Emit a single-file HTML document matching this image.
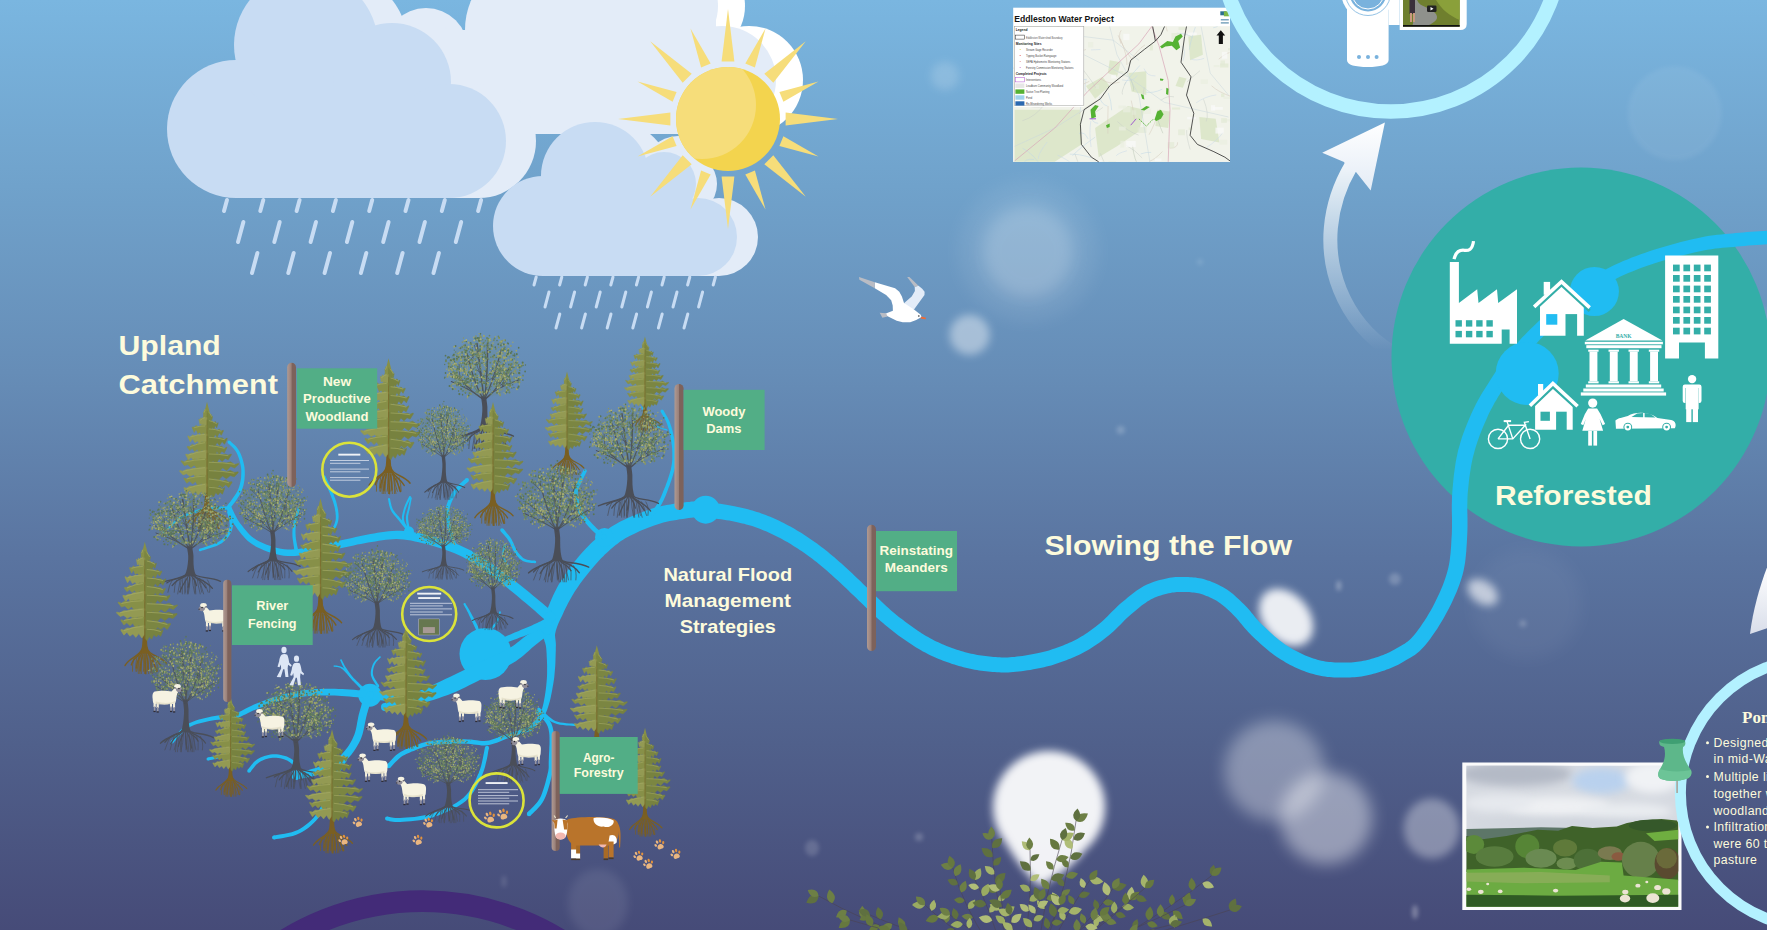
<!DOCTYPE html>
<html><head><meta charset="utf-8">
<style>
html,body{margin:0;padding:0;background:#5a6f9d;}
body{width:1767px;height:930px;overflow:hidden;position:relative;font-family:"Liberation Sans",sans-serif;}
svg{position:absolute;left:0;top:0;display:block}
text{font-family:"Liberation Sans",sans-serif;font-weight:bold;fill:#fdfbdc}
</style></head><body>
<svg width="1767" height="930" viewBox="0 0 1767 930">
<defs>
<linearGradient id="bg" x1="0" y1="0" x2="0" y2="1">
<stop offset="0" stop-color="#7ab6e0"/>
<stop offset="0.2" stop-color="#70a2cb"/>
<stop offset="0.4" stop-color="#668db7"/>
<stop offset="0.6" stop-color="#5a74a0"/>
<stop offset="0.8" stop-color="#50608b"/>
<stop offset="1" stop-color="#464b78"/>
</linearGradient>
<symbol id="con" viewBox="-50 0 100 175" preserveAspectRatio="none" overflow="visible"><g fill="none" stroke="#7a5f22" stroke-linecap="round"><path d="M-3.0 136 C-6.0 148.0 -22.0 148.0 -29.3 159.5" stroke-width="2"/><path d="M-16.0 150.0 q-3.0 8.0 -2.3 17.0" stroke-width="1.1"/><path d="M-9.0 146.0 q-1.0 10.0 -0.6 24.0" stroke-width="1"/><path d="M-2.2 136 C-4.5 148.0 -16.5 146.3 -20.0 158.7" stroke-width="2"/><path d="M-12.0 150.0 q-2.2 8.0 -1.1 17.0" stroke-width="1.1"/><path d="M-6.8 146.0 q-0.8 10.0 -0.6 24.0" stroke-width="1"/><path d="M-1.5 136 C-3.0 148.0 -11.0 146.3 -12.6 162.7" stroke-width="2"/><path d="M-8.0 150.0 q-1.5 8.0 -4.0 17.0" stroke-width="1.1"/><path d="M-4.5 146.0 q-0.5 10.0 -0.7 24.0" stroke-width="1"/><path d="M-0.8 136 C-1.5 148.0 -5.5 145.1 -7.1 165.6" stroke-width="2"/><path d="M-4.0 150.0 q-0.8 8.0 -2.6 17.0" stroke-width="1.1"/><path d="M-2.2 146.0 q-0.2 10.0 2.0 24.0" stroke-width="1"/><path d="M0.0 136 C0.0 148.0 0.0 148.0 1.6 170.0" stroke-width="2"/><path d="M0.0 150.0 q0.0 8.0 -2.2 17.0" stroke-width="1.1"/><path d="M0.0 146.0 q0.0 10.0 0.7 24.0" stroke-width="1"/><path d="M0.8 136 C1.5 148.0 5.5 148.4 5.3 165.5" stroke-width="2"/><path d="M4.0 150.0 q0.8 8.0 -0.5 17.0" stroke-width="1.1"/><path d="M2.2 146.0 q0.2 10.0 -1.2 24.0" stroke-width="1"/><path d="M1.5 136 C3.0 148.0 11.0 145.4 17.9 167.2" stroke-width="2"/><path d="M8.0 150.0 q1.5 8.0 5.3 17.0" stroke-width="1.1"/><path d="M4.5 146.0 q0.5 10.0 1.2 24.0" stroke-width="1"/><path d="M2.2 136 C4.5 148.0 16.5 148.7 23.6 159.7" stroke-width="2"/><path d="M12.0 150.0 q2.2 8.0 4.9 17.0" stroke-width="1.1"/><path d="M6.8 146.0 q0.8 10.0 4.3 24.0" stroke-width="1"/><path d="M3.0 136 C6.0 148.0 22.0 145.8 32.4 156.8" stroke-width="2"/><path d="M16.0 150.0 q3.0 8.0 3.0 17.0" stroke-width="1.1"/><path d="M9.0 146.0 q1.0 10.0 -0.1 24.0" stroke-width="1"/></g><path d="M-6 144 C-3.5 136 -2.4 126 -2 60 L0 6 L2 60 C2.4 126 3.5 136 6 144 Z" fill="#7a5f22"/><path d="M0 0 L3.5 12 L6 20 L-6 20 L-3.5 12 Z" fill="#879048"/><path d="M-0.0 9.0 L-0.7 9.8 L-1.3 9.3 L-2.0 10.9 L-2.7 10.4 L-3.4 11.7 L-4.0 10.7 L-4.7 14.8 L-5.4 13.7 L-5.4 14.9 L-4.7 19.3 L-4.0 17.8 L-3.4 22.7 L-2.7 19.0 L-2.0 22.6 L-1.3 20.4 L-0.7 23.7 L-0.0 19.8Z" fill="#879048" stroke="#879048" stroke-width="0.8" stroke-linejoin="round"/><path d="M-3.0 9.9 Q-2.7 10.8 -4.7 14.6" stroke="#a5ab64" stroke-width="1.3" fill="none" opacity="0.7"/><path d="M0.0 12.1 L1.0 14.4 L2.1 14.3 L3.1 16.0 L4.2 14.8 L5.2 17.6 L6.2 16.7 L7.3 19.8 L8.3 19.1 L8.3 20.3 L7.3 24.3 L6.2 22.7 L5.2 25.7 L4.2 23.2 L3.1 27.1 L2.1 24.8 L1.0 27.6 L0.0 24.1Z" fill="#7b8642" stroke="#7b8642" stroke-width="0.8" stroke-linejoin="round"/><path d="M3.0 13.8 Q4.2 15.2 7.3 19.6" stroke="#a5ab64" stroke-width="1.3" fill="none" opacity="0.7"/><path d="M-0.0 20.5 L-1.5 21.1 L-3.1 20.0 L-4.6 20.9 L-6.2 20.3 L-7.7 23.4 L-9.2 20.8 L-10.8 24.2 L-12.3 22.6 L-12.3 23.8 L-10.8 30.0 L-9.2 28.3 L-7.7 31.3 L-6.2 29.3 L-4.6 32.7 L-3.1 30.0 L-1.5 35.0 L-0.0 31.4Z" fill="#939a53" stroke="#939a53" stroke-width="0.8" stroke-linejoin="round"/><path d="M-3.0 20.9 Q-6.2 21.3 -10.8 24.5" stroke="#a5ab64" stroke-width="1.3" fill="none" opacity="0.7"/><path d="M0.0 23.7 L2.1 25.1 L4.3 24.4 L6.4 25.1 L8.5 25.8 L10.6 27.5 L12.8 25.9 L14.9 29.2 L17.0 27.5 L17.0 28.7 L14.9 34.3 L12.8 31.1 L10.6 35.5 L8.5 33.5 L6.4 38.2 L4.3 35.2 L2.1 38.0 L0.0 34.8Z" fill="#77823f" stroke="#77823f" stroke-width="0.8" stroke-linejoin="round"/><path d="M3.0 24.8 Q8.5 25.5 15.0 29.0" stroke="#a5ab64" stroke-width="1.3" fill="none" opacity="0.7"/><path d="M-0.0 30.8 L-2.8 31.6 L-5.6 30.6 L-8.4 31.3 L-11.2 31.9 L-14.0 32.9 L-16.8 31.2 L-19.6 33.5 L-22.5 33.2 L-22.5 34.4 L-19.6 40.5 L-16.8 36.4 L-14.0 42.1 L-11.2 40.2 L-8.4 43.7 L-5.6 40.9 L-2.8 45.7 L-0.0 42.7Z" fill="#879048" stroke="#879048" stroke-width="0.8" stroke-linejoin="round"/><path d="M-3.0 31.9 Q-11.2 31.7 -19.8 34.2" stroke="#a5ab64" stroke-width="1.3" fill="none" opacity="0.7"/><path d="M0.0 35.2 L3.1 35.7 L6.3 35.4 L9.4 36.1 L12.5 35.8 L15.6 37.9 L18.8 36.1 L21.9 38.6 L25.0 37.6 L25.0 38.8 L21.9 44.1 L18.8 40.8 L15.6 46.8 L12.5 43.2 L9.4 48.8 L6.3 44.8 L3.1 49.5 L0.0 47.0Z" fill="#7b8642" stroke="#7b8642" stroke-width="0.8" stroke-linejoin="round"/><path d="M3.0 35.8 Q12.5 36.0 22.0 38.8" stroke="#a5ab64" stroke-width="1.3" fill="none" opacity="0.7"/><path d="M-0.0 42.4 L-3.7 42.6 L-7.3 42.8 L-11.0 43.9 L-14.7 43.1 L-18.3 45.3 L-22.0 43.5 L-25.7 46.6 L-29.3 44.8 L-29.3 46.0 L-25.7 52.9 L-22.0 48.6 L-18.3 53.9 L-14.7 51.8 L-11.0 56.2 L-7.3 52.1 L-3.7 57.4 L-0.0 53.5Z" fill="#939a53" stroke="#939a53" stroke-width="0.8" stroke-linejoin="round"/><path d="M-3.0 42.9 Q-14.7 43.2 -25.8 46.3" stroke="#a5ab64" stroke-width="1.3" fill="none" opacity="0.7"/><path d="M0.0 45.3 L3.8 46.4 L7.7 46.0 L11.5 47.7 L15.4 46.9 L19.2 47.8 L23.1 47.4 L26.9 50.0 L30.8 47.8 L30.8 49.0 L26.9 56.0 L23.1 52.4 L19.2 57.5 L15.4 53.7 L11.5 59.6 L7.7 56.5 L3.8 61.1 L0.0 58.3Z" fill="#77823f" stroke="#77823f" stroke-width="0.8" stroke-linejoin="round"/><path d="M3.0 46.8 Q15.4 47.1 27.1 50.0" stroke="#a5ab64" stroke-width="1.3" fill="none" opacity="0.7"/><path d="M-0.0 52.3 L-3.8 53.1 L-7.6 53.1 L-11.3 55.1 L-15.1 55.1 L-18.9 57.7 L-22.7 56.1 L-26.5 59.0 L-30.2 58.8 L-30.2 60.0 L-26.5 64.3 L-22.7 61.6 L-18.9 65.4 L-15.1 62.6 L-11.3 67.6 L-7.6 63.9 L-3.8 67.6 L-0.0 64.4Z" fill="#879048" stroke="#879048" stroke-width="0.8" stroke-linejoin="round"/><path d="M-3.0 53.9 Q-15.1 55.2 -26.6 59.5" stroke="#a5ab64" stroke-width="1.3" fill="none" opacity="0.7"/><path d="M0.0 56.2 L3.8 57.1 L7.6 58.0 L11.4 58.3 L15.2 58.0 L19.0 59.0 L22.8 58.6 L26.5 61.8 L30.3 59.7 L30.3 60.9 L26.5 67.3 L22.8 65.2 L19.0 69.1 L15.2 65.7 L11.4 71.1 L7.6 68.0 L3.8 72.0 L0.0 68.8Z" fill="#7b8642" stroke="#7b8642" stroke-width="0.8" stroke-linejoin="round"/><path d="M3.0 57.8 Q15.2 58.3 26.7 61.4" stroke="#a5ab64" stroke-width="1.3" fill="none" opacity="0.7"/><path d="M-0.0 64.0 L-4.1 64.1 L-8.1 65.4 L-12.2 66.1 L-16.2 65.5 L-20.3 67.7 L-24.3 67.7 L-28.4 69.5 L-32.5 69.0 L-32.5 70.2 L-28.4 76.9 L-24.3 73.0 L-20.3 78.2 L-16.2 74.9 L-12.2 77.7 L-8.1 74.7 L-4.1 79.4 L-0.0 76.0Z" fill="#939a53" stroke="#939a53" stroke-width="0.8" stroke-linejoin="round"/><path d="M-3.0 64.9 Q-16.2 66.1 -28.6 70.3" stroke="#a5ab64" stroke-width="1.3" fill="none" opacity="0.7"/><path d="M0.0 67.8 L4.6 68.1 L9.3 68.1 L13.9 68.5 L18.6 68.6 L23.2 69.7 L27.9 69.1 L32.5 70.4 L37.2 68.9 L37.2 70.1 L32.5 76.4 L27.9 74.7 L23.2 78.6 L18.6 75.2 L13.9 81.5 L9.3 77.9 L4.6 81.9 L0.0 79.3Z" fill="#77823f" stroke="#77823f" stroke-width="0.8" stroke-linejoin="round"/><path d="M3.0 68.8 Q18.6 68.7 32.7 71.1" stroke="#a5ab64" stroke-width="1.3" fill="none" opacity="0.7"/><path d="M-0.0 74.8 L-4.9 75.5 L-9.9 74.7 L-14.8 76.1 L-19.7 75.6 L-24.7 77.7 L-29.6 76.3 L-34.6 79.3 L-39.5 77.6 L-39.5 78.8 L-34.6 84.2 L-29.6 82.8 L-24.7 86.9 L-19.7 83.6 L-14.8 88.6 L-9.9 85.9 L-4.9 90.4 L-0.0 87.0Z" fill="#879048" stroke="#879048" stroke-width="0.8" stroke-linejoin="round"/><path d="M-3.0 75.9 Q-19.7 76.3 -34.8 79.5" stroke="#a5ab64" stroke-width="1.3" fill="none" opacity="0.7"/><path d="M0.0 78.9 L6.0 79.6 L12.1 79.1 L18.1 80.2 L24.2 79.9 L30.2 80.7 L36.3 79.2 L42.3 82.7 L48.3 81.4 L48.3 82.6 L42.3 87.3 L36.3 85.1 L30.2 91.0 L24.2 87.1 L18.1 92.0 L12.1 89.5 L6.0 93.6 L0.0 89.7Z" fill="#7b8642" stroke="#7b8642" stroke-width="0.8" stroke-linejoin="round"/><path d="M3.0 79.8 Q24.2 79.8 42.5 82.4" stroke="#a5ab64" stroke-width="1.3" fill="none" opacity="0.7"/><path d="M-0.0 86.3 L-5.2 86.0 L-10.5 86.7 L-15.7 87.7 L-20.9 87.6 L-26.1 88.8 L-31.4 89.0 L-36.6 91.5 L-41.8 90.7 L-41.8 91.9 L-36.6 96.4 L-31.4 94.9 L-26.1 98.3 L-20.9 96.2 L-15.7 99.3 L-10.5 96.7 L-5.2 101.0 L-0.0 98.6Z" fill="#939a53" stroke="#939a53" stroke-width="0.8" stroke-linejoin="round"/><path d="M-3.0 86.9 Q-20.9 87.8 -36.8 91.6" stroke="#a5ab64" stroke-width="1.3" fill="none" opacity="0.7"/><path d="M0.0 89.1 L6.0 89.8 L11.9 90.9 L17.9 90.7 L23.8 91.3 L29.8 92.6 L35.7 90.7 L41.7 93.1 L47.7 92.4 L47.7 93.6 L41.7 99.0 L35.7 97.3 L29.8 101.5 L23.8 98.0 L17.9 102.9 L11.9 100.7 L6.0 105.1 L0.0 102.4Z" fill="#77823f" stroke="#77823f" stroke-width="0.8" stroke-linejoin="round"/><path d="M3.0 90.8 Q23.8 91.1 41.9 94.1" stroke="#a5ab64" stroke-width="1.3" fill="none" opacity="0.7"/><path d="M-0.0 97.3 L-4.4 96.8 L-8.9 97.0 L-13.3 98.5 L-17.7 97.7 L-22.1 100.1 L-26.6 98.9 L-31.0 101.9 L-35.4 100.4 L-35.4 101.6 L-31.0 107.4 L-26.6 104.4 L-22.1 108.4 L-17.7 105.1 L-13.3 111.4 L-8.9 107.7 L-4.4 111.8 L-0.0 109.5Z" fill="#879048" stroke="#879048" stroke-width="0.8" stroke-linejoin="round"/><path d="M-3.0 97.9 Q-17.7 98.4 -31.2 101.6" stroke="#a5ab64" stroke-width="1.3" fill="none" opacity="0.7"/><path d="M0.0 101.2 L4.8 100.9 L9.5 101.4 L14.3 102.4 L19.1 102.8 L23.8 104.8 L28.6 103.0 L33.3 105.9 L38.1 105.4 L38.1 106.6 L33.3 113.1 L28.6 109.5 L23.8 113.0 L19.1 109.8 L14.3 115.4 L9.5 112.2 L4.8 115.5 L0.0 112.8Z" fill="#7b8642" stroke="#7b8642" stroke-width="0.8" stroke-linejoin="round"/><path d="M3.0 101.8 Q19.1 102.8 33.5 106.7" stroke="#a5ab64" stroke-width="1.3" fill="none" opacity="0.7"/><path d="M-0.0 108.2 L-4.4 108.1 L-8.8 109.2 L-13.3 109.7 L-17.7 110.3 L-22.1 111.5 L-26.5 111.1 L-31.0 113.9 L-35.4 113.1 L-35.4 114.3 L-31.0 120.4 L-26.5 116.5 L-22.1 121.7 L-17.7 118.8 L-13.3 123.3 L-8.8 118.4 L-4.4 124.1 L-0.0 118.9Z" fill="#939a53" stroke="#939a53" stroke-width="0.8" stroke-linejoin="round"/><path d="M-3.0 108.9 Q-17.7 110.2 -31.1 114.6" stroke="#a5ab64" stroke-width="1.3" fill="none" opacity="0.7"/><path d="M0.0 112.1 L3.4 112.1 L6.7 112.1 L10.1 113.2 L13.5 112.2 L16.9 113.3 L20.2 112.1 L23.6 115.3 L27.0 113.3 L27.0 114.5 L23.6 121.9 L20.2 119.4 L16.9 122.8 L13.5 119.7 L10.1 125.6 L6.7 122.3 L3.4 127.5 L0.0 124.3Z" fill="#77823f" stroke="#77823f" stroke-width="0.8" stroke-linejoin="round"/><path d="M3.0 112.8 Q13.5 112.9 23.8 115.6" stroke="#a5ab64" stroke-width="1.3" fill="none" opacity="0.7"/><path d="M-1.1 136 L-0.7 40 L0 14 L0.7 40 L1.1 136 Z" fill="#7a5f22" opacity="0.55"/></symbol>
<symbol id="dec" viewBox="-50 0 100 130" preserveAspectRatio="none" overflow="visible"><g fill="none" stroke="#4a4e58" stroke-linecap="round"><path d="M-3.0 99 C-8.0 106.0 -22.0 105.6 -36.3 111.5" stroke-width="1.5"/><path d="M-20.0 107.0 q-4.0 6.0 -5.2 15.0" stroke-width="0.8"/><path d="M-11.0 105.0 q-1.0 8.0 -3.0 19.0" stroke-width="0.8"/><path d="M-2.2 99 C-6.0 106.0 -16.5 103.6 -26.5 110.7" stroke-width="1.5"/><path d="M-15.0 107.0 q-3.0 6.0 -3.0 15.0" stroke-width="0.8"/><path d="M-8.2 105.0 q-0.8 8.0 -0.5 19.0" stroke-width="0.8"/><path d="M-1.5 99 C-4.0 106.0 -11.0 101.5 -20.4 113.9" stroke-width="1.5"/><path d="M-10.0 107.0 q-2.0 6.0 -0.6 15.0" stroke-width="0.8"/><path d="M-5.5 105.0 q-0.5 8.0 -0.3 19.0" stroke-width="0.8"/><path d="M-0.8 99 C-2.0 106.0 -5.5 105.8 -11.7 121.6" stroke-width="1.5"/><path d="M-5.0 107.0 q-1.0 6.0 -0.3 15.0" stroke-width="0.8"/><path d="M-2.8 105.0 q-0.2 8.0 -0.1 19.0" stroke-width="0.8"/><path d="M0.0 99 C0.0 106.0 0.0 103.6 -2.1 116.1" stroke-width="1.5"/><path d="M0.0 107.0 q0.0 6.0 -2.6 15.0" stroke-width="0.8"/><path d="M0.0 105.0 q0.0 8.0 -1.9 19.0" stroke-width="0.8"/><path d="M0.8 99 C2.0 106.0 5.5 103.3 7.5 114.0" stroke-width="1.5"/><path d="M5.0 107.0 q1.0 6.0 0.9 15.0" stroke-width="0.8"/><path d="M2.8 105.0 q0.2 8.0 2.8 19.0" stroke-width="0.8"/><path d="M1.5 99 C4.0 106.0 11.0 103.5 18.1 116.6" stroke-width="1.5"/><path d="M10.0 107.0 q2.0 6.0 3.5 15.0" stroke-width="0.8"/><path d="M5.5 105.0 q0.5 8.0 1.2 19.0" stroke-width="0.8"/><path d="M2.2 99 C6.0 106.0 16.5 106.0 25.7 117.2" stroke-width="1.5"/><path d="M15.0 107.0 q3.0 6.0 5.8 15.0" stroke-width="0.8"/><path d="M8.2 105.0 q0.8 8.0 3.5 19.0" stroke-width="0.8"/><path d="M3.0 99 C8.0 106.0 22.0 102.4 34.9 108.8" stroke-width="1.5"/><path d="M20.0 107.0 q4.0 6.0 2.4 15.0" stroke-width="0.8"/><path d="M11.0 105.0 q1.0 8.0 4.6 19.0" stroke-width="0.8"/></g><path d="M-6 102 C-3.5 96 -2.5 90 -2 82 C-1.5 76 -3 72 -3.5 66 L2.5 66 C3 72 4.5 76 4 82 C4 90 4.5 96 7 102 Z" fill="#4a4e58"/><g fill="none" stroke="#4a4e58" stroke-linecap="round"><path d="M0 70 Q-12.8 63.7 -34.6 42.1" stroke-width="1.2"/><path d="M-27.5 48.9 L-41.5 40.8" stroke-width="0.8"/><path d="M-28.7 47.8 L-29.5 32.0" stroke-width="0.8"/><path d="M-19.7 56.0 L-31.6 43.7" stroke-width="0.8"/><path d="M0 70 Q-9.6 58.7 -20.3 20.6" stroke-width="1.5"/><path d="M-17.8 29.1 L-10.6 21.9" stroke-width="0.8"/><path d="M-11.1 48.9 L-22.3 42.3" stroke-width="0.8"/><path d="M-16.3 34.2 L-25.3 22.6" stroke-width="0.8"/><path d="M0 70 Q-1.5 57.0 -8.3 10.1" stroke-width="1.8"/><path d="M-5.1 32.3 L-15.9 22.1" stroke-width="0.8"/><path d="M-3.2 45.7 L-9.7 30.0" stroke-width="0.8"/><path d="M-5.9 26.6 L-11.4 11.8" stroke-width="0.8"/><path d="M0 70 Q3.6 61.1 4.3 9.4" stroke-width="1.9"/><path d="M2.9 50.7 L16.6 42.6" stroke-width="0.8"/><path d="M3.1 46.2 L10.8 36.9" stroke-width="0.8"/><path d="M3.2 45.1 L-8.7 38.2" stroke-width="0.8"/><path d="M0 70 Q7.8 59.0 20.5 16.5" stroke-width="1.5"/><path d="M12.3 42.1 L25.1 31.3" stroke-width="0.8"/><path d="M13.5 38.6 L23.8 30.7" stroke-width="0.8"/><path d="M9.4 50.1 L20.8 35.9" stroke-width="0.8"/><path d="M0 70 Q12.8 63.5 32.5 32.1" stroke-width="1.3"/><path d="M15.8 55.8 L28.4 41.0" stroke-width="0.8"/><path d="M22.1 47.7 L19.9 40.6" stroke-width="0.8"/><path d="M13.5 58.5 L26.4 50.1" stroke-width="0.8"/><path d="M0 70 Q-11.6 60.8 -38.8 50.5" stroke-width="1.1"/><path d="M-18.8 58.9 L-27.9 45.7" stroke-width="0.8"/><path d="M-14.8 60.9 L-22.4 49.3" stroke-width="0.8"/><path d="M-30.2 53.9 L-27.0 45.1" stroke-width="0.8"/><path d="M0 70 Q12.0 58.2 42.5 48.2" stroke-width="1.1"/><path d="M23.4 55.4 L11.1 47.6" stroke-width="0.8"/><path d="M21.8 56.1 L23.8 48.8" stroke-width="0.8"/><path d="M21.7 56.2 L32.6 40.4" stroke-width="0.8"/></g><ellipse cx="0" cy="36" rx="42" ry="31" fill="#6f8668" opacity="0.16"/><g fill="#9ea56a"><circle cx="-13.0" cy="11.0" r="0.8"/><circle cx="-16.8" cy="33.6" r="1.0"/><circle cx="-19.7" cy="67.8" r="0.7"/><circle cx="-17.6" cy="24.4" r="1.1"/><circle cx="24.0" cy="25.4" r="1.1"/><circle cx="20.9" cy="19.6" r="1.1"/><circle cx="-33.3" cy="23.8" r="0.9"/><circle cx="-10.3" cy="29.7" r="1.1"/><circle cx="29.2" cy="15.5" r="0.9"/><circle cx="-27.2" cy="24.7" r="1.2"/><circle cx="-42.9" cy="44.0" r="0.7"/><circle cx="31.5" cy="56.1" r="1.1"/><circle cx="-38.0" cy="45.4" r="1.0"/><circle cx="23.2" cy="33.7" r="1.2"/><circle cx="23.5" cy="24.5" r="1.1"/><circle cx="21.3" cy="21.2" r="1.0"/><circle cx="-2.8" cy="15.7" r="1.2"/><circle cx="-13.4" cy="18.6" r="0.8"/><circle cx="40.3" cy="24.5" r="0.9"/><circle cx="28.9" cy="17.1" r="1.0"/><circle cx="-31.7" cy="42.8" r="1.1"/><circle cx="14.1" cy="53.8" r="0.7"/><circle cx="16.8" cy="60.4" r="0.8"/><circle cx="13.5" cy="2.8" r="0.8"/><circle cx="39.6" cy="47.0" r="0.8"/><circle cx="-26.4" cy="37.8" r="0.9"/><circle cx="-36.5" cy="32.5" r="1.1"/><circle cx="28.6" cy="46.6" r="1.1"/><circle cx="17.3" cy="63.4" r="0.7"/><circle cx="-19.1" cy="15.7" r="1.2"/><circle cx="29.0" cy="27.7" r="1.1"/><circle cx="-25.1" cy="13.0" r="0.8"/><circle cx="46.1" cy="31.8" r="1.0"/><circle cx="-19.2" cy="66.2" r="1.2"/><circle cx="-2.6" cy="23.6" r="0.9"/><circle cx="-37.9" cy="56.6" r="0.9"/><circle cx="20.6" cy="24.6" r="1.0"/><circle cx="27.4" cy="21.3" r="1.1"/><circle cx="20.5" cy="34.6" r="1.1"/><circle cx="29.4" cy="21.8" r="0.8"/><circle cx="17.2" cy="23.7" r="1.2"/><circle cx="-35.2" cy="32.0" r="0.8"/><circle cx="-36.3" cy="40.9" r="1.2"/><circle cx="-11.8" cy="19.2" r="1.0"/><circle cx="-29.1" cy="54.7" r="0.8"/><circle cx="19.5" cy="48.2" r="0.9"/><circle cx="31.2" cy="26.6" r="0.7"/><circle cx="18.1" cy="37.4" r="1.1"/><circle cx="44.1" cy="48.3" r="0.8"/><circle cx="17.7" cy="4.3" r="1.2"/><circle cx="-16.7" cy="39.4" r="1.0"/><circle cx="-21.5" cy="32.5" r="0.8"/><circle cx="-6.7" cy="23.2" r="1.1"/><circle cx="-10.6" cy="54.0" r="1.2"/><circle cx="7.9" cy="6.6" r="0.8"/><circle cx="-0.9" cy="46.9" r="1.2"/><circle cx="-4.5" cy="20.9" r="1.1"/><circle cx="39.9" cy="29.5" r="0.8"/><circle cx="14.7" cy="40.8" r="0.8"/><circle cx="-7.2" cy="44.3" r="1.0"/><circle cx="-20.3" cy="37.8" r="0.8"/><circle cx="10.9" cy="28.9" r="0.8"/><circle cx="14.7" cy="49.3" r="0.9"/><circle cx="8.8" cy="45.3" r="0.7"/><circle cx="11.2" cy="23.6" r="0.9"/><circle cx="-17.2" cy="44.7" r="0.8"/><circle cx="-36.3" cy="45.1" r="1.2"/><circle cx="38.3" cy="17.6" r="1.0"/><circle cx="30.7" cy="35.2" r="1.2"/><circle cx="7.4" cy="4.9" r="0.9"/><circle cx="28.5" cy="16.0" r="1.1"/><circle cx="-33.1" cy="52.6" r="0.7"/><circle cx="39.0" cy="58.7" r="1.2"/><circle cx="23.4" cy="41.6" r="1.2"/><circle cx="10.3" cy="33.8" r="1.0"/><circle cx="23.8" cy="30.7" r="1.1"/><circle cx="36.5" cy="39.9" r="1.1"/><circle cx="-43.1" cy="45.3" r="1.1"/><circle cx="20.4" cy="33.8" r="1.0"/><circle cx="-32.9" cy="31.2" r="0.7"/><circle cx="0.6" cy="28.6" r="1.2"/><circle cx="41.2" cy="45.9" r="1.0"/><circle cx="-29.9" cy="46.5" r="0.9"/><circle cx="15.9" cy="40.8" r="1.1"/><circle cx="-32.9" cy="31.6" r="1.0"/><circle cx="-31.4" cy="52.8" r="0.9"/><circle cx="-4.5" cy="16.5" r="1.1"/><circle cx="23.7" cy="62.2" r="0.7"/><circle cx="25.2" cy="63.6" r="0.8"/><circle cx="28.8" cy="43.0" r="0.8"/><circle cx="-11.5" cy="46.8" r="0.9"/><circle cx="-29.1" cy="51.0" r="1.0"/><circle cx="5.7" cy="6.3" r="0.8"/><circle cx="23.5" cy="24.9" r="0.9"/><circle cx="-5.8" cy="-0.6" r="0.8"/><circle cx="6.1" cy="7.8" r="0.7"/><circle cx="-24.5" cy="45.5" r="0.8"/><circle cx="-6.1" cy="19.5" r="0.8"/><circle cx="-27.8" cy="38.1" r="0.9"/><circle cx="-6.4" cy="7.5" r="0.8"/><circle cx="-29.4" cy="14.5" r="0.8"/><circle cx="16.5" cy="19.4" r="0.8"/><circle cx="-20.8" cy="25.2" r="1.1"/><circle cx="15.3" cy="61.9" r="1.0"/><circle cx="35.8" cy="33.7" r="1.0"/><circle cx="6.4" cy="60.8" r="0.7"/><circle cx="-14.2" cy="13.1" r="1.1"/><circle cx="-13.3" cy="33.5" r="0.9"/><circle cx="-13.7" cy="56.9" r="1.0"/><circle cx="-9.6" cy="18.9" r="1.0"/><circle cx="-21.4" cy="40.3" r="1.2"/><circle cx="-13.6" cy="35.0" r="1.2"/><circle cx="-41.7" cy="38.5" r="1.1"/><circle cx="18.2" cy="63.3" r="1.2"/><circle cx="-40.9" cy="43.5" r="0.8"/><circle cx="21.7" cy="32.6" r="0.7"/><circle cx="11.0" cy="30.0" r="1.0"/><circle cx="-26.8" cy="50.8" r="1.1"/><circle cx="4.7" cy="52.1" r="1.2"/><circle cx="-34.4" cy="37.0" r="1.1"/><circle cx="25.9" cy="24.6" r="1.2"/><circle cx="25.5" cy="11.0" r="1.2"/><circle cx="36.3" cy="28.7" r="1.0"/><circle cx="9.8" cy="14.5" r="0.9"/><circle cx="-1.0" cy="29.6" r="0.8"/><circle cx="-34.1" cy="44.0" r="1.2"/><circle cx="-27.0" cy="27.0" r="1.2"/><circle cx="0.1" cy="31.4" r="1.0"/><circle cx="-8.0" cy="50.4" r="0.9"/><circle cx="-26.1" cy="21.9" r="1.0"/><circle cx="9.0" cy="41.4" r="1.2"/><circle cx="32.6" cy="26.7" r="1.2"/><circle cx="-20.8" cy="42.0" r="1.0"/><circle cx="-22.0" cy="37.8" r="0.7"/><circle cx="9.3" cy="15.4" r="1.0"/><circle cx="25.9" cy="28.6" r="1.2"/><circle cx="31.4" cy="12.3" r="0.9"/><circle cx="-26.5" cy="46.4" r="0.8"/><circle cx="34.2" cy="8.5" r="0.8"/><circle cx="-24.7" cy="18.8" r="0.7"/><circle cx="9.3" cy="50.2" r="1.2"/><circle cx="-2.1" cy="13.3" r="1.1"/><circle cx="22.5" cy="45.7" r="1.1"/><circle cx="26.6" cy="36.5" r="0.8"/><circle cx="6.1" cy="13.2" r="0.7"/><circle cx="41.9" cy="53.0" r="0.9"/><circle cx="11.7" cy="39.9" r="0.8"/><circle cx="-18.2" cy="9.0" r="1.1"/><circle cx="2.8" cy="62.2" r="1.0"/><circle cx="20.8" cy="39.9" r="1.0"/><circle cx="-0.1" cy="1.8" r="1.1"/><circle cx="17.4" cy="43.9" r="0.9"/><circle cx="31.7" cy="32.4" r="1.1"/><circle cx="-34.6" cy="53.0" r="0.8"/><circle cx="-5.2" cy="21.7" r="0.9"/><circle cx="-11.8" cy="30.2" r="0.8"/><circle cx="-39.4" cy="28.2" r="0.9"/><circle cx="15.7" cy="30.2" r="0.8"/><circle cx="-5.3" cy="8.9" r="0.9"/><circle cx="16.5" cy="22.9" r="1.1"/><circle cx="-36.5" cy="57.5" r="0.9"/><circle cx="-9.9" cy="40.0" r="0.9"/><circle cx="-21.2" cy="19.7" r="1.2"/><circle cx="-12.2" cy="3.4" r="1.0"/><circle cx="5.1" cy="5.1" r="1.0"/><circle cx="18.5" cy="57.2" r="0.9"/><circle cx="-39.2" cy="26.4" r="0.8"/><circle cx="-11.4" cy="33.5" r="1.2"/><circle cx="24.7" cy="38.5" r="1.2"/><circle cx="27.1" cy="60.5" r="1.2"/><circle cx="-29.1" cy="22.9" r="1.1"/><circle cx="17.5" cy="35.9" r="1.1"/><circle cx="30.7" cy="20.8" r="1.1"/><circle cx="16.4" cy="54.9" r="0.7"/><circle cx="-30.3" cy="20.5" r="1.0"/><circle cx="43.3" cy="45.6" r="1.1"/><circle cx="-27.2" cy="50.1" r="0.8"/><circle cx="-22.3" cy="40.1" r="1.2"/><circle cx="18.4" cy="18.3" r="0.9"/><circle cx="28.2" cy="21.8" r="1.0"/><circle cx="-42.8" cy="43.3" r="1.1"/><circle cx="-4.1" cy="9.1" r="1.1"/><circle cx="-19.7" cy="36.0" r="0.8"/><circle cx="31.9" cy="31.9" r="0.8"/><circle cx="-36.6" cy="28.1" r="1.2"/><circle cx="40.2" cy="35.9" r="1.2"/><circle cx="-27.3" cy="47.4" r="1.1"/><circle cx="-21.9" cy="20.5" r="1.1"/><circle cx="17.9" cy="47.7" r="0.9"/></g><g fill="#85946a"><circle cx="-29.5" cy="23.8" r="1.0"/><circle cx="13.0" cy="37.5" r="1.2"/><circle cx="42.3" cy="51.2" r="1.1"/><circle cx="24.6" cy="43.1" r="1.2"/><circle cx="37.3" cy="38.8" r="1.1"/><circle cx="-22.4" cy="32.5" r="1.2"/><circle cx="-15.3" cy="20.3" r="1.1"/><circle cx="-4.6" cy="58.4" r="1.2"/><circle cx="37.8" cy="50.7" r="1.2"/><circle cx="2.6" cy="22.0" r="1.0"/><circle cx="15.9" cy="39.7" r="1.2"/><circle cx="3.4" cy="55.0" r="1.2"/><circle cx="-6.3" cy="63.6" r="0.7"/><circle cx="-31.8" cy="45.3" r="1.0"/><circle cx="14.6" cy="28.8" r="1.0"/><circle cx="4.5" cy="15.8" r="1.0"/><circle cx="-13.5" cy="21.9" r="1.0"/><circle cx="-33.9" cy="58.4" r="1.0"/><circle cx="22.0" cy="58.4" r="0.7"/><circle cx="-24.3" cy="4.1" r="0.8"/><circle cx="35.9" cy="46.4" r="1.1"/><circle cx="-2.1" cy="61.8" r="1.2"/><circle cx="-1.5" cy="51.7" r="1.2"/><circle cx="46.5" cy="44.6" r="0.8"/><circle cx="36.3" cy="31.5" r="1.1"/><circle cx="15.6" cy="38.3" r="0.8"/><circle cx="-35.1" cy="21.8" r="1.0"/><circle cx="-19.4" cy="46.9" r="1.0"/><circle cx="21.5" cy="7.1" r="1.1"/><circle cx="-38.9" cy="55.3" r="1.1"/><circle cx="2.7" cy="27.6" r="0.9"/><circle cx="10.1" cy="23.3" r="0.8"/><circle cx="-13.9" cy="28.4" r="1.1"/><circle cx="-20.3" cy="32.2" r="1.0"/><circle cx="0.1" cy="39.2" r="1.2"/><circle cx="-9.6" cy="2.2" r="1.0"/><circle cx="-31.6" cy="20.7" r="1.0"/><circle cx="-17.9" cy="51.3" r="1.2"/><circle cx="28.9" cy="41.5" r="1.1"/><circle cx="10.3" cy="33.7" r="1.2"/><circle cx="19.2" cy="65.1" r="1.2"/><circle cx="-37.5" cy="45.1" r="0.9"/><circle cx="-18.7" cy="31.0" r="1.0"/><circle cx="-32.4" cy="40.2" r="1.0"/><circle cx="35.1" cy="47.9" r="0.7"/><circle cx="-16.0" cy="49.9" r="0.7"/><circle cx="8.9" cy="15.7" r="1.1"/><circle cx="-25.6" cy="45.8" r="1.2"/><circle cx="-12.0" cy="21.0" r="0.7"/><circle cx="21.9" cy="6.9" r="0.7"/><circle cx="-14.5" cy="38.5" r="1.0"/><circle cx="12.9" cy="50.3" r="1.0"/><circle cx="16.6" cy="24.5" r="0.9"/><circle cx="17.4" cy="13.9" r="0.9"/><circle cx="21.0" cy="47.2" r="0.9"/><circle cx="-20.9" cy="21.2" r="1.0"/><circle cx="19.1" cy="33.4" r="1.2"/><circle cx="-9.9" cy="45.7" r="1.1"/><circle cx="28.5" cy="21.0" r="0.9"/><circle cx="-32.1" cy="47.8" r="1.1"/><circle cx="-23.3" cy="58.8" r="0.9"/><circle cx="-40.2" cy="32.1" r="1.2"/><circle cx="-23.6" cy="38.4" r="1.2"/><circle cx="-37.8" cy="38.5" r="1.2"/><circle cx="-4.0" cy="57.3" r="1.2"/><circle cx="35.1" cy="30.1" r="0.7"/><circle cx="20.0" cy="47.6" r="1.1"/><circle cx="17.7" cy="53.7" r="1.2"/><circle cx="18.3" cy="31.4" r="1.0"/><circle cx="-19.3" cy="50.5" r="1.0"/><circle cx="-34.0" cy="51.6" r="1.0"/><circle cx="24.6" cy="50.4" r="1.0"/><circle cx="17.7" cy="11.2" r="0.7"/><circle cx="-16.6" cy="45.9" r="1.2"/><circle cx="37.5" cy="51.1" r="1.2"/><circle cx="7.0" cy="18.8" r="0.8"/><circle cx="11.9" cy="31.1" r="1.2"/><circle cx="20.0" cy="59.2" r="1.0"/><circle cx="-17.1" cy="49.7" r="1.1"/><circle cx="-13.9" cy="32.1" r="1.1"/><circle cx="-3.4" cy="3.3" r="1.2"/><circle cx="19.7" cy="23.2" r="1.2"/><circle cx="36.0" cy="51.6" r="0.9"/><circle cx="19.6" cy="50.2" r="1.1"/><circle cx="11.3" cy="25.4" r="0.8"/><circle cx="9.9" cy="61.2" r="0.8"/><circle cx="-10.5" cy="26.4" r="1.1"/><circle cx="-3.5" cy="35.5" r="1.1"/><circle cx="-1.4" cy="10.3" r="1.1"/><circle cx="21.9" cy="28.0" r="0.8"/><circle cx="-38.2" cy="53.6" r="0.8"/><circle cx="-21.2" cy="18.8" r="0.9"/><circle cx="-41.4" cy="32.4" r="1.2"/><circle cx="5.8" cy="44.0" r="0.9"/><circle cx="-13.1" cy="22.6" r="1.1"/><circle cx="-7.0" cy="21.1" r="1.1"/><circle cx="-31.8" cy="27.4" r="1.0"/><circle cx="22.6" cy="20.3" r="0.8"/><circle cx="-4.5" cy="62.2" r="0.9"/><circle cx="33.9" cy="41.2" r="0.9"/><circle cx="-31.0" cy="44.5" r="1.1"/><circle cx="27.2" cy="36.5" r="0.8"/><circle cx="30.0" cy="34.8" r="0.7"/><circle cx="-33.7" cy="43.8" r="1.0"/><circle cx="-0.3" cy="51.2" r="0.9"/><circle cx="23.2" cy="40.0" r="0.7"/><circle cx="32.4" cy="27.3" r="1.1"/><circle cx="-41.3" cy="33.9" r="1.0"/><circle cx="24.4" cy="45.5" r="1.1"/><circle cx="-4.9" cy="25.6" r="0.9"/><circle cx="19.3" cy="8.9" r="1.2"/><circle cx="12.3" cy="56.0" r="0.8"/><circle cx="35.3" cy="39.9" r="0.8"/><circle cx="19.2" cy="49.9" r="1.2"/><circle cx="-25.0" cy="42.1" r="0.7"/><circle cx="-20.1" cy="26.0" r="0.8"/><circle cx="-32.1" cy="33.7" r="1.1"/><circle cx="-17.4" cy="48.7" r="0.8"/><circle cx="-37.0" cy="45.6" r="0.9"/><circle cx="22.1" cy="43.2" r="0.7"/><circle cx="-23.5" cy="26.6" r="1.0"/><circle cx="-41.5" cy="36.1" r="1.2"/><circle cx="26.6" cy="45.3" r="1.2"/><circle cx="5.9" cy="11.0" r="0.7"/><circle cx="-23.4" cy="7.5" r="0.7"/><circle cx="-17.4" cy="55.2" r="1.1"/><circle cx="-14.6" cy="31.7" r="1.1"/><circle cx="3.4" cy="51.5" r="0.8"/><circle cx="-30.3" cy="24.9" r="0.7"/><circle cx="-34.2" cy="44.8" r="1.0"/><circle cx="18.6" cy="55.6" r="1.2"/><circle cx="-15.5" cy="63.7" r="1.2"/><circle cx="-4.4" cy="2.0" r="1.2"/><circle cx="9.9" cy="12.1" r="1.2"/><circle cx="-31.1" cy="26.1" r="1.1"/><circle cx="-30.7" cy="38.1" r="0.9"/><circle cx="31.3" cy="47.6" r="1.1"/><circle cx="0.7" cy="42.3" r="0.7"/><circle cx="11.9" cy="34.5" r="1.2"/><circle cx="11.8" cy="54.2" r="1.2"/><circle cx="4.8" cy="54.5" r="0.9"/><circle cx="38.1" cy="41.6" r="1.0"/><circle cx="-4.5" cy="21.5" r="1.0"/><circle cx="-2.9" cy="20.6" r="1.1"/><circle cx="-28.9" cy="30.7" r="1.2"/><circle cx="-11.7" cy="22.6" r="0.8"/><circle cx="17.0" cy="59.5" r="0.7"/><circle cx="32.0" cy="12.5" r="0.9"/><circle cx="-25.6" cy="8.4" r="0.9"/><circle cx="-21.3" cy="52.2" r="0.8"/><circle cx="-23.3" cy="53.5" r="0.8"/><circle cx="-21.3" cy="59.8" r="0.9"/><circle cx="-43.6" cy="45.4" r="0.9"/><circle cx="-25.3" cy="22.1" r="0.7"/><circle cx="12.4" cy="24.8" r="0.8"/><circle cx="36.6" cy="38.2" r="0.7"/><circle cx="15.0" cy="20.6" r="0.8"/><circle cx="1.8" cy="24.8" r="1.1"/><circle cx="23.8" cy="46.6" r="0.9"/><circle cx="-13.4" cy="18.1" r="1.2"/><circle cx="37.0" cy="40.1" r="1.0"/><circle cx="0.8" cy="47.3" r="1.1"/><circle cx="38.7" cy="33.2" r="0.9"/><circle cx="-23.1" cy="12.3" r="1.2"/><circle cx="2.3" cy="35.9" r="1.2"/><circle cx="-0.4" cy="42.8" r="1.0"/></g><g fill="#5a7556"><circle cx="12.1" cy="22.4" r="1.1"/><circle cx="31.8" cy="20.1" r="1.2"/><circle cx="-30.1" cy="24.5" r="0.9"/><circle cx="-34.3" cy="46.1" r="1.0"/><circle cx="2.4" cy="25.4" r="1.2"/><circle cx="20.9" cy="43.0" r="1.1"/><circle cx="16.6" cy="49.2" r="0.8"/><circle cx="-19.6" cy="43.0" r="0.8"/><circle cx="-5.8" cy="7.1" r="1.2"/><circle cx="-21.7" cy="17.9" r="1.2"/><circle cx="-4.2" cy="37.9" r="0.8"/><circle cx="-3.9" cy="6.6" r="0.8"/><circle cx="-39.5" cy="27.8" r="1.1"/><circle cx="27.0" cy="38.8" r="0.8"/><circle cx="-15.6" cy="57.5" r="1.1"/><circle cx="33.4" cy="27.3" r="1.0"/><circle cx="-20.3" cy="47.8" r="1.1"/><circle cx="40.2" cy="57.3" r="0.9"/><circle cx="-8.1" cy="46.3" r="0.9"/><circle cx="-20.8" cy="28.3" r="0.9"/><circle cx="-22.8" cy="40.3" r="0.9"/><circle cx="-33.8" cy="32.8" r="1.1"/><circle cx="-10.2" cy="42.8" r="1.2"/><circle cx="29.7" cy="45.5" r="1.1"/><circle cx="-22.3" cy="11.9" r="1.1"/><circle cx="-7.9" cy="32.3" r="1.1"/><circle cx="-17.3" cy="18.9" r="0.7"/><circle cx="24.2" cy="48.6" r="0.8"/><circle cx="-36.3" cy="45.5" r="1.1"/><circle cx="38.5" cy="46.7" r="0.7"/><circle cx="-42.9" cy="25.2" r="1.1"/><circle cx="15.7" cy="42.2" r="1.1"/><circle cx="-18.6" cy="23.6" r="1.1"/><circle cx="35.4" cy="35.3" r="0.9"/><circle cx="-6.0" cy="4.3" r="1.2"/><circle cx="-27.9" cy="14.9" r="1.1"/><circle cx="33.0" cy="57.4" r="0.8"/><circle cx="-5.9" cy="6.7" r="1.2"/><circle cx="-12.9" cy="20.9" r="0.8"/><circle cx="-31.0" cy="36.8" r="1.1"/><circle cx="35.5" cy="56.9" r="0.8"/><circle cx="8.2" cy="55.7" r="0.8"/><circle cx="-41.0" cy="24.8" r="0.9"/><circle cx="2.5" cy="53.8" r="1.1"/><circle cx="-0.5" cy="44.9" r="1.2"/><circle cx="5.2" cy="47.1" r="1.0"/><circle cx="26.8" cy="23.3" r="1.0"/><circle cx="-26.8" cy="33.8" r="0.8"/><circle cx="-11.2" cy="47.2" r="1.0"/><circle cx="34.0" cy="53.8" r="0.8"/><circle cx="31.0" cy="50.0" r="1.0"/><circle cx="34.6" cy="22.6" r="0.9"/><circle cx="-5.0" cy="17.5" r="1.2"/><circle cx="-2.2" cy="53.4" r="0.7"/><circle cx="16.8" cy="10.7" r="1.0"/><circle cx="-21.4" cy="27.1" r="0.9"/><circle cx="-29.2" cy="63.9" r="1.2"/><circle cx="-38.8" cy="27.9" r="1.0"/><circle cx="36.2" cy="21.0" r="0.8"/><circle cx="19.9" cy="42.0" r="1.0"/><circle cx="-12.4" cy="49.4" r="1.1"/><circle cx="22.5" cy="38.6" r="1.0"/><circle cx="36.3" cy="22.6" r="0.9"/><circle cx="-22.4" cy="29.8" r="0.9"/><circle cx="-14.4" cy="27.0" r="0.8"/><circle cx="45.8" cy="30.4" r="1.2"/><circle cx="-32.6" cy="44.3" r="1.0"/><circle cx="49.1" cy="32.9" r="0.8"/><circle cx="13.4" cy="13.8" r="1.0"/><circle cx="-16.0" cy="31.2" r="0.9"/><circle cx="38.8" cy="21.3" r="1.2"/><circle cx="41.1" cy="14.5" r="1.0"/><circle cx="-7.8" cy="49.2" r="1.1"/><circle cx="-23.6" cy="36.3" r="0.9"/><circle cx="-15.6" cy="42.9" r="0.8"/><circle cx="23.5" cy="10.8" r="1.1"/><circle cx="41.0" cy="56.0" r="1.2"/><circle cx="-22.8" cy="47.1" r="0.9"/><circle cx="-9.7" cy="48.7" r="1.0"/><circle cx="13.6" cy="42.3" r="1.2"/><circle cx="-13.5" cy="30.6" r="0.8"/><circle cx="15.4" cy="62.4" r="1.0"/><circle cx="-31.8" cy="24.1" r="0.7"/><circle cx="-22.9" cy="27.4" r="1.1"/><circle cx="8.7" cy="11.1" r="0.7"/><circle cx="0.8" cy="52.3" r="0.9"/><circle cx="-19.3" cy="51.2" r="1.2"/><circle cx="-13.1" cy="44.4" r="1.1"/><circle cx="-22.0" cy="62.5" r="0.9"/><circle cx="-36.8" cy="22.9" r="0.7"/><circle cx="-29.7" cy="48.2" r="0.8"/><circle cx="6.8" cy="15.9" r="1.2"/><circle cx="0.6" cy="20.0" r="1.2"/><circle cx="-10.3" cy="4.5" r="1.2"/><circle cx="-14.0" cy="17.5" r="1.1"/><circle cx="26.6" cy="62.0" r="1.2"/><circle cx="-7.4" cy="25.0" r="0.9"/><circle cx="-5.1" cy="61.0" r="1.1"/><circle cx="24.0" cy="15.4" r="0.8"/><circle cx="41.6" cy="33.0" r="1.1"/><circle cx="25.7" cy="38.1" r="1.0"/><circle cx="-22.7" cy="24.1" r="1.2"/><circle cx="-21.6" cy="49.9" r="1.2"/><circle cx="-34.9" cy="44.0" r="0.7"/><circle cx="18.5" cy="42.1" r="0.9"/><circle cx="-9.0" cy="30.3" r="0.7"/><circle cx="-10.6" cy="32.2" r="0.8"/><circle cx="-22.0" cy="53.6" r="1.0"/><circle cx="27.2" cy="48.9" r="1.0"/><circle cx="-21.0" cy="32.1" r="1.2"/><circle cx="24.1" cy="28.1" r="1.0"/><circle cx="27.5" cy="44.5" r="1.1"/><circle cx="-45.6" cy="22.9" r="1.0"/><circle cx="-39.3" cy="35.2" r="1.0"/><circle cx="-10.1" cy="32.5" r="0.9"/><circle cx="16.5" cy="41.0" r="0.7"/><circle cx="-17.7" cy="51.0" r="0.8"/><circle cx="7.0" cy="19.1" r="1.2"/><circle cx="-28.8" cy="47.3" r="0.7"/><circle cx="15.3" cy="52.0" r="1.1"/><circle cx="-4.1" cy="-0.4" r="0.9"/><circle cx="15.4" cy="6.8" r="0.8"/><circle cx="-7.6" cy="52.3" r="1.2"/><circle cx="15.7" cy="43.1" r="1.1"/><circle cx="-15.1" cy="19.9" r="0.8"/><circle cx="-40.9" cy="55.3" r="1.1"/><circle cx="36.9" cy="33.4" r="0.8"/><circle cx="40.9" cy="47.7" r="1.1"/><circle cx="24.8" cy="17.2" r="1.2"/><circle cx="-29.1" cy="37.1" r="0.9"/><circle cx="-34.7" cy="30.1" r="0.8"/><circle cx="13.6" cy="45.2" r="0.9"/><circle cx="-4.4" cy="12.8" r="1.1"/><circle cx="46.2" cy="33.2" r="0.9"/><circle cx="-33.7" cy="12.6" r="1.1"/><circle cx="30.8" cy="55.5" r="0.7"/><circle cx="-46.3" cy="45.9" r="0.8"/><circle cx="26.9" cy="57.2" r="0.7"/><circle cx="14.8" cy="55.9" r="1.2"/><circle cx="11.1" cy="45.8" r="1.0"/><circle cx="22.3" cy="52.0" r="1.1"/><circle cx="-35.4" cy="26.5" r="1.2"/><circle cx="-0.3" cy="61.7" r="1.2"/><circle cx="15.3" cy="30.8" r="1.0"/><circle cx="27.9" cy="21.0" r="1.2"/><circle cx="-32.2" cy="23.5" r="0.9"/><circle cx="26.2" cy="54.5" r="1.2"/><circle cx="32.0" cy="36.3" r="1.0"/><circle cx="33.2" cy="35.3" r="1.1"/><circle cx="-13.9" cy="28.1" r="0.7"/><circle cx="7.6" cy="41.9" r="1.0"/><circle cx="-21.0" cy="7.7" r="1.0"/><circle cx="-2.5" cy="30.8" r="1.0"/><circle cx="-26.3" cy="24.1" r="1.2"/><circle cx="-35.8" cy="22.0" r="1.2"/><circle cx="-25.9" cy="19.9" r="0.9"/><circle cx="-24.3" cy="53.3" r="0.8"/><circle cx="18.1" cy="33.5" r="1.1"/><circle cx="-36.3" cy="27.1" r="1.1"/><circle cx="-25.2" cy="43.6" r="0.8"/><circle cx="-0.9" cy="52.3" r="0.8"/><circle cx="-45.1" cy="27.6" r="0.9"/><circle cx="30.2" cy="38.4" r="1.1"/><circle cx="-37.1" cy="58.5" r="1.2"/><circle cx="-15.9" cy="49.0" r="1.2"/><circle cx="-28.0" cy="53.0" r="1.1"/><circle cx="-0.8" cy="9.4" r="0.8"/><circle cx="-32.1" cy="26.3" r="1.2"/><circle cx="36.4" cy="23.3" r="0.7"/><circle cx="-25.4" cy="64.5" r="0.9"/><circle cx="8.9" cy="12.3" r="1.0"/><circle cx="37.8" cy="30.1" r="0.8"/><circle cx="-16.1" cy="43.1" r="1.0"/><circle cx="-24.6" cy="60.4" r="0.7"/><circle cx="-15.9" cy="16.1" r="0.9"/><circle cx="10.3" cy="36.1" r="1.0"/><circle cx="-23.3" cy="51.3" r="1.2"/><circle cx="0.0" cy="50.8" r="0.8"/><circle cx="-42.0" cy="34.6" r="1.0"/><circle cx="41.9" cy="41.6" r="1.2"/><circle cx="23.9" cy="43.2" r="1.2"/><circle cx="23.2" cy="47.0" r="1.2"/><circle cx="-6.6" cy="60.4" r="0.9"/><circle cx="46.1" cy="48.9" r="0.9"/><circle cx="-24.4" cy="49.6" r="1.0"/><circle cx="-36.0" cy="40.6" r="0.9"/><circle cx="-18.1" cy="65.4" r="1.0"/><circle cx="32.0" cy="38.0" r="1.1"/><circle cx="-39.2" cy="42.2" r="0.9"/><circle cx="-35.3" cy="16.9" r="0.7"/><circle cx="-31.0" cy="34.8" r="1.0"/><circle cx="-18.5" cy="15.4" r="1.0"/><circle cx="-46.7" cy="46.8" r="0.8"/><circle cx="29.0" cy="17.2" r="0.9"/><circle cx="1.8" cy="21.9" r="1.0"/><circle cx="3.0" cy="31.3" r="1.2"/><circle cx="-37.4" cy="46.2" r="0.8"/><circle cx="-15.7" cy="49.7" r="0.9"/><circle cx="42.1" cy="35.5" r="1.2"/><circle cx="23.0" cy="32.7" r="1.1"/><circle cx="-4.5" cy="50.9" r="1.2"/><circle cx="-15.8" cy="9.4" r="1.1"/><circle cx="-34.3" cy="45.7" r="1.0"/><circle cx="14.5" cy="24.9" r="0.8"/><circle cx="18.0" cy="38.4" r="0.9"/><circle cx="-46.5" cy="32.3" r="0.7"/><circle cx="18.0" cy="37.1" r="0.9"/><circle cx="27.1" cy="52.8" r="1.2"/><circle cx="-36.4" cy="41.3" r="1.0"/><circle cx="-10.0" cy="21.5" r="0.9"/><circle cx="48.7" cy="39.8" r="1.0"/><circle cx="11.2" cy="38.9" r="0.9"/><circle cx="-16.6" cy="41.5" r="0.8"/><circle cx="3.1" cy="50.0" r="0.9"/><circle cx="-9.0" cy="5.6" r="1.0"/><circle cx="28.5" cy="17.6" r="1.2"/><circle cx="32.9" cy="18.5" r="0.9"/><circle cx="-32.1" cy="41.1" r="1.0"/><circle cx="10.6" cy="24.0" r="0.9"/><circle cx="35.2" cy="41.9" r="0.8"/><circle cx="-5.3" cy="24.0" r="0.8"/><circle cx="-12.0" cy="21.1" r="1.0"/><circle cx="29.4" cy="32.3" r="1.0"/><circle cx="22.5" cy="17.0" r="1.2"/><circle cx="11.9" cy="53.2" r="1.1"/><circle cx="1.4" cy="39.6" r="1.1"/><circle cx="-22.0" cy="19.3" r="1.0"/><circle cx="-23.4" cy="37.8" r="0.8"/><circle cx="-39.2" cy="37.0" r="1.1"/><circle cx="-17.1" cy="24.4" r="0.7"/><circle cx="-30.1" cy="60.5" r="0.8"/><circle cx="-34.9" cy="28.9" r="0.8"/><circle cx="-23.0" cy="56.0" r="0.8"/><circle cx="2.9" cy="37.5" r="0.9"/><circle cx="41.6" cy="41.5" r="1.2"/><circle cx="-29.7" cy="52.1" r="1.1"/><circle cx="30.3" cy="48.4" r="1.1"/><circle cx="16.9" cy="48.7" r="1.1"/><circle cx="18.0" cy="29.1" r="0.9"/><circle cx="1.5" cy="24.3" r="1.2"/><circle cx="18.8" cy="20.3" r="1.0"/><circle cx="28.6" cy="20.1" r="1.2"/><circle cx="20.2" cy="12.0" r="1.2"/><circle cx="-31.8" cy="45.8" r="1.1"/><circle cx="-32.8" cy="46.7" r="0.8"/><circle cx="-18.7" cy="47.6" r="1.1"/><circle cx="20.0" cy="38.9" r="1.0"/><circle cx="-23.2" cy="31.3" r="0.9"/><circle cx="-1.6" cy="24.2" r="1.1"/><circle cx="-20.3" cy="17.4" r="1.0"/><circle cx="-28.4" cy="39.4" r="1.0"/><circle cx="28.2" cy="9.5" r="0.9"/><circle cx="-27.1" cy="58.5" r="1.1"/><circle cx="-4.6" cy="16.1" r="1.2"/><circle cx="-13.4" cy="22.3" r="1.2"/><circle cx="-7.9" cy="4.1" r="1.2"/><circle cx="-17.8" cy="40.5" r="1.1"/><circle cx="3.6" cy="11.8" r="0.9"/><circle cx="-45.6" cy="41.4" r="1.0"/><circle cx="14.8" cy="53.5" r="0.8"/><circle cx="28.8" cy="10.2" r="0.9"/><circle cx="-21.2" cy="52.5" r="1.1"/><circle cx="-42.4" cy="24.2" r="0.9"/></g><g fill="#6b8560"><circle cx="-21.6" cy="18.2" r="0.7"/><circle cx="0.9" cy="18.4" r="0.8"/><circle cx="-13.8" cy="16.0" r="0.8"/><circle cx="-1.7" cy="26.6" r="1.0"/><circle cx="9.2" cy="42.4" r="1.0"/><circle cx="26.1" cy="46.2" r="0.8"/><circle cx="-45.1" cy="28.8" r="1.2"/><circle cx="-21.7" cy="48.5" r="0.8"/><circle cx="-10.9" cy="56.1" r="1.2"/><circle cx="19.3" cy="36.3" r="0.8"/><circle cx="-13.7" cy="14.2" r="0.7"/><circle cx="7.1" cy="58.8" r="1.0"/><circle cx="-34.2" cy="47.5" r="1.1"/><circle cx="-21.5" cy="30.9" r="0.9"/><circle cx="3.6" cy="4.3" r="1.2"/><circle cx="26.3" cy="57.3" r="0.8"/><circle cx="40.4" cy="51.0" r="1.2"/><circle cx="-17.1" cy="62.9" r="1.2"/><circle cx="32.3" cy="42.3" r="0.8"/><circle cx="23.9" cy="40.9" r="0.9"/><circle cx="21.0" cy="9.2" r="0.9"/><circle cx="-4.5" cy="12.4" r="0.8"/><circle cx="-9.3" cy="38.4" r="1.2"/><circle cx="0.5" cy="13.0" r="1.2"/><circle cx="27.2" cy="57.2" r="1.0"/><circle cx="4.6" cy="8.9" r="1.2"/><circle cx="-31.5" cy="51.6" r="0.9"/><circle cx="31.3" cy="54.4" r="1.0"/><circle cx="14.0" cy="38.3" r="0.8"/><circle cx="-16.8" cy="41.3" r="1.2"/><circle cx="-25.8" cy="13.9" r="1.2"/><circle cx="-25.9" cy="19.0" r="1.0"/><circle cx="-26.5" cy="27.9" r="0.8"/><circle cx="-24.3" cy="38.7" r="1.0"/><circle cx="31.1" cy="32.2" r="0.9"/><circle cx="-34.1" cy="51.0" r="1.0"/><circle cx="-28.8" cy="51.6" r="0.8"/><circle cx="1.7" cy="7.1" r="0.8"/><circle cx="-4.7" cy="32.4" r="1.0"/><circle cx="-12.1" cy="36.7" r="0.9"/><circle cx="-10.0" cy="10.4" r="1.0"/><circle cx="-9.1" cy="23.8" r="1.0"/><circle cx="5.5" cy="26.8" r="0.8"/><circle cx="-16.4" cy="27.5" r="1.1"/><circle cx="28.5" cy="40.6" r="1.0"/><circle cx="23.0" cy="45.2" r="1.1"/><circle cx="-15.1" cy="16.5" r="1.0"/><circle cx="14.2" cy="48.4" r="1.0"/><circle cx="-6.0" cy="5.3" r="1.0"/><circle cx="8.6" cy="63.5" r="1.0"/><circle cx="19.8" cy="29.9" r="0.8"/><circle cx="14.1" cy="35.1" r="0.7"/><circle cx="11.9" cy="30.2" r="0.9"/><circle cx="-27.0" cy="31.2" r="1.2"/><circle cx="29.3" cy="41.0" r="1.2"/><circle cx="38.6" cy="30.8" r="0.8"/><circle cx="30.1" cy="36.3" r="1.2"/><circle cx="4.4" cy="56.5" r="0.7"/><circle cx="-27.1" cy="26.6" r="1.0"/><circle cx="-14.5" cy="45.9" r="0.8"/><circle cx="17.2" cy="50.5" r="1.2"/><circle cx="-10.3" cy="58.2" r="0.9"/><circle cx="23.5" cy="15.3" r="0.9"/><circle cx="16.3" cy="41.6" r="0.9"/><circle cx="-8.9" cy="21.7" r="1.2"/><circle cx="-10.6" cy="35.5" r="0.9"/><circle cx="-25.3" cy="51.2" r="1.2"/><circle cx="-22.0" cy="62.3" r="0.9"/><circle cx="-19.1" cy="13.8" r="0.8"/><circle cx="17.0" cy="37.2" r="0.7"/><circle cx="4.1" cy="25.8" r="1.0"/><circle cx="24.5" cy="40.8" r="1.1"/><circle cx="-0.8" cy="30.1" r="0.7"/><circle cx="-5.6" cy="30.6" r="1.1"/><circle cx="-27.5" cy="36.9" r="1.1"/><circle cx="-20.5" cy="14.2" r="1.0"/><circle cx="-42.0" cy="31.0" r="1.2"/><circle cx="-35.5" cy="41.2" r="0.7"/><circle cx="19.5" cy="25.1" r="1.2"/><circle cx="28.5" cy="54.1" r="1.2"/><circle cx="30.7" cy="53.8" r="1.2"/><circle cx="-2.1" cy="45.8" r="1.1"/><circle cx="42.2" cy="48.6" r="1.0"/><circle cx="23.9" cy="53.7" r="1.0"/><circle cx="18.1" cy="53.7" r="0.9"/><circle cx="20.9" cy="48.9" r="0.9"/><circle cx="-21.8" cy="50.2" r="0.7"/><circle cx="21.3" cy="16.1" r="1.1"/><circle cx="17.3" cy="44.2" r="1.2"/><circle cx="-27.1" cy="54.3" r="1.2"/><circle cx="35.8" cy="26.2" r="0.8"/><circle cx="-5.0" cy="18.2" r="0.8"/><circle cx="39.1" cy="30.7" r="1.0"/><circle cx="3.7" cy="11.2" r="0.8"/><circle cx="32.2" cy="27.8" r="0.8"/><circle cx="18.7" cy="62.8" r="0.8"/><circle cx="-12.7" cy="37.2" r="1.0"/><circle cx="-28.5" cy="44.5" r="1.1"/><circle cx="46.2" cy="44.0" r="0.9"/><circle cx="-33.8" cy="41.4" r="1.2"/><circle cx="10.4" cy="13.5" r="0.8"/><circle cx="-7.6" cy="61.9" r="1.2"/><circle cx="30.1" cy="62.1" r="1.2"/><circle cx="28.1" cy="59.4" r="1.1"/><circle cx="12.0" cy="53.2" r="0.8"/><circle cx="-36.1" cy="40.2" r="1.2"/><circle cx="-37.7" cy="34.2" r="1.1"/><circle cx="17.9" cy="3.8" r="1.0"/><circle cx="-1.6" cy="21.7" r="0.9"/><circle cx="14.0" cy="15.7" r="1.0"/><circle cx="6.5" cy="1.5" r="1.0"/><circle cx="-4.0" cy="38.2" r="0.9"/><circle cx="-29.2" cy="48.4" r="1.2"/><circle cx="-1.5" cy="5.8" r="0.8"/><circle cx="22.5" cy="33.7" r="1.2"/><circle cx="21.1" cy="37.2" r="0.9"/><circle cx="-8.5" cy="59.6" r="1.0"/><circle cx="27.5" cy="43.6" r="0.9"/><circle cx="4.9" cy="6.9" r="1.0"/><circle cx="-0.6" cy="27.8" r="0.8"/><circle cx="25.0" cy="6.6" r="1.1"/><circle cx="-31.0" cy="34.6" r="0.8"/><circle cx="-24.3" cy="34.8" r="1.2"/><circle cx="-20.5" cy="18.9" r="0.8"/><circle cx="4.9" cy="43.3" r="1.1"/><circle cx="44.2" cy="34.1" r="1.2"/><circle cx="29.9" cy="46.3" r="0.7"/><circle cx="-6.0" cy="22.8" r="1.0"/><circle cx="29.3" cy="59.6" r="1.1"/><circle cx="20.6" cy="16.8" r="0.9"/><circle cx="-22.5" cy="36.6" r="0.8"/><circle cx="-8.1" cy="16.8" r="1.1"/><circle cx="-29.2" cy="49.1" r="0.9"/><circle cx="14.7" cy="41.9" r="0.9"/><circle cx="-31.4" cy="44.1" r="1.2"/><circle cx="-32.2" cy="37.9" r="1.2"/><circle cx="-14.8" cy="54.9" r="1.2"/><circle cx="-9.7" cy="26.4" r="0.7"/><circle cx="-32.1" cy="54.5" r="1.2"/><circle cx="0.2" cy="8.6" r="0.7"/><circle cx="7.4" cy="30.4" r="1.1"/><circle cx="4.4" cy="14.0" r="1.2"/><circle cx="30.6" cy="24.1" r="0.7"/><circle cx="23.4" cy="45.3" r="0.7"/><circle cx="-8.2" cy="44.0" r="0.9"/><circle cx="-25.7" cy="60.7" r="0.8"/><circle cx="30.0" cy="38.9" r="1.1"/><circle cx="-25.0" cy="30.6" r="1.1"/><circle cx="-7.6" cy="20.4" r="0.8"/><circle cx="28.2" cy="54.3" r="1.0"/><circle cx="-34.5" cy="43.2" r="1.0"/><circle cx="-32.2" cy="49.9" r="0.7"/><circle cx="23.3" cy="42.4" r="1.0"/><circle cx="4.3" cy="58.9" r="0.7"/><circle cx="8.1" cy="24.5" r="0.9"/><circle cx="20.0" cy="38.9" r="0.8"/><circle cx="-23.1" cy="7.9" r="0.8"/><circle cx="14.1" cy="47.5" r="0.9"/><circle cx="24.6" cy="14.2" r="1.2"/><circle cx="-1.5" cy="19.3" r="1.0"/><circle cx="-32.3" cy="27.3" r="0.9"/><circle cx="1.2" cy="11.8" r="0.8"/><circle cx="-33.6" cy="19.1" r="0.8"/><circle cx="-13.3" cy="27.9" r="1.1"/><circle cx="-16.5" cy="32.6" r="1.2"/><circle cx="13.3" cy="51.5" r="1.2"/><circle cx="-22.7" cy="13.9" r="0.7"/><circle cx="-14.6" cy="52.7" r="0.8"/><circle cx="1.3" cy="33.0" r="0.9"/><circle cx="5.7" cy="51.3" r="0.7"/><circle cx="-27.0" cy="46.9" r="1.0"/><circle cx="17.0" cy="2.4" r="0.9"/><circle cx="23.0" cy="37.9" r="1.2"/><circle cx="-23.7" cy="12.1" r="0.8"/><circle cx="5.1" cy="5.0" r="1.1"/><circle cx="26.7" cy="49.9" r="1.0"/><circle cx="16.7" cy="59.6" r="0.8"/><circle cx="42.4" cy="38.5" r="0.9"/><circle cx="-15.0" cy="44.9" r="1.2"/><circle cx="0.7" cy="48.0" r="0.8"/><circle cx="19.0" cy="39.2" r="1.1"/><circle cx="-9.5" cy="61.6" r="0.9"/><circle cx="32.7" cy="31.8" r="1.2"/><circle cx="-15.3" cy="10.5" r="1.2"/><circle cx="-4.5" cy="33.4" r="1.0"/><circle cx="11.7" cy="6.3" r="1.0"/><circle cx="0.3" cy="46.1" r="0.9"/><circle cx="12.4" cy="29.1" r="1.1"/><circle cx="27.3" cy="40.8" r="1.2"/><circle cx="44.3" cy="34.2" r="1.0"/><circle cx="-21.1" cy="21.0" r="0.7"/><circle cx="12.8" cy="28.5" r="1.1"/><circle cx="-23.1" cy="16.6" r="1.1"/><circle cx="32.5" cy="51.5" r="1.1"/><circle cx="23.5" cy="40.8" r="1.0"/><circle cx="-37.2" cy="37.6" r="1.1"/><circle cx="14.7" cy="36.8" r="1.2"/><circle cx="12.5" cy="4.6" r="1.1"/></g><g fill="#9ea56a"><circle cx="-4.4" cy="24.0" r="0.9"/><circle cx="-35.3" cy="13.3" r="1.1"/><circle cx="-4.6" cy="61.7" r="1.2"/><circle cx="-16.1" cy="38.7" r="0.8"/><circle cx="-36.7" cy="41.9" r="1.0"/><circle cx="16.4" cy="60.7" r="1.1"/><circle cx="-19.9" cy="53.7" r="1.2"/><circle cx="10.7" cy="9.5" r="0.9"/><circle cx="-24.0" cy="50.1" r="0.8"/><circle cx="-20.9" cy="42.7" r="0.8"/><circle cx="21.5" cy="40.5" r="0.7"/><circle cx="-1.3" cy="41.9" r="0.8"/><circle cx="16.5" cy="48.2" r="0.7"/><circle cx="16.0" cy="34.6" r="1.0"/><circle cx="0.9" cy="47.4" r="0.7"/><circle cx="-27.9" cy="39.2" r="1.1"/><circle cx="-32.9" cy="45.7" r="1.0"/><circle cx="-5.3" cy="62.5" r="0.8"/><circle cx="-15.8" cy="18.8" r="0.8"/><circle cx="13.5" cy="51.5" r="0.8"/><circle cx="-19.6" cy="39.2" r="0.7"/><circle cx="23.8" cy="6.2" r="0.9"/><circle cx="0.3" cy="40.3" r="1.1"/><circle cx="5.2" cy="19.0" r="1.1"/><circle cx="-2.8" cy="13.0" r="1.0"/><circle cx="-25.6" cy="39.1" r="1.1"/><circle cx="-39.4" cy="45.0" r="1.0"/><circle cx="-38.1" cy="30.3" r="0.9"/><circle cx="-28.7" cy="19.4" r="0.9"/><circle cx="32.6" cy="37.0" r="1.0"/><circle cx="21.7" cy="15.4" r="0.9"/><circle cx="-35.5" cy="44.1" r="1.1"/><circle cx="20.8" cy="8.0" r="1.0"/><circle cx="26.9" cy="50.0" r="0.8"/><circle cx="-8.3" cy="5.8" r="1.0"/><circle cx="-33.6" cy="32.8" r="0.8"/><circle cx="17.1" cy="50.0" r="1.1"/><circle cx="3.3" cy="60.8" r="1.1"/><circle cx="-20.0" cy="33.6" r="0.7"/><circle cx="20.2" cy="43.2" r="1.0"/><circle cx="-36.6" cy="53.0" r="1.0"/><circle cx="42.6" cy="33.2" r="1.1"/><circle cx="-22.1" cy="30.4" r="0.8"/><circle cx="0.4" cy="63.4" r="1.0"/><circle cx="-20.8" cy="43.4" r="0.9"/><circle cx="20.0" cy="23.0" r="0.9"/><circle cx="-44.2" cy="37.4" r="0.7"/><circle cx="27.7" cy="19.0" r="0.9"/><circle cx="-24.9" cy="34.2" r="0.8"/><circle cx="0.6" cy="33.5" r="0.9"/><circle cx="18.7" cy="23.1" r="1.1"/><circle cx="-18.5" cy="14.4" r="0.7"/><circle cx="23.3" cy="44.0" r="1.2"/><circle cx="19.2" cy="7.4" r="0.8"/><circle cx="-22.1" cy="36.6" r="0.9"/><circle cx="-23.4" cy="7.1" r="0.9"/><circle cx="36.3" cy="33.3" r="1.1"/><circle cx="-28.7" cy="38.8" r="0.7"/><circle cx="31.8" cy="27.1" r="1.1"/><circle cx="25.2" cy="47.9" r="1.2"/><circle cx="23.9" cy="35.5" r="0.8"/><circle cx="-3.9" cy="62.5" r="0.8"/><circle cx="-18.3" cy="54.2" r="0.8"/><circle cx="10.4" cy="39.5" r="1.2"/><circle cx="-13.7" cy="20.3" r="1.2"/><circle cx="-5.5" cy="46.2" r="0.9"/><circle cx="-20.3" cy="29.1" r="0.9"/><circle cx="26.7" cy="54.8" r="1.1"/><circle cx="19.4" cy="45.6" r="1.2"/><circle cx="-27.1" cy="27.5" r="1.2"/><circle cx="-30.9" cy="50.0" r="0.7"/><circle cx="25.6" cy="36.6" r="1.2"/></g><g fill="#adb274"><circle cx="-12.5" cy="45.9" r="0.7"/><circle cx="33.7" cy="43.2" r="0.9"/><circle cx="-23.3" cy="41.7" r="0.9"/><circle cx="-13.4" cy="50.1" r="1.0"/><circle cx="12.4" cy="32.4" r="0.9"/><circle cx="-39.1" cy="36.9" r="1.1"/><circle cx="-37.7" cy="38.1" r="0.8"/><circle cx="-34.7" cy="31.3" r="1.1"/><circle cx="-20.9" cy="6.2" r="1.0"/><circle cx="37.8" cy="47.6" r="1.0"/><circle cx="-9.0" cy="53.3" r="1.1"/><circle cx="6.2" cy="6.0" r="0.9"/><circle cx="-18.3" cy="13.5" r="1.2"/><circle cx="-41.0" cy="41.5" r="1.0"/><circle cx="-0.5" cy="26.7" r="1.2"/><circle cx="-35.8" cy="45.8" r="1.1"/><circle cx="24.3" cy="37.7" r="1.1"/><circle cx="14.3" cy="47.7" r="0.7"/><circle cx="25.0" cy="18.1" r="1.2"/><circle cx="-36.4" cy="35.6" r="1.0"/><circle cx="15.6" cy="44.7" r="1.2"/><circle cx="7.8" cy="36.5" r="0.8"/><circle cx="16.3" cy="56.9" r="1.2"/><circle cx="-4.1" cy="5.4" r="1.2"/><circle cx="-27.6" cy="37.0" r="1.1"/><circle cx="-9.0" cy="14.8" r="1.1"/><circle cx="-18.2" cy="27.3" r="1.0"/><circle cx="-16.1" cy="45.1" r="1.2"/><circle cx="-21.6" cy="21.6" r="0.9"/><circle cx="-15.3" cy="37.9" r="1.2"/><circle cx="20.1" cy="48.0" r="0.8"/><circle cx="-26.9" cy="30.4" r="0.8"/><circle cx="-22.4" cy="6.7" r="0.8"/><circle cx="24.7" cy="44.8" r="1.1"/><circle cx="-2.9" cy="46.0" r="1.1"/><circle cx="-11.6" cy="6.8" r="1.1"/><circle cx="-8.4" cy="28.7" r="0.9"/><circle cx="7.1" cy="40.4" r="0.9"/><circle cx="-15.5" cy="23.8" r="0.7"/><circle cx="21.6" cy="11.5" r="0.8"/></g></symbol>
<symbol id="dec2" viewBox="-50 0 100 130" preserveAspectRatio="none" overflow="visible"><g fill="none" stroke="#4a4e58" stroke-linecap="round"><path d="M-3.0 99 C-8.0 106.0 -22.0 105.5 -33.5 114.6" stroke-width="1.5"/><path d="M-20.0 107.0 q-4.0 6.0 -7.5 15.0" stroke-width="0.8"/><path d="M-11.0 105.0 q-1.0 8.0 -2.4 19.0" stroke-width="0.8"/><path d="M-2.2 99 C-6.0 106.0 -16.5 101.7 -27.5 113.5" stroke-width="1.5"/><path d="M-15.0 107.0 q-3.0 6.0 -5.6 15.0" stroke-width="0.8"/><path d="M-8.2 105.0 q-0.8 8.0 -2.6 19.0" stroke-width="0.8"/><path d="M-1.5 99 C-4.0 106.0 -11.0 101.1 -19.7 115.1" stroke-width="1.5"/><path d="M-10.0 107.0 q-2.0 6.0 -5.0 15.0" stroke-width="0.8"/><path d="M-5.5 105.0 q-0.5 8.0 -0.2 19.0" stroke-width="0.8"/><path d="M-0.8 99 C-2.0 106.0 -5.5 104.7 -9.5 117.9" stroke-width="1.5"/><path d="M-5.0 107.0 q-1.0 6.0 -2.1 15.0" stroke-width="0.8"/><path d="M-2.8 105.0 q-0.2 8.0 -3.4 19.0" stroke-width="0.8"/><path d="M0.0 99 C0.0 106.0 0.0 104.3 1.7 120.7" stroke-width="1.5"/><path d="M0.0 107.0 q0.0 6.0 0.7 15.0" stroke-width="0.8"/><path d="M0.0 105.0 q0.0 8.0 2.8 19.0" stroke-width="0.8"/><path d="M0.8 99 C2.0 106.0 5.5 102.8 8.2 119.8" stroke-width="1.5"/><path d="M5.0 107.0 q1.0 6.0 1.7 15.0" stroke-width="0.8"/><path d="M2.8 105.0 q0.2 8.0 1.7 19.0" stroke-width="0.8"/><path d="M1.5 99 C4.0 106.0 11.0 103.4 16.9 112.2" stroke-width="1.5"/><path d="M10.0 107.0 q2.0 6.0 3.8 15.0" stroke-width="0.8"/><path d="M5.5 105.0 q0.5 8.0 2.0 19.0" stroke-width="0.8"/><path d="M2.2 99 C6.0 106.0 16.5 101.9 26.7 114.4" stroke-width="1.5"/><path d="M15.0 107.0 q3.0 6.0 1.8 15.0" stroke-width="0.8"/><path d="M8.2 105.0 q0.8 8.0 1.2 19.0" stroke-width="0.8"/><path d="M3.0 99 C8.0 106.0 22.0 101.6 37.9 108.6" stroke-width="1.5"/><path d="M20.0 107.0 q4.0 6.0 2.6 15.0" stroke-width="0.8"/><path d="M11.0 105.0 q1.0 8.0 0.2 19.0" stroke-width="0.8"/></g><path d="M-6 102 C-3.5 96 -2.5 90 -2 82 C-1.5 76 -3 72 -3.5 66 L2.5 66 C3 72 4.5 76 4 82 C4 90 4.5 96 7 102 Z" fill="#4a4e58"/><g fill="none" stroke="#4a4e58" stroke-linecap="round"><path d="M0 70 Q-10.4 58.6 -35.3 40.4" stroke-width="1.2"/><path d="M-18.4 53.4 L-24.3 44.4" stroke-width="0.8"/><path d="M-26.0 47.4 L-24.6 38.9" stroke-width="0.8"/><path d="M-14.0 57.0 L-6.1 43.9" stroke-width="0.8"/><path d="M0 70 Q-6.7 63.3 -20.0 20.4" stroke-width="1.6"/><path d="M-13.0 41.8 L-0.6 34.2" stroke-width="0.8"/><path d="M-17.2 29.5 L-29.6 19.4" stroke-width="0.8"/><path d="M-7.6 56.2 L1.1 43.3" stroke-width="0.8"/><path d="M0 70 Q0.9 60.3 -5.2 13.8" stroke-width="1.9"/><path d="M-4.0 23.2 L3.0 13.7" stroke-width="0.8"/><path d="M-3.9 23.7 L-7.3 15.8" stroke-width="0.8"/><path d="M-0.8 52.0 L-1.7 44.0" stroke-width="0.8"/><path d="M0 70 Q1.3 56.8 8.6 12.7" stroke-width="1.8"/><path d="M4.6 37.2 L-4.6 25.8" stroke-width="0.8"/><path d="M6.1 27.9 L-0.8 17.7" stroke-width="0.8"/><path d="M6.6 24.8 L5.1 15.4" stroke-width="0.8"/><path d="M0 70 Q10.2 61.5 22.4 19.9" stroke-width="1.5"/><path d="M13.8 45.8 L19.2 31.5" stroke-width="0.8"/><path d="M16.1 39.4 L8.8 30.5" stroke-width="0.8"/><path d="M13.7 45.9 L21.3 34.3" stroke-width="0.8"/><path d="M0 70 Q9.7 61.0 34.3 36.0" stroke-width="1.2"/><path d="M17.0 53.5 L18.6 39.1" stroke-width="0.8"/><path d="M15.6 54.9 L28.2 48.1" stroke-width="0.8"/><path d="M21.0 49.4 L22.2 41.1" stroke-width="0.8"/><path d="M0 70 Q-14.2 61.7 -39.6 51.8" stroke-width="1.1"/><path d="M-15.1 62.2 L-18.5 48.3" stroke-width="0.8"/><path d="M-17.5 61.1 L-7.3 53.0" stroke-width="0.8"/><path d="M-27.9 56.6 L-37.1 46.1" stroke-width="0.8"/><path d="M0 70 Q15.0 59.8 39.5 47.5" stroke-width="1.1"/><path d="M28.3 53.3 L29.4 41.7" stroke-width="0.8"/><path d="M25.1 55.0 L19.5 40.0" stroke-width="0.8"/><path d="M17.0 59.5 L27.5 44.9" stroke-width="0.8"/></g><ellipse cx="0" cy="36" rx="42" ry="31" fill="#6f8668" opacity="0.16"/><g fill="#9ea56a"><circle cx="-30.0" cy="34.7" r="0.9"/><circle cx="30.6" cy="42.0" r="1.2"/><circle cx="-39.1" cy="46.0" r="1.0"/><circle cx="-0.9" cy="54.4" r="0.7"/><circle cx="27.4" cy="19.5" r="0.9"/><circle cx="24.7" cy="34.8" r="1.1"/><circle cx="-25.6" cy="54.4" r="0.8"/><circle cx="-6.5" cy="30.6" r="1.1"/><circle cx="10.6" cy="36.6" r="1.1"/><circle cx="-25.1" cy="43.5" r="1.2"/><circle cx="-12.1" cy="10.3" r="0.7"/><circle cx="3.1" cy="43.6" r="1.1"/><circle cx="-0.7" cy="34.1" r="1.0"/><circle cx="-8.3" cy="17.6" r="0.8"/><circle cx="40.9" cy="34.5" r="0.8"/><circle cx="35.5" cy="25.3" r="1.0"/><circle cx="8.6" cy="37.5" r="1.2"/><circle cx="-28.9" cy="63.2" r="0.9"/><circle cx="-27.8" cy="37.1" r="0.8"/><circle cx="13.9" cy="52.7" r="0.9"/><circle cx="-42.3" cy="46.9" r="1.2"/><circle cx="41.7" cy="37.4" r="1.2"/><circle cx="1.2" cy="31.5" r="1.0"/><circle cx="-32.9" cy="48.0" r="1.2"/><circle cx="-16.4" cy="16.5" r="0.7"/><circle cx="-22.6" cy="49.6" r="0.7"/><circle cx="43.6" cy="32.0" r="1.1"/><circle cx="-19.9" cy="5.8" r="1.0"/><circle cx="27.5" cy="26.0" r="1.1"/><circle cx="4.8" cy="24.6" r="0.7"/><circle cx="-10.5" cy="24.7" r="0.9"/><circle cx="-2.9" cy="54.5" r="1.0"/><circle cx="1.0" cy="41.6" r="0.8"/><circle cx="8.2" cy="10.5" r="0.7"/><circle cx="28.9" cy="61.9" r="1.1"/><circle cx="35.3" cy="29.5" r="0.7"/><circle cx="-28.8" cy="19.1" r="1.0"/><circle cx="10.1" cy="29.2" r="1.0"/><circle cx="20.2" cy="7.1" r="1.1"/><circle cx="29.1" cy="59.6" r="1.0"/><circle cx="19.2" cy="25.3" r="1.2"/><circle cx="-7.6" cy="40.9" r="1.1"/><circle cx="-27.8" cy="35.6" r="1.1"/><circle cx="3.3" cy="53.5" r="1.0"/><circle cx="-21.6" cy="34.1" r="1.1"/><circle cx="11.0" cy="46.2" r="1.0"/><circle cx="-23.2" cy="21.0" r="1.0"/><circle cx="-34.1" cy="32.4" r="1.0"/><circle cx="13.4" cy="5.5" r="0.8"/><circle cx="17.7" cy="9.4" r="1.2"/><circle cx="23.3" cy="53.9" r="0.9"/><circle cx="-24.3" cy="50.4" r="0.8"/><circle cx="15.7" cy="34.9" r="0.8"/><circle cx="7.3" cy="16.5" r="1.0"/><circle cx="14.0" cy="43.2" r="1.2"/><circle cx="12.2" cy="30.9" r="0.9"/><circle cx="18.8" cy="24.3" r="1.1"/><circle cx="3.7" cy="25.0" r="1.0"/><circle cx="-15.8" cy="59.0" r="1.2"/><circle cx="17.1" cy="35.6" r="1.1"/><circle cx="-32.4" cy="11.5" r="1.2"/><circle cx="15.9" cy="30.0" r="0.9"/><circle cx="-21.1" cy="43.9" r="0.8"/><circle cx="-6.1" cy="4.7" r="1.2"/><circle cx="-42.0" cy="26.1" r="1.0"/><circle cx="28.5" cy="43.6" r="1.1"/><circle cx="7.5" cy="51.3" r="0.8"/><circle cx="-39.4" cy="51.0" r="0.8"/><circle cx="21.6" cy="38.2" r="1.2"/><circle cx="46.3" cy="31.9" r="0.8"/><circle cx="-1.0" cy="6.1" r="0.9"/><circle cx="-35.3" cy="44.0" r="0.9"/><circle cx="5.4" cy="45.0" r="0.8"/><circle cx="-3.5" cy="48.1" r="0.8"/><circle cx="-16.7" cy="50.4" r="1.2"/><circle cx="40.8" cy="18.6" r="0.8"/><circle cx="-29.0" cy="52.4" r="1.0"/><circle cx="37.0" cy="42.5" r="0.8"/><circle cx="30.9" cy="41.6" r="0.9"/><circle cx="3.8" cy="38.9" r="0.9"/><circle cx="-26.4" cy="12.2" r="1.0"/><circle cx="6.5" cy="6.5" r="1.1"/><circle cx="33.3" cy="33.6" r="1.1"/><circle cx="-1.3" cy="61.3" r="0.8"/><circle cx="-38.3" cy="48.4" r="0.8"/><circle cx="-21.7" cy="49.2" r="0.8"/><circle cx="-3.2" cy="53.9" r="1.1"/><circle cx="-40.2" cy="35.4" r="0.8"/><circle cx="-6.8" cy="46.8" r="1.2"/><circle cx="10.1" cy="30.5" r="0.7"/><circle cx="-24.7" cy="37.0" r="0.9"/><circle cx="30.4" cy="30.5" r="1.2"/><circle cx="-5.4" cy="39.7" r="0.8"/><circle cx="21.1" cy="34.1" r="1.2"/><circle cx="-22.6" cy="42.6" r="1.0"/><circle cx="13.6" cy="4.9" r="1.0"/><circle cx="21.7" cy="35.6" r="1.2"/><circle cx="-17.9" cy="59.3" r="1.1"/><circle cx="-5.6" cy="44.3" r="1.1"/><circle cx="-8.0" cy="17.3" r="1.2"/><circle cx="-15.9" cy="64.7" r="0.8"/><circle cx="-7.5" cy="44.4" r="0.9"/><circle cx="-16.2" cy="5.0" r="0.8"/><circle cx="-5.8" cy="24.1" r="0.8"/><circle cx="-9.6" cy="44.3" r="1.2"/><circle cx="15.2" cy="20.6" r="0.8"/><circle cx="37.7" cy="47.2" r="1.2"/><circle cx="-5.9" cy="20.3" r="0.8"/><circle cx="20.6" cy="21.1" r="1.2"/><circle cx="-12.7" cy="49.1" r="1.0"/><circle cx="-0.3" cy="23.4" r="1.2"/><circle cx="25.6" cy="53.4" r="1.1"/><circle cx="-32.9" cy="43.9" r="0.7"/><circle cx="-15.3" cy="64.4" r="1.2"/><circle cx="-11.4" cy="17.8" r="1.2"/><circle cx="24.7" cy="57.4" r="0.8"/><circle cx="-21.8" cy="38.3" r="1.2"/><circle cx="-25.6" cy="18.6" r="1.0"/><circle cx="30.8" cy="33.5" r="0.9"/><circle cx="9.9" cy="13.8" r="0.9"/><circle cx="29.4" cy="19.0" r="0.8"/><circle cx="-6.4" cy="10.8" r="0.8"/><circle cx="-8.1" cy="32.7" r="1.0"/><circle cx="29.3" cy="48.6" r="0.8"/><circle cx="21.8" cy="46.1" r="1.0"/><circle cx="-29.9" cy="52.7" r="0.9"/><circle cx="29.1" cy="42.0" r="0.9"/><circle cx="-13.0" cy="55.1" r="0.9"/><circle cx="-1.5" cy="35.4" r="1.1"/><circle cx="-22.5" cy="50.9" r="1.0"/><circle cx="-10.7" cy="5.6" r="1.2"/><circle cx="-27.9" cy="45.2" r="1.0"/><circle cx="11.6" cy="44.4" r="0.8"/><circle cx="-15.4" cy="43.6" r="0.9"/><circle cx="-26.4" cy="31.7" r="0.9"/><circle cx="26.5" cy="46.8" r="1.2"/><circle cx="-25.9" cy="61.3" r="1.1"/><circle cx="18.0" cy="14.8" r="1.2"/><circle cx="9.0" cy="61.8" r="0.8"/><circle cx="-21.5" cy="67.1" r="0.9"/><circle cx="14.8" cy="17.7" r="1.0"/><circle cx="-16.8" cy="53.0" r="1.1"/><circle cx="-30.7" cy="36.6" r="1.0"/><circle cx="-14.3" cy="13.8" r="0.9"/><circle cx="-11.5" cy="39.5" r="0.8"/><circle cx="-10.5" cy="43.0" r="1.0"/><circle cx="4.1" cy="22.4" r="0.9"/><circle cx="43.7" cy="43.7" r="0.8"/><circle cx="-2.6" cy="60.4" r="1.0"/><circle cx="7.1" cy="4.0" r="0.7"/><circle cx="-31.7" cy="52.2" r="0.7"/><circle cx="-9.1" cy="39.0" r="0.7"/><circle cx="40.6" cy="48.8" r="0.8"/><circle cx="7.3" cy="34.4" r="1.2"/><circle cx="27.2" cy="49.3" r="1.0"/><circle cx="11.7" cy="9.2" r="0.7"/><circle cx="20.8" cy="42.5" r="1.1"/><circle cx="38.0" cy="31.6" r="1.2"/><circle cx="26.5" cy="42.4" r="1.2"/><circle cx="-11.9" cy="37.3" r="0.9"/><circle cx="-19.5" cy="65.7" r="0.9"/><circle cx="19.3" cy="52.7" r="0.9"/><circle cx="11.5" cy="26.4" r="0.9"/><circle cx="-17.9" cy="12.5" r="1.2"/><circle cx="10.4" cy="20.5" r="0.9"/><circle cx="-11.2" cy="58.6" r="0.8"/><circle cx="18.8" cy="6.2" r="1.2"/><circle cx="3.1" cy="18.1" r="1.1"/><circle cx="1.1" cy="9.2" r="0.8"/><circle cx="-1.5" cy="47.3" r="1.0"/><circle cx="-15.7" cy="49.5" r="1.2"/><circle cx="21.1" cy="40.0" r="0.9"/><circle cx="0.3" cy="12.5" r="1.1"/><circle cx="12.0" cy="28.6" r="1.1"/><circle cx="18.0" cy="63.9" r="1.0"/><circle cx="27.4" cy="31.8" r="1.0"/><circle cx="35.4" cy="40.2" r="0.8"/><circle cx="-7.2" cy="25.1" r="1.2"/><circle cx="19.1" cy="45.4" r="1.1"/><circle cx="21.7" cy="41.3" r="0.8"/><circle cx="44.2" cy="43.0" r="1.0"/><circle cx="30.9" cy="30.6" r="0.7"/><circle cx="-39.5" cy="43.5" r="1.1"/><circle cx="10.2" cy="26.9" r="0.9"/><circle cx="13.7" cy="52.9" r="1.2"/><circle cx="-5.7" cy="27.1" r="0.7"/><circle cx="-18.4" cy="24.4" r="1.0"/><circle cx="7.3" cy="28.7" r="0.9"/><circle cx="13.9" cy="9.8" r="1.0"/><circle cx="-11.4" cy="54.2" r="0.8"/><circle cx="-10.3" cy="24.5" r="0.7"/><circle cx="3.4" cy="30.8" r="1.0"/><circle cx="-10.0" cy="56.1" r="1.1"/></g><g fill="#85946a"><circle cx="-16.9" cy="65.9" r="0.7"/><circle cx="-42.1" cy="45.6" r="1.0"/><circle cx="17.5" cy="53.1" r="1.2"/><circle cx="-14.0" cy="49.3" r="0.8"/><circle cx="2.5" cy="47.9" r="0.8"/><circle cx="-21.4" cy="42.9" r="1.2"/><circle cx="-11.1" cy="25.6" r="0.8"/><circle cx="-17.3" cy="37.8" r="1.2"/><circle cx="-30.5" cy="18.0" r="1.2"/><circle cx="14.0" cy="10.7" r="0.9"/><circle cx="15.1" cy="40.9" r="0.8"/><circle cx="11.4" cy="28.6" r="0.8"/><circle cx="6.1" cy="59.4" r="0.7"/><circle cx="20.7" cy="37.3" r="1.1"/><circle cx="-22.9" cy="38.4" r="1.1"/><circle cx="-31.7" cy="57.0" r="0.8"/><circle cx="-38.7" cy="21.4" r="1.1"/><circle cx="15.5" cy="22.7" r="0.7"/><circle cx="8.2" cy="38.1" r="1.0"/><circle cx="-15.5" cy="21.3" r="1.0"/><circle cx="-34.0" cy="40.4" r="1.1"/><circle cx="-45.4" cy="46.8" r="0.8"/><circle cx="19.4" cy="18.9" r="1.1"/><circle cx="9.5" cy="22.3" r="1.2"/><circle cx="23.0" cy="20.0" r="1.2"/><circle cx="-2.4" cy="30.6" r="1.0"/><circle cx="28.5" cy="34.2" r="1.0"/><circle cx="-0.5" cy="40.9" r="1.2"/><circle cx="12.3" cy="14.4" r="0.8"/><circle cx="10.2" cy="18.7" r="0.9"/><circle cx="-26.4" cy="35.3" r="1.0"/><circle cx="32.2" cy="24.1" r="0.8"/><circle cx="7.6" cy="4.6" r="1.0"/><circle cx="-38.4" cy="49.8" r="1.1"/><circle cx="15.6" cy="44.3" r="1.0"/><circle cx="-33.7" cy="37.0" r="1.2"/><circle cx="18.2" cy="30.5" r="1.1"/><circle cx="-11.6" cy="17.9" r="1.0"/><circle cx="-43.5" cy="32.3" r="1.2"/><circle cx="-11.1" cy="36.2" r="0.9"/><circle cx="10.7" cy="20.6" r="0.9"/><circle cx="26.8" cy="32.7" r="1.1"/><circle cx="-47.8" cy="34.1" r="1.1"/><circle cx="22.0" cy="44.8" r="0.9"/><circle cx="18.0" cy="46.9" r="1.0"/><circle cx="24.2" cy="41.9" r="0.7"/><circle cx="-13.1" cy="24.1" r="1.1"/><circle cx="-26.7" cy="8.1" r="1.1"/><circle cx="-42.4" cy="31.1" r="0.8"/><circle cx="5.8" cy="13.0" r="0.9"/><circle cx="-4.7" cy="25.9" r="1.1"/><circle cx="-38.3" cy="58.4" r="1.0"/><circle cx="-1.7" cy="45.8" r="1.0"/><circle cx="6.6" cy="50.6" r="0.9"/><circle cx="8.7" cy="45.4" r="0.7"/><circle cx="22.6" cy="47.2" r="1.1"/><circle cx="4.2" cy="4.5" r="0.9"/><circle cx="9.6" cy="29.4" r="1.1"/><circle cx="35.1" cy="14.6" r="0.9"/><circle cx="20.6" cy="20.3" r="1.2"/><circle cx="40.8" cy="37.8" r="0.9"/><circle cx="7.5" cy="43.7" r="1.2"/><circle cx="-33.1" cy="23.3" r="0.8"/><circle cx="3.8" cy="41.6" r="1.1"/><circle cx="24.2" cy="51.7" r="0.9"/><circle cx="-20.7" cy="60.8" r="0.8"/><circle cx="12.6" cy="35.7" r="0.9"/><circle cx="-30.8" cy="38.7" r="1.0"/><circle cx="19.2" cy="52.2" r="0.8"/><circle cx="-14.4" cy="35.1" r="0.9"/><circle cx="29.6" cy="29.7" r="1.1"/><circle cx="-0.4" cy="39.3" r="0.8"/><circle cx="16.0" cy="64.2" r="0.9"/><circle cx="27.0" cy="63.5" r="1.1"/><circle cx="-15.4" cy="21.9" r="1.2"/><circle cx="-21.1" cy="19.6" r="0.9"/><circle cx="-2.6" cy="34.1" r="1.2"/><circle cx="23.5" cy="50.2" r="1.1"/><circle cx="12.8" cy="21.3" r="0.8"/><circle cx="-22.2" cy="61.1" r="1.1"/><circle cx="-15.8" cy="45.5" r="0.8"/><circle cx="14.7" cy="22.2" r="0.9"/><circle cx="1.5" cy="20.6" r="1.1"/><circle cx="23.2" cy="54.3" r="0.8"/><circle cx="-24.6" cy="58.3" r="0.8"/><circle cx="33.7" cy="26.5" r="1.1"/><circle cx="19.3" cy="48.0" r="1.2"/><circle cx="-7.9" cy="37.4" r="1.2"/><circle cx="0.0" cy="12.9" r="0.8"/><circle cx="19.3" cy="32.6" r="0.8"/><circle cx="-14.5" cy="42.2" r="1.2"/><circle cx="18.4" cy="47.8" r="0.8"/><circle cx="22.4" cy="59.6" r="0.7"/><circle cx="15.3" cy="47.3" r="1.2"/><circle cx="0.2" cy="34.4" r="0.9"/><circle cx="-36.0" cy="50.1" r="1.0"/><circle cx="-29.7" cy="9.3" r="0.8"/><circle cx="-35.0" cy="58.4" r="0.8"/><circle cx="38.6" cy="56.4" r="0.8"/><circle cx="28.6" cy="36.2" r="0.9"/><circle cx="-4.9" cy="14.7" r="0.9"/><circle cx="-2.5" cy="10.7" r="0.9"/><circle cx="-28.9" cy="31.5" r="0.8"/><circle cx="4.7" cy="17.2" r="0.9"/><circle cx="9.3" cy="59.0" r="1.0"/><circle cx="24.6" cy="46.1" r="1.0"/><circle cx="6.6" cy="44.7" r="1.2"/><circle cx="31.4" cy="47.5" r="1.0"/><circle cx="22.4" cy="46.4" r="0.8"/><circle cx="14.5" cy="16.3" r="1.1"/><circle cx="33.0" cy="37.9" r="1.1"/><circle cx="36.0" cy="39.0" r="1.2"/><circle cx="-35.6" cy="40.1" r="1.0"/><circle cx="13.8" cy="52.3" r="0.9"/><circle cx="-34.5" cy="20.7" r="0.9"/><circle cx="-18.2" cy="27.1" r="1.2"/><circle cx="0.7" cy="3.0" r="1.2"/><circle cx="0.8" cy="3.2" r="1.1"/><circle cx="10.1" cy="42.0" r="1.1"/><circle cx="14.1" cy="16.3" r="1.1"/><circle cx="-32.0" cy="33.9" r="1.0"/><circle cx="-2.2" cy="19.5" r="1.0"/><circle cx="6.3" cy="25.9" r="1.2"/><circle cx="8.5" cy="31.8" r="0.7"/><circle cx="-14.2" cy="21.6" r="0.9"/><circle cx="-11.2" cy="32.5" r="0.8"/><circle cx="22.4" cy="66.2" r="0.9"/><circle cx="22.6" cy="52.1" r="1.2"/><circle cx="-14.4" cy="50.0" r="1.0"/><circle cx="29.0" cy="34.9" r="1.0"/><circle cx="9.4" cy="11.7" r="0.8"/><circle cx="16.2" cy="46.0" r="1.2"/><circle cx="-9.1" cy="60.6" r="0.9"/><circle cx="18.8" cy="7.9" r="1.1"/><circle cx="18.9" cy="47.1" r="1.1"/><circle cx="-32.1" cy="54.3" r="0.9"/><circle cx="20.2" cy="52.7" r="1.1"/><circle cx="-39.4" cy="24.1" r="0.8"/><circle cx="-5.1" cy="20.6" r="1.0"/><circle cx="27.4" cy="27.0" r="0.9"/><circle cx="-1.1" cy="62.2" r="0.9"/><circle cx="32.0" cy="54.4" r="1.2"/><circle cx="5.2" cy="44.8" r="0.8"/><circle cx="-5.7" cy="6.4" r="1.1"/><circle cx="-22.8" cy="56.8" r="0.8"/><circle cx="2.0" cy="32.7" r="1.1"/><circle cx="1.3" cy="54.6" r="1.1"/><circle cx="28.2" cy="38.7" r="1.2"/><circle cx="7.6" cy="31.6" r="1.1"/><circle cx="15.8" cy="32.7" r="0.8"/><circle cx="21.9" cy="23.9" r="1.0"/><circle cx="19.6" cy="56.2" r="1.1"/><circle cx="-37.5" cy="22.2" r="0.9"/><circle cx="34.4" cy="24.8" r="0.9"/><circle cx="2.6" cy="43.1" r="0.7"/><circle cx="-25.2" cy="8.0" r="0.9"/><circle cx="-29.9" cy="13.1" r="1.1"/><circle cx="26.7" cy="45.3" r="1.0"/><circle cx="30.9" cy="37.5" r="1.2"/><circle cx="-16.7" cy="37.7" r="0.7"/><circle cx="8.4" cy="46.5" r="1.1"/><circle cx="-5.7" cy="17.7" r="0.7"/></g><g fill="#5a7556"><circle cx="32.3" cy="29.4" r="1.1"/><circle cx="-21.1" cy="60.9" r="1.2"/><circle cx="23.1" cy="58.5" r="1.2"/><circle cx="-4.3" cy="51.8" r="1.1"/><circle cx="-19.1" cy="19.0" r="1.0"/><circle cx="19.9" cy="43.0" r="1.0"/><circle cx="41.7" cy="34.2" r="1.2"/><circle cx="-40.6" cy="44.3" r="0.9"/><circle cx="10.9" cy="30.6" r="0.7"/><circle cx="14.1" cy="38.5" r="0.9"/><circle cx="-46.3" cy="32.0" r="0.8"/><circle cx="22.4" cy="25.1" r="1.2"/><circle cx="7.6" cy="39.4" r="1.0"/><circle cx="-18.2" cy="40.2" r="1.2"/><circle cx="13.8" cy="50.8" r="0.9"/><circle cx="-10.2" cy="51.0" r="1.1"/><circle cx="-29.0" cy="44.4" r="1.2"/><circle cx="-2.2" cy="59.1" r="0.7"/><circle cx="43.1" cy="48.5" r="0.9"/><circle cx="-4.8" cy="12.4" r="0.8"/><circle cx="27.0" cy="32.4" r="1.0"/><circle cx="19.6" cy="5.8" r="1.2"/><circle cx="27.5" cy="34.9" r="0.8"/><circle cx="38.5" cy="34.6" r="1.2"/><circle cx="25.8" cy="57.7" r="0.8"/><circle cx="-21.1" cy="28.5" r="0.9"/><circle cx="-14.7" cy="61.1" r="0.8"/><circle cx="8.0" cy="15.8" r="1.1"/><circle cx="0.6" cy="20.0" r="1.1"/><circle cx="36.7" cy="41.0" r="1.1"/><circle cx="-6.4" cy="24.5" r="0.9"/><circle cx="17.1" cy="38.5" r="1.0"/><circle cx="-3.0" cy="13.8" r="1.2"/><circle cx="6.0" cy="9.3" r="0.7"/><circle cx="-2.2" cy="22.0" r="0.9"/><circle cx="-39.7" cy="23.1" r="1.0"/><circle cx="8.4" cy="48.9" r="0.9"/><circle cx="21.8" cy="8.4" r="0.9"/><circle cx="-4.2" cy="44.7" r="1.1"/><circle cx="-42.2" cy="36.2" r="1.2"/><circle cx="11.3" cy="8.4" r="1.1"/><circle cx="-11.2" cy="56.6" r="1.0"/><circle cx="-41.6" cy="42.4" r="1.0"/><circle cx="23.2" cy="33.2" r="1.2"/><circle cx="-19.7" cy="8.5" r="0.8"/><circle cx="3.2" cy="61.2" r="0.7"/><circle cx="-20.8" cy="58.5" r="1.1"/><circle cx="-7.2" cy="21.4" r="1.2"/><circle cx="21.6" cy="20.9" r="0.9"/><circle cx="-25.3" cy="19.7" r="1.1"/><circle cx="37.4" cy="37.4" r="1.2"/><circle cx="20.7" cy="43.9" r="1.2"/><circle cx="-29.6" cy="36.1" r="1.2"/><circle cx="33.9" cy="51.2" r="0.9"/><circle cx="33.0" cy="60.8" r="1.0"/><circle cx="-26.3" cy="41.9" r="1.1"/><circle cx="4.8" cy="39.7" r="0.8"/><circle cx="-27.9" cy="20.1" r="0.8"/><circle cx="-29.5" cy="54.0" r="1.0"/><circle cx="-28.6" cy="25.1" r="1.2"/><circle cx="12.7" cy="52.1" r="1.2"/><circle cx="17.9" cy="29.6" r="0.8"/><circle cx="7.5" cy="54.3" r="0.8"/><circle cx="3.8" cy="53.6" r="0.7"/><circle cx="-33.2" cy="38.3" r="1.0"/><circle cx="1.3" cy="4.2" r="1.1"/><circle cx="-8.4" cy="36.5" r="0.9"/><circle cx="-9.4" cy="31.2" r="1.0"/><circle cx="37.2" cy="45.2" r="0.8"/><circle cx="-17.2" cy="27.6" r="0.8"/><circle cx="-20.5" cy="42.0" r="1.2"/><circle cx="-6.2" cy="26.7" r="0.9"/><circle cx="18.0" cy="22.1" r="0.7"/><circle cx="22.1" cy="16.0" r="1.1"/><circle cx="21.7" cy="46.1" r="1.2"/><circle cx="29.3" cy="43.1" r="1.0"/><circle cx="18.8" cy="44.3" r="0.8"/><circle cx="-39.5" cy="37.2" r="0.9"/><circle cx="5.4" cy="14.3" r="1.2"/><circle cx="1.5" cy="15.6" r="1.2"/><circle cx="-25.8" cy="27.4" r="1.0"/><circle cx="-4.9" cy="41.9" r="1.1"/><circle cx="-8.4" cy="15.3" r="0.9"/><circle cx="11.8" cy="43.9" r="1.1"/><circle cx="-10.2" cy="47.0" r="0.8"/><circle cx="35.8" cy="33.0" r="0.7"/><circle cx="-20.1" cy="15.1" r="1.2"/><circle cx="22.7" cy="23.0" r="0.9"/><circle cx="-0.3" cy="8.4" r="0.8"/><circle cx="-16.6" cy="56.4" r="0.7"/><circle cx="-29.6" cy="19.2" r="1.2"/><circle cx="-1.7" cy="18.5" r="1.1"/><circle cx="11.2" cy="61.1" r="0.8"/><circle cx="-9.0" cy="41.1" r="0.9"/><circle cx="28.7" cy="52.9" r="1.1"/><circle cx="-6.5" cy="37.1" r="0.8"/><circle cx="0.7" cy="-3.0" r="1.0"/><circle cx="-4.3" cy="13.7" r="1.0"/><circle cx="18.1" cy="14.7" r="1.0"/><circle cx="-35.9" cy="24.8" r="0.9"/><circle cx="-33.9" cy="34.3" r="0.9"/><circle cx="-3.5" cy="60.0" r="0.9"/><circle cx="35.3" cy="31.0" r="0.9"/><circle cx="-6.8" cy="1.8" r="1.2"/><circle cx="23.9" cy="55.1" r="0.7"/><circle cx="-6.2" cy="46.4" r="1.0"/><circle cx="-5.5" cy="57.2" r="0.9"/><circle cx="43.5" cy="28.6" r="1.2"/><circle cx="-24.0" cy="54.1" r="1.1"/><circle cx="-21.4" cy="31.7" r="0.8"/><circle cx="24.2" cy="54.7" r="1.0"/><circle cx="28.4" cy="13.7" r="0.9"/><circle cx="30.7" cy="45.3" r="1.2"/><circle cx="1.7" cy="35.7" r="1.1"/><circle cx="-7.2" cy="43.4" r="1.0"/><circle cx="-8.7" cy="42.0" r="0.9"/><circle cx="-18.0" cy="13.8" r="1.1"/><circle cx="-4.1" cy="14.9" r="0.9"/><circle cx="-13.4" cy="15.8" r="0.8"/><circle cx="-25.7" cy="7.3" r="0.8"/><circle cx="2.8" cy="29.9" r="0.7"/><circle cx="28.8" cy="25.7" r="0.8"/><circle cx="1.1" cy="4.7" r="1.2"/><circle cx="6.1" cy="11.9" r="1.2"/><circle cx="30.5" cy="35.2" r="0.8"/><circle cx="23.2" cy="41.6" r="1.2"/><circle cx="9.4" cy="28.7" r="0.9"/><circle cx="-13.5" cy="17.8" r="0.8"/><circle cx="0.5" cy="4.9" r="1.2"/><circle cx="44.2" cy="47.2" r="0.9"/><circle cx="21.3" cy="36.1" r="0.9"/><circle cx="-43.8" cy="39.9" r="1.0"/><circle cx="4.0" cy="52.5" r="1.0"/><circle cx="-43.2" cy="34.9" r="1.2"/><circle cx="-14.4" cy="22.6" r="0.9"/><circle cx="-36.9" cy="31.6" r="1.2"/><circle cx="27.1" cy="42.7" r="0.7"/><circle cx="-4.1" cy="35.0" r="1.2"/><circle cx="4.1" cy="23.4" r="1.0"/><circle cx="16.2" cy="32.2" r="1.0"/><circle cx="0.7" cy="34.7" r="1.1"/><circle cx="-5.5" cy="31.6" r="0.8"/><circle cx="1.6" cy="43.5" r="0.7"/><circle cx="1.6" cy="10.5" r="0.9"/><circle cx="-10.2" cy="21.9" r="1.2"/><circle cx="-10.6" cy="23.1" r="0.9"/><circle cx="14.5" cy="27.3" r="0.8"/><circle cx="-8.4" cy="30.7" r="1.0"/><circle cx="-26.4" cy="51.5" r="1.2"/><circle cx="10.4" cy="12.6" r="0.8"/><circle cx="-30.6" cy="37.3" r="0.9"/><circle cx="11.6" cy="41.2" r="0.7"/><circle cx="-18.3" cy="10.4" r="0.7"/><circle cx="-8.1" cy="48.0" r="1.2"/><circle cx="-3.2" cy="40.1" r="0.8"/><circle cx="22.4" cy="21.1" r="0.8"/><circle cx="-43.9" cy="28.0" r="0.7"/><circle cx="11.2" cy="4.7" r="0.9"/><circle cx="3.0" cy="31.3" r="0.8"/><circle cx="28.5" cy="62.4" r="0.8"/><circle cx="-29.7" cy="33.2" r="1.1"/><circle cx="6.0" cy="28.4" r="0.9"/><circle cx="-16.0" cy="53.0" r="1.2"/><circle cx="-29.0" cy="16.9" r="0.9"/><circle cx="-10.6" cy="38.7" r="0.8"/><circle cx="-38.9" cy="39.5" r="0.7"/><circle cx="14.7" cy="28.8" r="0.8"/><circle cx="-39.5" cy="34.4" r="1.0"/><circle cx="27.5" cy="59.4" r="0.9"/><circle cx="12.7" cy="23.0" r="1.2"/><circle cx="-25.1" cy="21.6" r="0.8"/><circle cx="38.7" cy="41.7" r="1.0"/><circle cx="-8.2" cy="42.0" r="1.0"/><circle cx="15.2" cy="37.4" r="1.0"/><circle cx="25.9" cy="10.8" r="1.1"/><circle cx="-25.0" cy="51.3" r="1.0"/><circle cx="-22.7" cy="38.6" r="1.2"/><circle cx="-29.7" cy="40.8" r="0.9"/><circle cx="44.1" cy="45.0" r="1.0"/><circle cx="21.6" cy="32.9" r="1.2"/><circle cx="0.8" cy="39.4" r="0.7"/><circle cx="33.3" cy="32.5" r="0.9"/><circle cx="13.2" cy="38.6" r="0.8"/><circle cx="43.8" cy="53.1" r="1.1"/><circle cx="-8.3" cy="31.9" r="1.1"/><circle cx="-20.2" cy="54.8" r="0.7"/><circle cx="-0.8" cy="57.8" r="1.2"/><circle cx="-11.2" cy="22.0" r="1.0"/><circle cx="-21.3" cy="12.2" r="0.9"/><circle cx="-29.0" cy="60.1" r="0.9"/><circle cx="-14.6" cy="39.7" r="1.1"/><circle cx="38.2" cy="50.5" r="1.2"/><circle cx="25.2" cy="36.0" r="0.9"/><circle cx="-30.7" cy="61.4" r="1.0"/><circle cx="-4.7" cy="22.9" r="1.1"/><circle cx="0.4" cy="46.4" r="1.2"/><circle cx="-17.3" cy="23.5" r="0.8"/><circle cx="17.4" cy="57.2" r="0.8"/><circle cx="44.0" cy="29.3" r="0.9"/><circle cx="-4.8" cy="28.7" r="1.0"/><circle cx="7.9" cy="12.3" r="1.0"/><circle cx="-10.6" cy="35.1" r="1.2"/><circle cx="14.7" cy="5.8" r="0.7"/><circle cx="27.5" cy="9.0" r="1.0"/><circle cx="-37.1" cy="42.8" r="1.2"/><circle cx="40.5" cy="30.2" r="1.0"/><circle cx="12.9" cy="61.1" r="0.9"/><circle cx="-36.9" cy="39.9" r="1.1"/><circle cx="-18.6" cy="24.3" r="0.8"/><circle cx="-28.0" cy="52.9" r="0.8"/><circle cx="-18.6" cy="60.9" r="1.0"/><circle cx="-44.4" cy="48.1" r="0.8"/><circle cx="42.2" cy="42.4" r="1.0"/><circle cx="1.6" cy="4.4" r="0.9"/><circle cx="14.8" cy="41.1" r="0.7"/><circle cx="-10.6" cy="30.9" r="1.1"/><circle cx="4.8" cy="52.7" r="0.8"/><circle cx="-7.5" cy="8.1" r="0.9"/><circle cx="-32.2" cy="28.7" r="1.1"/><circle cx="-3.5" cy="15.7" r="1.2"/><circle cx="23.6" cy="41.2" r="1.0"/><circle cx="-4.9" cy="49.3" r="0.8"/><circle cx="-24.8" cy="47.4" r="1.0"/><circle cx="1.2" cy="29.8" r="1.1"/><circle cx="8.2" cy="14.6" r="1.2"/><circle cx="17.3" cy="45.1" r="0.9"/><circle cx="-1.2" cy="49.1" r="1.2"/><circle cx="-13.4" cy="52.7" r="1.1"/><circle cx="14.2" cy="15.0" r="1.0"/><circle cx="10.5" cy="6.6" r="1.2"/><circle cx="-4.0" cy="38.3" r="1.0"/><circle cx="32.3" cy="20.6" r="0.7"/><circle cx="-27.2" cy="20.3" r="0.8"/><circle cx="33.7" cy="53.4" r="0.9"/><circle cx="7.8" cy="33.2" r="0.8"/><circle cx="33.0" cy="51.7" r="0.8"/><circle cx="4.4" cy="51.5" r="0.8"/><circle cx="29.6" cy="53.6" r="1.0"/><circle cx="-20.9" cy="52.0" r="0.7"/><circle cx="35.3" cy="53.4" r="1.0"/><circle cx="5.5" cy="4.7" r="1.1"/><circle cx="-16.4" cy="5.0" r="0.8"/><circle cx="5.5" cy="18.0" r="1.2"/><circle cx="26.2" cy="28.3" r="1.1"/><circle cx="-8.3" cy="41.1" r="1.0"/><circle cx="-2.8" cy="10.6" r="1.0"/><circle cx="-21.5" cy="14.0" r="1.0"/><circle cx="6.3" cy="46.1" r="1.1"/><circle cx="16.5" cy="32.8" r="1.1"/><circle cx="-25.1" cy="13.1" r="1.1"/><circle cx="24.9" cy="22.5" r="0.7"/><circle cx="13.3" cy="58.1" r="1.1"/><circle cx="-43.4" cy="27.2" r="0.7"/><circle cx="-16.8" cy="16.3" r="1.1"/><circle cx="9.5" cy="56.3" r="0.7"/><circle cx="-28.6" cy="49.4" r="0.9"/><circle cx="-37.7" cy="49.9" r="1.2"/><circle cx="-21.3" cy="19.8" r="0.8"/><circle cx="0.3" cy="54.8" r="0.8"/><circle cx="29.6" cy="41.9" r="0.8"/><circle cx="-12.0" cy="40.9" r="0.9"/><circle cx="-43.0" cy="47.4" r="0.7"/></g><g fill="#6b8560"><circle cx="-19.2" cy="64.8" r="0.8"/><circle cx="22.5" cy="51.2" r="1.0"/><circle cx="-40.3" cy="49.8" r="1.1"/><circle cx="-31.7" cy="42.5" r="1.2"/><circle cx="-26.2" cy="53.9" r="0.9"/><circle cx="36.6" cy="31.0" r="0.8"/><circle cx="3.4" cy="55.2" r="1.1"/><circle cx="-23.7" cy="47.4" r="1.0"/><circle cx="6.4" cy="38.0" r="1.0"/><circle cx="-38.6" cy="23.5" r="0.8"/><circle cx="-27.2" cy="13.3" r="0.9"/><circle cx="-0.9" cy="43.9" r="0.8"/><circle cx="-19.6" cy="63.5" r="1.1"/><circle cx="5.5" cy="34.7" r="0.7"/><circle cx="-3.3" cy="6.7" r="0.7"/><circle cx="-9.1" cy="13.2" r="1.2"/><circle cx="27.7" cy="34.4" r="0.9"/><circle cx="-30.5" cy="11.8" r="1.2"/><circle cx="40.3" cy="22.1" r="0.9"/><circle cx="5.8" cy="47.7" r="1.2"/><circle cx="-4.5" cy="22.6" r="1.2"/><circle cx="-7.3" cy="12.4" r="0.8"/><circle cx="-30.3" cy="29.3" r="1.2"/><circle cx="-0.7" cy="20.7" r="0.7"/><circle cx="39.4" cy="48.0" r="0.7"/><circle cx="18.3" cy="45.8" r="0.8"/><circle cx="-11.4" cy="41.9" r="1.0"/><circle cx="1.1" cy="21.6" r="0.8"/><circle cx="28.5" cy="41.5" r="1.2"/><circle cx="-1.1" cy="0.4" r="1.0"/><circle cx="-13.5" cy="26.3" r="1.0"/><circle cx="-11.7" cy="26.7" r="0.9"/><circle cx="-15.0" cy="17.5" r="1.2"/><circle cx="20.3" cy="56.2" r="1.2"/><circle cx="33.5" cy="57.5" r="0.8"/><circle cx="-28.6" cy="56.5" r="0.8"/><circle cx="-46.2" cy="38.2" r="1.1"/><circle cx="33.0" cy="6.8" r="0.7"/><circle cx="4.7" cy="2.7" r="0.9"/><circle cx="28.1" cy="32.5" r="0.9"/><circle cx="7.4" cy="8.8" r="1.2"/><circle cx="-32.5" cy="33.5" r="0.8"/><circle cx="-6.5" cy="42.6" r="0.9"/><circle cx="0.3" cy="37.1" r="1.2"/><circle cx="-38.6" cy="53.2" r="1.1"/><circle cx="-36.1" cy="38.1" r="0.8"/><circle cx="47.8" cy="27.6" r="0.8"/><circle cx="6.9" cy="29.9" r="0.9"/><circle cx="6.6" cy="18.9" r="1.2"/><circle cx="3.9" cy="35.0" r="0.8"/><circle cx="-31.1" cy="25.6" r="0.9"/><circle cx="34.5" cy="33.2" r="1.0"/><circle cx="-6.3" cy="29.7" r="0.9"/><circle cx="23.2" cy="38.6" r="1.0"/><circle cx="-6.0" cy="39.2" r="1.1"/><circle cx="24.4" cy="35.1" r="1.2"/><circle cx="-3.6" cy="56.1" r="1.2"/><circle cx="-8.4" cy="9.8" r="0.7"/><circle cx="-0.3" cy="18.2" r="0.9"/><circle cx="-0.3" cy="26.5" r="1.2"/><circle cx="-14.4" cy="46.6" r="0.7"/><circle cx="16.2" cy="46.9" r="1.0"/><circle cx="5.1" cy="3.0" r="0.8"/><circle cx="-5.1" cy="53.3" r="1.1"/><circle cx="-1.0" cy="42.5" r="1.1"/><circle cx="12.2" cy="45.5" r="1.2"/><circle cx="-32.2" cy="28.4" r="0.7"/><circle cx="46.1" cy="42.0" r="0.9"/><circle cx="7.3" cy="37.3" r="0.7"/><circle cx="4.8" cy="34.1" r="0.9"/><circle cx="-21.2" cy="8.9" r="1.1"/><circle cx="-13.1" cy="22.4" r="0.8"/><circle cx="17.6" cy="24.8" r="0.8"/><circle cx="-0.6" cy="14.1" r="0.9"/><circle cx="-35.7" cy="55.4" r="1.1"/><circle cx="-26.9" cy="18.4" r="0.8"/><circle cx="15.1" cy="61.4" r="1.0"/><circle cx="4.7" cy="34.7" r="1.0"/><circle cx="28.9" cy="48.7" r="1.1"/><circle cx="10.0" cy="45.2" r="1.1"/><circle cx="-13.1" cy="34.4" r="1.2"/><circle cx="6.8" cy="40.0" r="0.8"/><circle cx="-18.6" cy="43.3" r="1.1"/><circle cx="1.3" cy="42.0" r="1.0"/><circle cx="-10.6" cy="12.0" r="1.2"/><circle cx="13.0" cy="53.1" r="1.2"/><circle cx="-40.6" cy="32.7" r="0.7"/><circle cx="-10.1" cy="36.4" r="1.0"/><circle cx="14.4" cy="18.4" r="1.1"/><circle cx="29.5" cy="40.5" r="1.0"/><circle cx="-40.2" cy="19.5" r="1.2"/><circle cx="11.0" cy="59.7" r="1.1"/><circle cx="-37.6" cy="26.3" r="0.8"/><circle cx="-18.0" cy="29.0" r="0.9"/><circle cx="-9.8" cy="24.1" r="1.2"/><circle cx="-13.9" cy="35.1" r="0.8"/><circle cx="4.5" cy="23.1" r="0.9"/><circle cx="33.3" cy="56.2" r="0.8"/><circle cx="-8.2" cy="28.8" r="1.0"/><circle cx="10.5" cy="49.2" r="1.2"/><circle cx="13.4" cy="16.2" r="1.1"/><circle cx="4.2" cy="20.9" r="1.1"/><circle cx="8.1" cy="45.3" r="1.2"/><circle cx="8.0" cy="33.3" r="1.2"/><circle cx="-11.6" cy="27.6" r="0.8"/><circle cx="-25.9" cy="36.3" r="1.2"/><circle cx="14.3" cy="7.4" r="0.8"/><circle cx="-40.9" cy="32.7" r="1.0"/><circle cx="-5.6" cy="3.9" r="1.1"/><circle cx="44.0" cy="32.9" r="0.8"/><circle cx="-27.6" cy="55.0" r="1.2"/><circle cx="-23.2" cy="45.5" r="1.1"/><circle cx="-31.1" cy="51.3" r="1.0"/><circle cx="12.7" cy="25.8" r="0.8"/><circle cx="44.1" cy="29.2" r="1.0"/><circle cx="10.7" cy="51.1" r="0.9"/><circle cx="30.9" cy="49.4" r="1.1"/><circle cx="-42.9" cy="41.4" r="1.2"/><circle cx="1.7" cy="52.8" r="1.1"/><circle cx="25.0" cy="15.9" r="1.1"/><circle cx="8.5" cy="16.6" r="1.0"/><circle cx="27.9" cy="41.5" r="1.1"/><circle cx="12.2" cy="26.4" r="1.2"/><circle cx="-10.4" cy="10.4" r="1.2"/><circle cx="8.9" cy="5.1" r="0.9"/><circle cx="26.8" cy="32.0" r="1.0"/><circle cx="30.3" cy="46.3" r="1.2"/><circle cx="-8.2" cy="43.7" r="0.7"/><circle cx="2.7" cy="35.2" r="0.8"/><circle cx="-28.8" cy="7.4" r="0.9"/><circle cx="5.1" cy="30.0" r="1.1"/><circle cx="11.6" cy="25.2" r="1.1"/><circle cx="-3.1" cy="7.7" r="0.9"/><circle cx="4.7" cy="4.3" r="1.0"/><circle cx="-44.9" cy="46.2" r="1.0"/><circle cx="8.4" cy="12.5" r="1.1"/><circle cx="27.2" cy="39.4" r="0.7"/><circle cx="37.2" cy="17.1" r="0.9"/><circle cx="-19.4" cy="50.0" r="1.2"/><circle cx="22.8" cy="41.6" r="0.7"/><circle cx="-4.1" cy="54.2" r="0.8"/><circle cx="23.2" cy="39.2" r="0.8"/><circle cx="-15.9" cy="41.1" r="0.8"/><circle cx="-8.0" cy="22.6" r="0.8"/><circle cx="18.5" cy="25.7" r="0.8"/><circle cx="-23.6" cy="52.1" r="0.7"/><circle cx="-6.6" cy="44.0" r="1.0"/><circle cx="-8.3" cy="42.9" r="1.2"/><circle cx="12.2" cy="12.1" r="1.2"/><circle cx="23.7" cy="46.3" r="0.9"/><circle cx="-27.7" cy="24.6" r="1.0"/><circle cx="-22.2" cy="48.8" r="1.0"/><circle cx="15.7" cy="48.8" r="1.2"/><circle cx="-10.7" cy="42.6" r="1.0"/><circle cx="9.1" cy="50.2" r="0.7"/><circle cx="-38.5" cy="54.0" r="1.2"/><circle cx="-37.5" cy="55.7" r="1.2"/><circle cx="13.5" cy="51.9" r="1.1"/><circle cx="-9.5" cy="26.9" r="1.2"/><circle cx="31.3" cy="34.1" r="0.9"/><circle cx="28.9" cy="28.4" r="0.7"/><circle cx="-11.5" cy="15.3" r="0.7"/><circle cx="15.3" cy="47.0" r="1.2"/><circle cx="31.4" cy="39.6" r="0.9"/><circle cx="14.1" cy="36.8" r="0.8"/><circle cx="20.1" cy="43.8" r="1.2"/><circle cx="-36.9" cy="57.3" r="0.9"/><circle cx="13.3" cy="29.1" r="0.9"/><circle cx="-1.7" cy="5.9" r="1.2"/><circle cx="-21.0" cy="43.7" r="0.9"/><circle cx="16.8" cy="51.4" r="0.8"/><circle cx="37.4" cy="24.9" r="1.0"/><circle cx="33.0" cy="43.6" r="0.8"/><circle cx="-9.0" cy="54.5" r="1.2"/><circle cx="31.5" cy="58.9" r="1.1"/><circle cx="-16.4" cy="22.4" r="1.0"/><circle cx="-4.9" cy="30.5" r="1.1"/><circle cx="17.4" cy="12.6" r="1.0"/><circle cx="-14.6" cy="13.2" r="0.9"/><circle cx="-11.8" cy="61.2" r="0.9"/><circle cx="-25.5" cy="48.6" r="0.9"/><circle cx="32.3" cy="36.7" r="0.7"/><circle cx="10.9" cy="55.4" r="1.1"/><circle cx="-24.7" cy="51.0" r="0.8"/><circle cx="-37.4" cy="20.2" r="1.2"/><circle cx="-7.4" cy="38.4" r="1.2"/><circle cx="-12.0" cy="36.6" r="1.1"/><circle cx="-45.2" cy="21.5" r="1.1"/><circle cx="-24.4" cy="31.9" r="0.9"/><circle cx="36.1" cy="19.1" r="0.7"/><circle cx="-34.5" cy="29.3" r="0.8"/><circle cx="-7.1" cy="51.5" r="0.9"/><circle cx="-3.1" cy="61.3" r="1.1"/><circle cx="29.1" cy="51.9" r="1.2"/><circle cx="10.2" cy="24.4" r="0.7"/><circle cx="-15.5" cy="15.8" r="0.9"/><circle cx="-23.9" cy="23.1" r="0.8"/><circle cx="-26.1" cy="63.4" r="1.0"/><circle cx="15.6" cy="43.7" r="0.9"/><circle cx="34.7" cy="51.8" r="0.7"/></g><g fill="#9ea56a"><circle cx="-15.6" cy="21.1" r="0.8"/><circle cx="-24.6" cy="34.1" r="0.7"/><circle cx="5.1" cy="20.2" r="0.8"/><circle cx="21.5" cy="60.6" r="0.8"/><circle cx="12.7" cy="6.8" r="1.1"/><circle cx="4.6" cy="31.8" r="1.0"/><circle cx="22.0" cy="51.0" r="0.8"/><circle cx="-25.1" cy="45.5" r="1.2"/><circle cx="-21.3" cy="17.0" r="1.0"/><circle cx="-49.1" cy="34.4" r="0.7"/><circle cx="-17.7" cy="63.6" r="0.8"/><circle cx="15.1" cy="60.8" r="1.1"/><circle cx="25.6" cy="35.6" r="0.9"/><circle cx="-35.7" cy="46.2" r="1.2"/><circle cx="24.2" cy="26.2" r="0.8"/><circle cx="19.6" cy="65.2" r="1.2"/><circle cx="-15.4" cy="15.2" r="1.2"/><circle cx="4.7" cy="44.7" r="1.1"/><circle cx="-41.4" cy="46.4" r="1.2"/><circle cx="7.2" cy="31.7" r="0.9"/><circle cx="14.5" cy="9.8" r="0.9"/><circle cx="40.1" cy="22.2" r="1.0"/><circle cx="-17.2" cy="37.1" r="0.9"/><circle cx="11.0" cy="58.1" r="0.8"/><circle cx="-22.3" cy="28.2" r="1.0"/><circle cx="22.1" cy="52.1" r="1.2"/><circle cx="-13.7" cy="47.0" r="0.7"/><circle cx="33.1" cy="45.1" r="1.0"/><circle cx="4.4" cy="30.3" r="0.7"/><circle cx="28.6" cy="16.4" r="0.8"/><circle cx="-14.1" cy="51.5" r="1.0"/><circle cx="41.2" cy="46.1" r="0.8"/><circle cx="29.4" cy="16.2" r="0.9"/><circle cx="34.3" cy="46.5" r="0.8"/><circle cx="-1.9" cy="15.9" r="1.0"/><circle cx="20.6" cy="37.2" r="1.1"/><circle cx="23.0" cy="8.0" r="1.2"/><circle cx="14.7" cy="15.4" r="1.0"/><circle cx="-18.5" cy="52.5" r="0.9"/><circle cx="21.3" cy="31.9" r="0.7"/><circle cx="0.9" cy="23.7" r="1.0"/><circle cx="11.0" cy="14.3" r="0.7"/><circle cx="3.6" cy="23.3" r="0.8"/><circle cx="33.9" cy="57.4" r="1.0"/><circle cx="-19.6" cy="58.7" r="0.9"/><circle cx="-20.4" cy="24.5" r="1.2"/><circle cx="7.1" cy="18.3" r="1.0"/><circle cx="13.7" cy="31.6" r="0.8"/><circle cx="36.8" cy="36.8" r="0.8"/><circle cx="3.3" cy="30.1" r="1.2"/><circle cx="-29.7" cy="41.9" r="1.0"/><circle cx="-35.0" cy="38.3" r="0.7"/><circle cx="-20.5" cy="52.2" r="1.0"/><circle cx="-18.2" cy="38.5" r="1.0"/><circle cx="-18.2" cy="26.7" r="1.0"/><circle cx="-17.6" cy="53.5" r="1.1"/><circle cx="-22.6" cy="48.1" r="0.8"/><circle cx="-4.0" cy="10.7" r="1.0"/><circle cx="29.6" cy="46.9" r="1.2"/><circle cx="-3.0" cy="57.5" r="1.0"/><circle cx="16.8" cy="19.7" r="0.9"/><circle cx="-6.8" cy="35.7" r="1.1"/><circle cx="-24.4" cy="54.8" r="0.8"/><circle cx="-19.1" cy="46.7" r="1.2"/><circle cx="41.9" cy="20.1" r="0.8"/><circle cx="8.4" cy="58.2" r="1.2"/><circle cx="12.0" cy="59.0" r="0.8"/><circle cx="29.2" cy="49.7" r="0.9"/><circle cx="-17.1" cy="26.3" r="1.0"/><circle cx="23.6" cy="19.0" r="1.2"/><circle cx="19.6" cy="30.1" r="0.8"/></g><g fill="#adb274"><circle cx="18.0" cy="21.9" r="0.9"/><circle cx="9.0" cy="25.3" r="1.0"/><circle cx="-31.3" cy="35.2" r="1.0"/><circle cx="8.7" cy="38.8" r="1.0"/><circle cx="27.7" cy="50.9" r="1.0"/><circle cx="24.6" cy="43.1" r="1.1"/><circle cx="22.3" cy="51.7" r="0.8"/><circle cx="-22.4" cy="46.5" r="0.7"/><circle cx="-16.0" cy="9.3" r="1.0"/><circle cx="-0.2" cy="4.7" r="0.8"/><circle cx="-10.6" cy="50.1" r="0.7"/><circle cx="38.0" cy="51.6" r="0.8"/><circle cx="0.6" cy="50.2" r="1.0"/><circle cx="-17.8" cy="48.3" r="1.1"/><circle cx="10.0" cy="61.2" r="1.2"/><circle cx="7.4" cy="41.6" r="1.1"/><circle cx="-16.2" cy="29.4" r="1.2"/><circle cx="21.6" cy="44.2" r="1.0"/><circle cx="-21.9" cy="52.0" r="0.9"/><circle cx="1.2" cy="37.0" r="1.1"/><circle cx="7.4" cy="32.1" r="1.0"/><circle cx="-11.6" cy="24.0" r="1.0"/><circle cx="10.0" cy="48.3" r="1.0"/><circle cx="9.3" cy="44.3" r="0.8"/><circle cx="35.0" cy="21.1" r="0.8"/><circle cx="7.2" cy="34.7" r="1.1"/><circle cx="-4.9" cy="31.5" r="1.0"/><circle cx="5.5" cy="8.4" r="1.2"/><circle cx="9.8" cy="22.9" r="1.1"/><circle cx="-1.3" cy="15.9" r="1.1"/><circle cx="-19.4" cy="49.4" r="1.1"/><circle cx="16.8" cy="52.7" r="1.1"/><circle cx="-20.3" cy="13.5" r="1.0"/><circle cx="-3.0" cy="20.5" r="1.2"/><circle cx="-3.5" cy="31.9" r="1.0"/><circle cx="7.3" cy="3.4" r="1.0"/></g></symbol>
<symbol id="sheep" viewBox="0 0 30 30" preserveAspectRatio="none" overflow="visible"><g fill="#f3efdc"><rect x="8" y="18" width="2" height="7"/><rect x="11" y="18" width="2" height="6.5"/><rect x="24" y="18" width="2.2" height="7"/><rect x="27" y="17" width="2.2" height="7"/></g><g fill="#9a98a4"><rect x="8.2" y="24" width="1.5" height="4.6"/><rect x="11.2" y="23.5" width="1.5" height="4.6"/><rect x="24.3" y="24" width="1.5" height="4.6"/><rect x="27.4" y="23.5" width="1.5" height="4.6"/></g><g fill="#2e2c36"><rect x="7.8" y="28.3" width="2.2" height="1.3"/><rect x="10.8" y="27.8" width="2.2" height="1.3"/><rect x="24" y="28.3" width="2.2" height="1.3"/><rect x="27.1" y="27.8" width="2.2" height="1.3"/></g><path d="M3.5 5.5 C5 3.5 8 3.8 9.3 6 L11.5 8.5 C16 7.6 23 7.4 28 8.6 C30.4 9.6 30.4 13 30 16 C30 19 29.5 20.6 27.5 21 C26 19.5 24 19.5 22.5 21 C19 21.8 15.5 21.6 13.5 20.6 C12 21.4 9 21.4 7.6 19.6 C6.6 16.5 6.8 13 5.8 10.5 C5 9 3.8 7.5 3.5 5.5Z" fill="#f6f3e2"/><path d="M8 18 C12 20.5 20 20.5 27 18.5 C27.5 20 27 21 25.5 21.2 C22 21.6 14 21.8 10 20.8 C8.5 20.3 8 19.3 8 18Z" fill="#e4dfc8" opacity="0.8"/><path d="M0.8 6.2 C1.2 4.6 3 3.6 5 3.8 C6.6 4.2 7.4 5.6 7 7.2 C6.4 8.8 4.4 9.6 2.8 9 C1.4 8.5 0.5 7.6 0.8 6.2Z" fill="#8f8c98"/><ellipse cx="5.6" cy="3.2" rx="3.2" ry="2.1" fill="#f6f3e2"/><path d="M6.8 4.6 L9.4 4.2 L8 6.2Z" fill="#6b6874"/><circle cx="4.2" cy="5.6" r="0.75" fill="#222"/><circle cx="1.3" cy="7.3" r="0.7" fill="#3a3842"/></symbol>
<symbol id="paw" viewBox="0 0 12 12" overflow="visible"><path d="M6 5.6 C8.4 5.6 9.6 7.6 9.4 9.4 C9.2 11 7.6 11.2 6 11 C4.4 11.2 2.8 11 2.6 9.4 C2.4 7.6 3.6 5.6 6 5.6Z" fill="#eab680"/><g fill="#eab680"><ellipse cx="1.6" cy="5.4" rx="1.2" ry="1.7" transform="rotate(-25 1.6 5.4)"/><ellipse cx="4.2" cy="2.6" rx="1.25" ry="1.9" transform="rotate(-8 4.2 2.6)"/></g><g fill="#e2923e"><ellipse cx="7.6" cy="2.6" rx="1.25" ry="1.9" transform="rotate(8 7.6 2.6)"/><ellipse cx="10.3" cy="5.4" rx="1.2" ry="1.7" transform="rotate(25 10.3 5.4)"/></g></symbol>
<filter id="b4" x="-60%" y="-60%" width="220%" height="220%"><feGaussianBlur stdDeviation="4"/></filter>
<filter id="b8" x="-60%" y="-60%" width="220%" height="220%"><feGaussianBlur stdDeviation="8"/></filter>
<filter id="b2" x="-60%" y="-60%" width="220%" height="220%"><feGaussianBlur stdDeviation="2"/></filter>
</defs>
<rect width="1767" height="930" fill="url(#bg)"/>
<ellipse cx="1028.0" cy="251.4" rx="70.0" ry="70.0" fill="#fff" opacity="0.07" filter="url(#b8)"/>
<ellipse cx="1028.0" cy="251.4" rx="46.0" ry="46.0" fill="#fff" opacity="0.20" filter="url(#b8)"/>
<ellipse cx="969.7" cy="334.8" rx="20.0" ry="20.0" fill="#fff" opacity="0.42" filter="url(#b4)"/>
<ellipse cx="945.0" cy="76.0" rx="14.0" ry="14.0" fill="#fff" opacity="0.16" filter="url(#b4)"/>
<ellipse cx="1674.7" cy="113.3" rx="47.0" ry="47.0" fill="#fff" opacity="0.06" filter="url(#b2)"/>
<ellipse cx="1120.7" cy="430.0" rx="4.0" ry="4.0" fill="#fff" opacity="0.20" filter="url(#b2)"/>
<ellipse cx="1200.0" cy="262.0" rx="3.0" ry="3.0" fill="#fff" opacity="0.12" filter="url(#b2)"/>
<ellipse cx="1286.2" cy="617.4" rx="32.0" ry="23.0" fill="#fff" opacity="0.88" filter="url(#b4)" transform="rotate(50 1286.2 617.4)"/>
<ellipse cx="1482.6" cy="592.3" rx="17.0" ry="11.0" fill="#fff" opacity="0.62" filter="url(#b4)" transform="rotate(35 1482.6 592.3)"/>
<ellipse cx="1394.9" cy="579.0" rx="6.0" ry="6.0" fill="#fff" opacity="0.20" filter="url(#b2)"/>
<ellipse cx="1338.8" cy="585.8" rx="2.5" ry="5.0" fill="#fff" opacity="0.30" filter="url(#b2)"/>
<ellipse cx="1522.9" cy="623.6" rx="3.5" ry="3.5" fill="#fff" opacity="0.20" filter="url(#b2)"/>
<ellipse cx="1527.0" cy="604.0" rx="55.0" ry="55.0" fill="#fff" opacity="0.04" filter="url(#b8)"/>
<ellipse cx="1431.7" cy="828.5" rx="28.0" ry="30.0" fill="#fff" opacity="0.34" filter="url(#b4)"/>
<ellipse cx="1415.0" cy="912.0" rx="3.0" ry="7.0" fill="#fff" opacity="0.30" filter="url(#b2)"/>
<ellipse cx="1274.5" cy="770.7" rx="50.0" ry="50.0" fill="#fff" opacity="0.33" filter="url(#b8)"/>
<ellipse cx="1326.0" cy="818.0" rx="46.0" ry="46.0" fill="#fff" opacity="0.42" filter="url(#b8)"/>
<ellipse cx="812.0" cy="848.0" rx="7.0" ry="8.0" fill="#fff" opacity="0.15" filter="url(#b2)"/>
<ellipse cx="598.0" cy="903.0" rx="30.0" ry="34.0" fill="#fff" opacity="0.08" filter="url(#b4)"/>
<ellipse cx="504.0" cy="881.6" rx="2.5" ry="6.0" fill="#fff" opacity="0.12" filter="url(#b2)"/>
<ellipse cx="919.0" cy="837.0" rx="4.0" ry="4.0" fill="#fff" opacity="0.20" filter="url(#b2)"/>
<g filter="url(#b4)" opacity="0.93"><circle cx="1049" cy="807" r="56" fill="#fff"/><path d="M1000 833 Q1020 870 1040 886 Q1075 868 1092 840 Z" fill="#fff"/></g>
<linearGradient id="wdg" x1="0" y1="0" x2="0" y2="1"><stop offset="0" stop-color="#fff"/><stop offset="1" stop-color="#d9deea"/></linearGradient>
<path d="M1768 565 C1760 585 1753 610 1750 634 L1768 628 Z" fill="url(#wdg)"/>
<ellipse cx="1745" cy="322" rx="35" ry="6" fill="#fff" opacity="0.12" filter="url(#b4)" transform="rotate(-17 1745 322)"/>
<g fill="#ffffff" transform="translate(27,0)"><circle cx="667" cy="6" r="51"/><circle cx="722" cy="80" r="54"/></g>
<g fill="#e3ecf8"><rect x="508" y="0" width="208" height="40"/><circle cx="426" cy="50" r="42"/><circle cx="540" cy="30" r="75"/><circle cx="667" cy="6" r="51"/><circle cx="722" cy="80" r="54"/><rect x="400" y="30" width="322" height="104"/></g>
<g fill="#e3ecf8" transform="translate(30,0)"><circle cx="236" cy="129" r="69"/><circle cx="306" cy="45" r="72"/><circle cx="392" cy="82" r="59"/><circle cx="449" cy="141" r="57"/><rect x="236" y="100" width="213" height="98"/></g>
<g fill="#c8dcf3"><circle cx="236" cy="129" r="69"/><circle cx="306" cy="45" r="72"/><circle cx="392" cy="82" r="59"/><circle cx="449" cy="141" r="57"/><rect x="236" y="100" width="213" height="98"/></g>
<g fill="#e3ecf8" transform="translate(21,0)"><circle cx="543" cy="226" r="50"/><circle cx="595" cy="176" r="54"/><circle cx="664" cy="184" r="32"/><circle cx="698" cy="237" r="39"/><circle cx="657" cy="171" r="35"/><rect x="543" y="200" width="155" height="76"/></g>
<g fill="#c8dcf3"><circle cx="543" cy="226" r="50"/><circle cx="595" cy="176" r="54"/><circle cx="664" cy="184" r="32"/><circle cx="698" cy="237" r="39"/><rect x="543" y="200" width="155" height="76"/></g>
<g stroke="#c8dcf3" stroke-width="4" stroke-linecap="round"><line x1="227.0" y1="200.0" x2="224.0" y2="211.0"/><line x1="263.3" y1="200.0" x2="260.3" y2="211.0"/><line x1="299.6" y1="200.0" x2="296.6" y2="211.0"/><line x1="335.9" y1="200.0" x2="332.9" y2="211.0"/><line x1="372.2" y1="200.0" x2="369.2" y2="211.0"/><line x1="408.5" y1="200.0" x2="405.5" y2="211.0"/><line x1="444.8" y1="200.0" x2="441.8" y2="211.0"/><line x1="481.1" y1="200.0" x2="478.1" y2="211.0"/><line x1="243.4" y1="222.0" x2="238.0" y2="242.0"/><line x1="279.7" y1="222.0" x2="274.3" y2="242.0"/><line x1="316.0" y1="222.0" x2="310.6" y2="242.0"/><line x1="352.3" y1="222.0" x2="346.9" y2="242.0"/><line x1="388.6" y1="222.0" x2="383.2" y2="242.0"/><line x1="424.9" y1="222.0" x2="419.5" y2="242.0"/><line x1="461.2" y1="222.0" x2="455.8" y2="242.0"/><line x1="257.4" y1="253.0" x2="252.0" y2="273.0"/><line x1="293.7" y1="253.0" x2="288.3" y2="273.0"/><line x1="330.0" y1="253.0" x2="324.6" y2="273.0"/><line x1="366.3" y1="253.0" x2="360.9" y2="273.0"/><line x1="402.6" y1="253.0" x2="397.2" y2="273.0"/><line x1="438.9" y1="253.0" x2="433.5" y2="273.0"/></g>
<g stroke="#c8dcf3" stroke-width="3" stroke-linecap="round"><line x1="536.2" y1="277.0" x2="534.0" y2="285.0"/><line x1="561.8" y1="277.0" x2="559.6" y2="285.0"/><line x1="587.4" y1="277.0" x2="585.2" y2="285.0"/><line x1="613.0" y1="277.0" x2="610.8" y2="285.0"/><line x1="638.6" y1="277.0" x2="636.4" y2="285.0"/><line x1="664.2" y1="277.0" x2="662.0" y2="285.0"/><line x1="689.8" y1="277.0" x2="687.6" y2="285.0"/><line x1="715.4" y1="277.0" x2="713.2" y2="285.0"/><line x1="549.0" y1="292.0" x2="545.0" y2="307.0"/><line x1="574.6" y1="292.0" x2="570.6" y2="307.0"/><line x1="600.2" y1="292.0" x2="596.2" y2="307.0"/><line x1="625.8" y1="292.0" x2="621.8" y2="307.0"/><line x1="651.4" y1="292.0" x2="647.4" y2="307.0"/><line x1="677.0" y1="292.0" x2="673.0" y2="307.0"/><line x1="702.6" y1="292.0" x2="698.6" y2="307.0"/><line x1="559.8" y1="314.0" x2="556.0" y2="328.0"/><line x1="585.4" y1="314.0" x2="581.6" y2="328.0"/><line x1="611.0" y1="314.0" x2="607.2" y2="328.0"/><line x1="636.6" y1="314.0" x2="632.8" y2="328.0"/><line x1="662.2" y1="314.0" x2="658.4" y2="328.0"/><line x1="687.8" y1="314.0" x2="684.0" y2="328.0"/></g>
<g fill="#f6dd7a"><polygon points="721.6,61.4 734.4,61.4 728.0,9.0"/><polygon points="745.3,63.6 754.9,67.6 765.5,28.5"/><polygon points="764.3,73.7 773.3,82.7 805.8,41.2"/><polygon points="779.4,92.1 783.4,101.7 818.5,81.5"/><polygon points="785.6,112.6 785.6,125.4 838.0,119.0"/><polygon points="783.4,136.3 779.4,145.9 818.5,156.5"/><polygon points="773.3,155.3 764.3,164.3 805.8,196.8"/><polygon points="754.9,170.4 745.3,174.4 765.5,209.5"/><polygon points="734.4,176.6 721.6,176.6 728.0,229.0"/><polygon points="710.7,174.4 701.1,170.4 690.5,209.5"/><polygon points="691.7,164.3 682.7,155.3 650.2,196.8"/><polygon points="676.6,145.9 672.6,136.3 637.5,156.5"/><polygon points="670.4,125.4 670.4,112.6 618.0,119.0"/><polygon points="672.6,101.7 676.6,92.1 637.5,81.5"/><polygon points="682.7,82.7 691.7,73.7 650.2,41.2"/><polygon points="701.1,67.6 710.7,63.6 690.5,28.5"/></g>
<circle cx="728" cy="119" r="52" fill="#f3d44e"/>
<clipPath id="sunc"><circle cx="728" cy="119" r="52"/></clipPath>
<circle cx="702" cy="105" r="54" fill="#f6dd7a" clip-path="url(#sunc)"/>
<g>
<rect x="1013.2" y="7.7" width="216.8" height="154.1" fill="#ffffff"/>
<rect x="1013.2" y="26.2" width="216.8" height="135.6" fill="#f1f3ea"/>
<polygon points="1014.6,109.7 1080.4,109.7 1081.4,144.4 1054.8,161.8 1014.6,161.8" fill="#dde7cb"/>
<polygon points="1095.1,128.0 1128.0,106.0 1144.4,109.7 1138.9,131.6 1117.0,146.3 1098.7,157.2" fill="#dde7cb"/>
<polygon points="1128.0,73.1 1146.3,71.3 1146.3,95.1 1131.6,91.4" fill="#dde7cb"/>
<polygon points="1188.3,36.6 1201.1,34.7 1202.9,54.8 1190.1,60.3" fill="#dde7cb"/>
<polygon points="1199.3,117.0 1215.7,118.8 1219.4,142.6 1201.1,138.9" fill="#dde7cb"/>
<polygon points="1109.7,60.3 1120.7,62.2 1117.0,76.8 1107.9,73.1" fill="#dde7cb"/>
<polygon points="1179.2,76.8 1186.5,78.6 1182.8,87.8 1175.5,85.9" fill="#dde7cb"/>
<polygon points="1085.9,85.9 1102.4,76.8 1109.7,85.9 1095.1,98.7" fill="#dde7cb"/>
<polygon points="1157.2,109.7 1170.0,111.5 1168.2,128.0 1155.4,126.1" fill="#dde7cb"/>
<clipPath id="mapc"><rect x="1013.2" y="26.2" width="216.8" height="135.6"/></clipPath><g clip-path="url(#mapc)" fill="none">
<path d="M1064.2 40.0 Q1055.4 42.5 1055.2 47.0" stroke="#d4c9bb" stroke-width="0.5"/>
<path d="M1186.7 130.1 Q1186.2 136.5 1190.2 149.6" stroke="#c9cfc9" stroke-width="0.5"/>
<path d="M1069.8 154.2 Q1078.3 153.7 1091.6 157.8" stroke="#bfd6e6" stroke-width="0.5"/>
<path d="M1080.2 111.3 Q1082.5 93.8 1077.1 84.6" stroke="#c8d8e8" stroke-width="0.5"/>
<path d="M1086.2 78.8 Q1084.1 89.9 1086.3 92.2" stroke="#c8d8e8" stroke-width="0.5"/>
<path d="M1195.4 27.0 Q1190.4 41.0 1189.3 49.7" stroke="#bfd6e6" stroke-width="0.5"/>
<path d="M1102.8 107.5 Q1095.6 113.0 1092.4 112.3" stroke="#c9cfc9" stroke-width="0.5"/>
<path d="M1030.6 88.9 Q1041.8 90.7 1050.0 88.6" stroke="#bfd6e6" stroke-width="0.5"/>
<path d="M1229.4 52.6 Q1225.4 53.6 1218.8 59.1" stroke="#d4c9bb" stroke-width="0.5"/>
<path d="M1107.6 106.1 Q1101.7 104.8 1099.4 96.8" stroke="#bfd6e6" stroke-width="0.5"/>
<path d="M1073.2 105.2 Q1081.0 99.0 1080.1 97.0" stroke="#c9cfc9" stroke-width="0.5"/>
<path d="M1022.3 120.8 Q1036.1 116.6 1045.3 103.1" stroke="#c9cfc9" stroke-width="0.5"/>
<path d="M1083.0 69.7 Q1093.1 82.6 1095.9 88.1" stroke="#c9cfc9" stroke-width="0.5"/>
<path d="M1076.7 52.0 Q1070.3 58.5 1066.3 55.8" stroke="#d4c9bb" stroke-width="0.5"/>
<path d="M1137.4 75.4 Q1132.7 82.6 1122.0 79.9" stroke="#c8d8e8" stroke-width="0.5"/>
<path d="M1034.1 159.5 Q1024.1 158.0 1022.9 165.3" stroke="#bfd6e6" stroke-width="0.5"/>
<path d="M1142.2 158.0 Q1135.2 150.0 1126.5 145.6" stroke="#c9cfc9" stroke-width="0.5"/>
<path d="M1039.5 98.0 Q1045.7 89.3 1042.0 81.2" stroke="#bfd6e6" stroke-width="0.5"/>
<path d="M1108.2 92.9 Q1111.4 100.9 1111.7 110.3" stroke="#bfd6e6" stroke-width="0.5"/>
<path d="M1121.2 30.3 Q1118.1 34.3 1120.8 43.6" stroke="#d4c9bb" stroke-width="0.5"/>
<path d="M1043.7 33.0 Q1057.8 27.5 1062.1 24.0" stroke="#c9cfc9" stroke-width="0.5"/>
<path d="M1120.3 38.6 Q1127.6 56.1 1126.9 65.0" stroke="#d4c9bb" stroke-width="0.5"/>
<path d="M1077.3 90.1 Q1082.5 82.9 1089.4 81.3" stroke="#d4c9bb" stroke-width="0.5"/>
<path d="M1086.5 79.3 Q1070.8 80.9 1059.6 80.0" stroke="#bfd6e6" stroke-width="0.5"/>
<path d="M1022.7 148.3 Q1034.5 154.4 1043.1 169.3" stroke="#bfd6e6" stroke-width="0.5"/>
<path d="M1162.3 89.2 Q1152.9 93.6 1145.6 92.1" stroke="#bfd6e6" stroke-width="0.5"/>
<path d="M1213.2 27.8 Q1220.0 26.9 1220.7 20.4" stroke="#bfd6e6" stroke-width="0.5"/>
<path d="M1132.5 145.5 Q1134.2 160.3 1139.3 167.2" stroke="#b9c4b4" stroke-width="0.5"/>
<path d="M1211.6 85.8 Q1218.0 91.9 1232.1 96.9" stroke="#d4c9bb" stroke-width="0.5"/>
<path d="M1145.0 44.9 Q1137.1 49.4 1128.8 63.8" stroke="#d4c9bb" stroke-width="0.5"/>
<path d="M1192.6 37.6 Q1187.6 33.5 1176.8 33.2" stroke="#bfd6e6" stroke-width="0.5"/>
<path d="M1177.6 142.3 Q1177.9 148.2 1169.8 148.1" stroke="#d4c9bb" stroke-width="0.5"/>
<path d="M1124.2 85.0 Q1127.7 79.0 1139.9 65.4" stroke="#bfd6e6" stroke-width="0.5"/>
<path d="M1151.2 152.4 Q1146.5 151.9 1140.7 153.9" stroke="#bfd6e6" stroke-width="0.5"/>
<path d="M1051.3 46.3 Q1044.0 50.6 1035.8 46.9" stroke="#bfd6e6" stroke-width="0.5"/>
<path d="M1014.2 68.4 Q1007.4 65.7 996.2 63.2" stroke="#c9cfc9" stroke-width="0.5"/>
<path d="M1126.0 81.9 Q1121.0 91.8 1122.5 94.5" stroke="#c9cfc9" stroke-width="0.5"/>
<path d="M1159.9 108.9 Q1154.1 126.0 1149.0 134.8" stroke="#d4c9bb" stroke-width="0.5"/>
<path d="M1216.3 94.9 Q1205.1 96.4 1196.2 102.8" stroke="#c8d8e8" stroke-width="0.5"/>
<path d="M1091.6 116.0 Q1091.3 122.8 1098.2 123.3" stroke="#bfd6e6" stroke-width="0.5"/>
<path d="M1074.9 153.8 Q1080.8 169.7 1083.2 177.9" stroke="#c9cfc9" stroke-width="0.5"/>
<path d="M1100.4 153.3 Q1103.4 161.4 1109.9 173.6" stroke="#c9cfc9" stroke-width="0.5"/>
<path d="M1144.0 97.3 Q1142.7 95.4 1144.3 87.3" stroke="#c9cfc9" stroke-width="0.5"/>
<path d="M1047.4 105.4 Q1041.5 108.4 1026.8 106.1" stroke="#c9cfc9" stroke-width="0.5"/>
<path d="M1050.3 91.2 Q1058.1 88.5 1060.0 82.7" stroke="#b9c4b4" stroke-width="0.5"/>
<path d="M1204.2 58.3 Q1196.4 61.2 1191.3 59.1" stroke="#c8d8e8" stroke-width="0.5"/>
<path d="M1149.0 161.5 Q1154.8 159.7 1162.5 151.5" stroke="#d4c9bb" stroke-width="0.5"/>
<path d="M1108.1 106.0 Q1107.6 120.5 1107.9 133.7" stroke="#d4c9bb" stroke-width="0.5"/>
<path d="M1100.7 78.9 Q1109.8 85.2 1119.7 82.2" stroke="#d4c9bb" stroke-width="0.5"/>
<path d="M1144.0 68.5 Q1147.0 76.5 1155.5 75.9" stroke="#c8d8e8" stroke-width="0.5"/>
<path d="M1181.8 46.2 Q1186.8 50.1 1182.9 60.8" stroke="#c8d8e8" stroke-width="0.5"/>
<path d="M1160.7 100.4 Q1167.6 95.2 1174.0 96.9" stroke="#c9cfc9" stroke-width="0.5"/>
<path d="M1057.6 155.1 Q1067.5 160.0 1069.7 162.0" stroke="#c8d8e8" stroke-width="0.5"/>
<path d="M1206.2 121.5 Q1209.4 114.1 1203.5 99.2" stroke="#c9cfc9" stroke-width="0.5"/>
<path d="M1134.5 120.4 Q1132.9 107.0 1131.2 100.5" stroke="#d4c9bb" stroke-width="0.5"/>
<path d="M1118.1 35.2 Q1122.3 46.0 1131.5 58.9" stroke="#d4c9bb" stroke-width="0.5"/>
<path d="M1200.0 70.7 Q1188.7 80.1 1186.9 82.0" stroke="#c9cfc9" stroke-width="0.5"/>
<path d="M1079.0 133.4 Q1084.6 131.2 1088.0 138.8" stroke="#bfd6e6" stroke-width="0.5"/>
<path d="M1133.1 90.8 Q1135.2 89.9 1130.7 79.0" stroke="#b9c4b4" stroke-width="0.5"/>
<path d="M1086.0 49.5 Q1079.8 52.4 1074.0 47.2" stroke="#d4c9bb" stroke-width="0.5"/>
<path d="M1079.2 114.0 Q1083.0 108.9 1096.1 101.2" stroke="#d4c9bb" stroke-width="0.5"/>
<path d="M1138.6 135.1 Q1127.8 131.6 1117.4 121.5" stroke="#c9cfc9" stroke-width="0.5"/>
<path d="M1206.5 147.5 Q1216.8 141.0 1223.1 132.4" stroke="#c8d8e8" stroke-width="0.5"/>
<path d="M1116.3 155.9 Q1117.1 153.5 1127.0 150.7" stroke="#c8d8e8" stroke-width="0.5"/>
<path d="M1167.3 31.3 Q1164.8 20.8 1160.3 17.6" stroke="#d4c9bb" stroke-width="0.5"/>
<path d="M1038.3 159.1 Q1037.8 154.0 1047.2 142.0" stroke="#c8d8e8" stroke-width="0.5"/>
<path d="M1072.5 155.8 Q1079.0 148.4 1095.2 137.1" stroke="#bfd6e6" stroke-width="0.5"/>
<path d="M1091.1 147.1 Q1088.9 133.0 1090.8 121.1" stroke="#c8d8e8" stroke-width="0.5"/>
<path d="M1100.4 49.5 Q1095.8 49.8 1091.0 49.9" stroke="#c8d8e8" stroke-width="0.5"/>
<path d="M1162.9 133.3 Q1157.1 120.0 1157.9 116.4" stroke="#b9c4b4" stroke-width="0.5"/>
<rect x="1220.1" y="63.5" width="8.3" height="4.0" fill="#dfe8d0" opacity="0.7"/>
<rect x="1131.6" y="110.3" width="4.8" height="4.6" fill="#e3ead6" opacity="0.7"/>
<rect x="1143.4" y="108.8" width="7.7" height="5.2" fill="#e9eee0" opacity="0.7"/>
<rect x="1097.6" y="160.1" width="4.2" height="2.5" fill="#fafafa" opacity="0.7"/>
<rect x="1220.5" y="60.5" width="4.5" height="5.2" fill="#e3ead6" opacity="0.7"/>
<rect x="1178.6" y="27.1" width="7.0" height="3.0" fill="#e3ead6" opacity="0.7"/>
<rect x="1120.4" y="140.7" width="3.8" height="6.9" fill="#e9eee0" opacity="0.7"/>
<rect x="1211.0" y="105.1" width="4.1" height="5.7" fill="#fafafa" opacity="0.7"/>
<rect x="1215.4" y="127.6" width="8.3" height="6.0" fill="#fafafa" opacity="0.7"/>
<rect x="1123.1" y="106.7" width="7.4" height="5.7" fill="#e9eee0" opacity="0.7"/>
<rect x="1228.0" y="48.1" width="8.3" height="2.2" fill="#e3ead6" opacity="0.7"/>
<rect x="1223.0" y="119.0" width="9.9" height="2.3" fill="#e9eee0" opacity="0.7"/>
<rect x="1187.1" y="116.9" width="8.9" height="2.5" fill="#fafafa" opacity="0.7"/>
<rect x="1200.7" y="79.4" width="7.2" height="4.5" fill="#e9eee0" opacity="0.7"/>
<rect x="1137.5" y="127.1" width="8.9" height="5.8" fill="#e3ead6" opacity="0.7"/>
<rect x="1111.3" y="74.7" width="5.1" height="3.8" fill="#fafafa" opacity="0.7"/>
<rect x="1221.2" y="118.1" width="5.7" height="4.7" fill="#e3ead6" opacity="0.7"/>
<rect x="1221.9" y="51.9" width="5.4" height="6.9" fill="#fafafa" opacity="0.7"/>
<rect x="1088.1" y="42.0" width="5.1" height="5.4" fill="#e9eee0" opacity="0.7"/>
<rect x="1221.1" y="93.6" width="3.3" height="3.5" fill="#dfe8d0" opacity="0.7"/>
<rect x="1108.7" y="161.4" width="7.3" height="3.8" fill="#e3ead6" opacity="0.7"/>
<rect x="1149.7" y="44.5" width="3.2" height="5.9" fill="#dfe8d0" opacity="0.7"/>
<rect x="1115.7" y="70.9" width="7.2" height="2.3" fill="#e3ead6" opacity="0.7"/>
<rect x="1154.8" y="158.4" width="6.7" height="2.9" fill="#fafafa" opacity="0.7"/>
<rect x="1172.0" y="107.5" width="8.1" height="2.1" fill="#dfe8d0" opacity="0.7"/>
<rect x="1118.5" y="105.6" width="7.4" height="2.7" fill="#e9eee0" opacity="0.7"/>
<rect x="1118.9" y="126.6" width="6.8" height="3.9" fill="#e9eee0" opacity="0.7"/>
<rect x="1219.6" y="139.8" width="7.6" height="4.9" fill="#e9eee0" opacity="0.7"/>
<rect x="1122.4" y="71.6" width="6.8" height="4.7" fill="#e9eee0" opacity="0.7"/>
<rect x="1167.7" y="142.1" width="6.5" height="6.1" fill="#e3ead6" opacity="0.7"/>
<rect x="1213.0" y="107.0" width="9.9" height="2.7" fill="#fafafa" opacity="0.7"/>
<rect x="1171.5" y="33.0" width="8.7" height="6.4" fill="#e3ead6" opacity="0.7"/>
<rect x="1187.8" y="32.4" width="8.9" height="2.7" fill="#fafafa" opacity="0.7"/>
<rect x="1123.2" y="33.8" width="6.3" height="6.3" fill="#fafafa" opacity="0.7"/>
<rect x="1178.2" y="129.4" width="6.7" height="5.8" fill="#e3ead6" opacity="0.7"/>
<rect x="1213.8" y="65.1" width="5.9" height="2.0" fill="#e9eee0" opacity="0.7"/>
<rect x="1095.4" y="84.9" width="3.6" height="4.1" fill="#e3ead6" opacity="0.7"/>
<rect x="1126.1" y="141.0" width="9.7" height="6.1" fill="#fafafa" opacity="0.7"/>
<rect x="1188.7" y="127.5" width="3.6" height="2.5" fill="#e3ead6" opacity="0.7"/>
<rect x="1223.6" y="96.7" width="6.7" height="2.3" fill="#e9eee0" opacity="0.7"/>
</g>
<g fill="none" stroke="#c9d6dc" stroke-width="0.5">
<polyline points="1084.1,54.8 1128.0,76.8 1164.5,102.4 1228.5,117.0"/>
<polyline points="1014.6,146.3 1054.8,128.0 1095.1,102.4"/>
<polyline points="1109.7,26.5 1117.0,54.8 1138.9,95.1 1149.9,161.8"/>
<polyline points="1201.1,26.5 1210.2,73.1 1228.5,95.1"/>
<polyline points="1084.1,36.6 1113.3,40.2 1138.9,60.3"/>
</g>
<polyline points="1014.6,160.9 1054.8,128.0 1087.8,91.4 1117.0,64.0 1138.9,43.9 1151.7,26.5" fill="none" stroke="#d9a6b8" stroke-width="0.7"/>
<polyline points="1151.7,26.5 1159.0,45.7 1168.2,80.4 1170.0,109.7 1168.2,161.8" fill="none" stroke="#d9a6b8" stroke-width="0.7"/>
<polygon points="1160.0,46.6 1167.3,41.1 1172.8,42.0 1175.5,36.6 1181.0,33.8 1182.8,36.6 1178.2,41.1 1180.1,47.5 1176.4,50.3 1171.8,45.7 1165.4,46.6 1161.8,48.4" fill="#55b233"/>
<polygon points="1154.5,119.7 1157.2,111.5 1160.9,109.7 1163.6,114.3 1160.9,118.8 1156.3,121.0" fill="#55b233"/>
<polygon points="1140.8,109.7 1146.3,106.0 1149.9,106.9 1144.4,110.6" fill="#55b233"/>
<polygon points="1106.0,125.2 1109.7,123.4 1109.7,127.1 1106.9,128.0" fill="#55b233"/>
<polygon points="1090.5,109.7 1095.1,105.1 1098.7,106.0 1095.1,111.5 1096.0,117.0 1091.4,118.8" fill="#55b233"/>
<polygon points="1166.4,87.8 1168.6,88.7 1168.2,95.1 1166.0,94.1" fill="#55b233"/>
<polygon points="1160.0,78.6 1163.6,79.0 1162.7,80.8 1160.1,80.4" fill="#55b233"/>
<polygon points="1140.8,94.1 1143.5,95.1 1144.4,99.6 1142.2,98.7" fill="#55b233"/>
<polyline points="1138.9,118.8 1146.3,126.1 1153.6,118.8" fill="none" stroke="#55b233" stroke-width="0.9" stroke-dasharray="2 1"/>
<polyline points="1130.7,125.2 1136.2,118.8" fill="none" stroke="#a05ad0" stroke-width="1"/>
<polyline points="1089.6,118.8 1096.0,118.8" fill="none" stroke="#a05ad0" stroke-width="1"/>
<polyline points="1152.7,26.5 1155.4,41.1 1144.4,49.4 1130.7,60.3 1128.0,71.3 1109.7,85.9 1100.5,98.7 1084.1,109.7 1080.4,124.3 1081.4,144.4 1091.4,157.2 1098.7,161.8" fill="none" stroke="#2a2a2a" stroke-width="0.8"/>
<polyline points="1155.4,41.1 1160.9,34.7 1164.5,26.5" fill="none" stroke="#2a2a2a" stroke-width="0.8"/>
<polyline points="1186.5,26.5 1184.6,36.6 1181.0,62.2 1191.0,76.8 1186.5,95.1 1193.8,113.3 1190.1,135.3 1197.4,144.4 1213.9,151.7 1224.9,157.2 1230.0,160.9" fill="none" stroke="#2a2a2a" stroke-width="0.8"/>
<rect x="1014.3" y="26.7" width="69.5" height="79.0" fill="#fff" stroke="#9a9a9a" stroke-width="0.5"/>
<text x="1015.7" y="31.4" font-size="3.3" style="fill:#222;font-weight:bold">Legend</text>
<rect x="1015.4" y="35.1" width="9" height="4" fill="#fff" stroke="#222" stroke-width="0.5"/>
<text x="1026.1" y="38.6" font-size="2.6" style="fill:#555;font-weight:normal">Eddleston Watershed Boundary</text>
<text x="1015.7" y="44.8" font-size="3.3" style="fill:#222;font-weight:bold">Monitoring Sites</text>
<circle cx="1020.1" cy="49.5" r="0.5" fill="#d8d040"/>
<text x="1026.1" y="50.6" font-size="2.6" style="fill:#444;font-weight:normal">Stream Gage Recorder</text>
<circle cx="1020.1" cy="55.5" r="0.5" fill="#e04040"/>
<text x="1026.1" y="56.6" font-size="2.6" style="fill:#444;font-weight:normal">Tipping Bucket Raingauge</text>
<circle cx="1020.1" cy="61.4" r="0.5" fill="#e08080"/>
<text x="1026.1" y="62.5" font-size="2.6" style="fill:#444;font-weight:normal">SEPA Hydrometric Monitoring Stations</text>
<circle cx="1020.1" cy="67.4" r="0.5" fill="#c060c0"/>
<text x="1026.1" y="68.5" font-size="2.6" style="fill:#444;font-weight:normal">Forestry Commission Monitoring Stations</text>
<text x="1015.7" y="74.6" font-size="3.3" style="fill:#222;font-weight:bold">Completed Projects</text>
<rect x="1015.4" y="77.5" width="9" height="4.4" fill="#fff" stroke="#b050d0" stroke-width="0.5"/>
<text x="1026.1" y="80.8" font-size="2.6" style="fill:#444;font-weight:normal">Interventions</text>
<rect x="1015.4" y="83.5" width="9" height="4.4" fill="#e6e6e6" stroke="none" stroke-width="0.5"/>
<text x="1026.1" y="86.7" font-size="2.6" style="fill:#444;font-weight:normal">Leadburn Community Woodland</text>
<rect x="1015.4" y="89.4" width="9" height="4.4" fill="#55b233" stroke="none" stroke-width="0.5"/>
<text x="1026.1" y="92.7" font-size="2.6" style="fill:#444;font-weight:normal">Native Tree Planting</text>
<rect x="1015.4" y="95.3" width="9" height="4.4" fill="#9fd3ee" stroke="none" stroke-width="0.5"/>
<text x="1026.1" y="98.6" font-size="2.6" style="fill:#444;font-weight:normal">Pond</text>
<rect x="1015.4" y="101.3" width="9" height="4.4" fill="#2a68b0" stroke="none" stroke-width="0.5"/>
<text x="1026.1" y="104.6" font-size="2.6" style="fill:#444;font-weight:normal">Re-Meandering Works</text>
<rect x="1014.3" y="105.9" width="69.5" height="1" fill="#fff"/>
<text x="1014.3" y="21.8" font-size="9.2" style="fill:#111" textLength="99.5" lengthAdjust="spacingAndGlyphs">Eddleston Water Project</text>
<polygon points="1220.8,30.2 1225.2,35.6 1222.9,35.6 1222.9,43.9 1218.8,43.9 1218.8,35.6 1216.5,35.6" fill="#111"/>
<rect x="1220.3" y="11.3" width="6" height="4" fill="#2b6f8f"/><rect x="1223.9" y="11.3" width="5" height="5" fill="#7ab648"/>
<rect x="1220.8" y="19.2" width="8" height="1.2" fill="#5b8fae"/><rect x="1220.8" y="22.3" width="8" height="1.2" fill="#5b8fae"/>
</g>
<circle cx="1390.7" cy="-59.5" r="171.05" fill="none" stroke="#b3f1ff" stroke-width="14.5"/>
<g fill="#fff">
<path d="M1347 0 L1388.6 0 L1388.6 60 C1388.6 65 1380 67 1367.8 67 C1355 67 1347 65 1347 60 Z"/>
<rect x="1388.6" y="0" width="11" height="25"/>
<circle cx="1368" cy="-7" r="26.6"/>
</g>
<circle cx="1368" cy="-7" r="22.5" fill="none" stroke="#79b2dd" stroke-width="0.8"/>
<circle cx="1368" cy="-7" r="18.5" fill="#79b2dd"/><circle cx="1368" cy="-7" r="16" fill="none" stroke="#fff" stroke-width="1"/>
<circle cx="1359.0" cy="57" r="2" fill="#79b2dd"/>
<circle cx="1368.0" cy="57" r="2" fill="#79b2dd"/>
<circle cx="1376.6" cy="57" r="2" fill="#79b2dd"/>
<path d="M1399.7 0 L1466.7 0 L1466.7 24 Q1466.7 30 1460 30 L1399.7 30Z" fill="#fff"/>
<rect x="1403" y="0" width="56.7" height="26.7" fill="#6f7f2e"/>
<path d="M1417 0 C1420 8 1430 6 1436 14 C1440 20 1432 24 1425 26.7 L1412 26.7 C1416 18 1410 8 1412 0Z" fill="#8f918c"/>
<path d="M1436 0 L1459.7 0 L1459.7 20 C1450 16 1442 10 1436 0Z" fill="#8aa03a"/>
<rect x="1409.5" y="0" width="5.5" height="14" fill="#3a2f3a"/><rect x="1410" y="13" width="2" height="9" fill="#c99a80"/><rect x="1413" y="13" width="2" height="9" fill="#c99a80"/>
<rect x="1403" y="25" width="56.7" height="1.7" fill="#111"/>
<rect x="1427" y="5.5" width="9.5" height="6.5" rx="1.2" fill="#222"/><polygon points="1430.5,7 1433.5,8.7 1430.5,10.4" fill="#fff"/>
<linearGradient id="arw" gradientUnits="userSpaceOnUse" x1="0" y1="150" x2="0" y2="350"><stop offset="0" stop-color="#fff" stop-opacity="0.97"/><stop offset="0.35" stop-color="#fff" stop-opacity="0.6"/><stop offset="1" stop-color="#fff" stop-opacity="0"/></linearGradient>
<linearGradient id="arh" gradientUnits="userSpaceOnUse" x1="0" y1="122" x2="0" y2="190"><stop offset="0" stop-color="#fff"/><stop offset="1" stop-color="#e4ecf6"/></linearGradient>
<path d="M1351 166 C1328 205 1324 250 1340 290 C1350 315 1368 338 1392 352" fill="none" stroke="url(#arw)" stroke-width="14" stroke-linecap="butt"/>
<polygon points="1384.9,122.6 1322.2,152.7 1344,162 1350,172 1356,172 1370.7,190.4" fill="url(#arh)"/>
<circle cx="1581" cy="357" r="189.5" fill="#33aea8"/>
<g fill="#20bcf2">
<path d="M530.7 731.5 L531.6 730.6 L532.7 729.4 L534.2 728.0 L535.8 726.4 L537.6 724.6 L539.4 722.6 L541.2 720.5 L542.9 718.1 L544.5 715.6 L545.8 713.0 L547.0 710.2 L548.0 707.3 L549.0 704.1 L549.9 700.9 L550.7 697.5 L551.4 694.0 L552.1 690.6 L552.7 687.1 L553.3 683.7 L553.8 680.4 L554.3 677.0 L554.6 673.5 L554.9 670.0 L555.2 666.4 L555.4 662.9 L555.5 659.5 L555.6 656.2 L555.7 653.0 L555.8 650.2 L555.8 647.5 L555.9 645.0 L555.8 642.8 L555.6 640.8 L555.4 639.0 L555.2 637.5 L555.1 636.3 L555.0 635.2 L555.1 634.3 L555.2 633.4 L555.5 632.2 L555.8 630.8 L556.2 629.4 L556.7 627.9 L557.3 626.3 L557.9 624.7 L558.6 623.0 L559.4 621.3 L560.2 619.4 L561.2 617.4 L562.2 615.4 L563.2 613.2 L564.3 610.8 L565.4 608.4 L566.7 606.0 L567.9 603.5 L569.3 601.0 L570.7 598.5 L572.1 596.0 L573.6 593.5 L575.1 591.1 L576.7 588.7 L578.4 586.2 L580.2 583.6 L582.1 581.0 L584.0 578.5 L586.0 575.9 L588.0 573.4 L590.0 571.0 L591.9 568.7 L593.8 566.5 L595.7 564.3 L597.5 562.3 L599.3 560.3 L601.1 558.3 L603.0 556.5 L604.8 554.6 L606.6 552.9 L608.5 551.2 L610.3 549.6 L612.1 548.0 L613.9 546.5 L615.6 545.1 L617.2 543.9 L618.7 542.7 L620.2 541.6 L621.8 540.5 L623.5 539.4 L625.3 538.3 L627.3 537.2 L629.6 536.0 L632.2 534.7 L635.0 533.4 L637.9 532.0 L641.0 530.6 L644.3 529.3 L647.5 527.9 L650.8 526.7 L654.1 525.5 L657.2 524.4 L660.3 523.4 L663.3 522.6 L666.5 521.8 L669.8 521.1 L673.1 520.5 L676.5 519.9 L679.8 519.3 L682.9 518.9 L685.9 518.5 L688.7 518.1 L691.2 517.7 L693.4 517.5 L695.1 517.3 L696.4 517.1 L697.5 517.1 L698.4 517.0 L699.4 517.0 L700.4 517.1 L701.7 517.1 L703.3 517.3 L705.3 517.4 L707.4 517.6 L709.8 517.9 L712.4 518.2 L715.2 518.5 L718.0 518.9 L720.9 519.3 L723.7 519.7 L726.5 520.2 L729.1 520.6 L731.6 521.1 L733.9 521.5 L736.1 522.0 L738.3 522.4 L740.3 522.9 L742.3 523.4 L744.3 523.8 L746.2 524.4 L748.2 524.9 L750.2 525.5 L752.2 526.1 L754.2 526.8 L756.3 527.5 L758.4 528.3 L760.4 529.0 L762.5 529.9 L764.5 530.7 L766.6 531.6 L768.6 532.5 L770.7 533.4 L772.8 534.4 L774.8 535.4 L776.9 536.4 L779.0 537.5 L781.0 538.6 L783.1 539.7 L785.2 540.9 L787.3 542.1 L789.4 543.3 L791.4 544.6 L793.5 545.9 L795.6 547.2 L797.7 548.5 L799.8 549.9 L801.9 551.3 L804.0 552.8 L806.1 554.2 L808.1 555.7 L810.2 557.3 L812.3 558.8 L814.4 560.4 L816.5 562.1 L818.6 563.7 L820.7 565.5 L822.8 567.2 L824.9 569.0 L827.0 570.8 L829.1 572.7 L831.2 574.6 L833.3 576.5 L835.5 578.4 L837.6 580.3 L839.7 582.2 L841.8 584.2 L843.9 586.2 L846.1 588.3 L848.2 590.3 L850.3 592.4 L852.5 594.5 L854.7 596.6 L856.8 598.6 L858.9 600.7 L861.1 602.7 L863.2 604.8 L865.4 606.9 L867.5 609.0 L869.7 611.1 L871.9 613.2 L874.1 615.3 L876.3 617.3 L878.5 619.3 L880.8 621.3 L883.0 623.1 L885.2 625.0 L887.4 626.8 L889.6 628.6 L891.8 630.3 L894.0 632.0 L896.2 633.7 L898.4 635.4 L900.6 637.0 L902.8 638.6 L905.0 640.1 L907.2 641.6 L909.4 643.1 L911.7 644.6 L913.9 646.0 L916.1 647.4 L918.4 648.8 L920.6 650.1 L922.9 651.4 L925.2 652.6 L927.4 653.8 L929.7 654.9 L931.9 655.9 L934.2 657.0 L936.4 657.9 L938.7 658.9 L940.9 659.8 L943.1 660.7 L945.4 661.5 L947.6 662.3 L949.9 663.1 L952.1 663.9 L954.4 664.6 L956.6 665.3 L958.9 666.0 L961.2 666.6 L963.4 667.2 L965.7 667.8 L968.0 668.3 L970.2 668.8 L972.5 669.3 L974.7 669.7 L977.0 670.1 L979.2 670.4 L981.4 670.7 L983.7 671.0 L985.9 671.2 L988.1 671.5 L990.4 671.7 L992.5 671.9 L994.7 672.0 L996.8 672.2 L999.0 672.3 L1001.2 672.4 L1003.5 672.4 L1005.8 672.4 L1008.2 672.4 L1010.6 672.2 L1013.2 672.1 L1015.9 671.8 L1018.7 671.5 L1021.5 671.2 L1024.5 670.8 L1027.5 670.3 L1030.4 669.9 L1033.4 669.3 L1036.2 668.8 L1039.0 668.3 L1041.6 667.7 L1044.1 667.2 L1046.5 666.6 L1048.8 666.0 L1051.1 665.4 L1053.3 664.7 L1055.5 664.0 L1057.6 663.3 L1059.8 662.6 L1061.9 661.8 L1064.1 661.0 L1066.3 660.2 L1068.5 659.3 L1070.8 658.5 L1073.0 657.5 L1075.3 656.6 L1077.5 655.5 L1079.8 654.5 L1082.1 653.3 L1084.4 652.1 L1086.7 650.8 L1089.0 649.5 L1091.3 648.1 L1093.5 646.6 L1095.8 645.1 L1098.1 643.6 L1100.3 641.9 L1102.6 640.3 L1104.8 638.6 L1107.0 636.8 L1109.3 635.0 L1111.6 633.0 L1113.9 630.9 L1116.2 628.7 L1118.4 626.5 L1120.6 624.4 L1122.7 622.2 L1124.8 620.1 L1126.9 618.1 L1128.9 616.3 L1130.9 614.5 L1133.0 612.7 L1135.1 610.9 L1137.2 609.2 L1139.3 607.5 L1141.3 605.8 L1143.4 604.3 L1145.4 602.9 L1147.3 601.6 L1149.2 600.4 L1151.1 599.3 L1152.9 598.4 L1154.8 597.5 L1156.7 596.7 L1158.7 596.0 L1160.7 595.4 L1162.7 594.8 L1164.7 594.3 L1166.7 593.8 L1168.6 593.3 L1170.5 592.9 L1172.2 592.6 L1173.8 592.4 L1175.3 592.2 L1176.8 592.0 L1178.2 591.9 L1179.7 591.9 L1181.2 591.9 L1182.7 591.9 L1184.3 591.9 L1185.9 592.0 L1187.6 592.1 L1189.2 592.1 L1190.8 592.2 L1192.3 592.4 L1193.8 592.5 L1195.2 592.7 L1196.7 593.0 L1198.2 593.3 L1199.7 593.6 L1201.2 594.1 L1202.9 594.6 L1204.6 595.2 L1206.4 595.9 L1208.2 596.6 L1210.0 597.4 L1211.8 598.3 L1213.6 599.2 L1215.3 600.1 L1217.0 601.1 L1218.7 602.2 L1220.2 603.2 L1221.8 604.4 L1223.4 605.7 L1225.0 607.1 L1226.6 608.5 L1228.3 610.0 L1229.9 611.5 L1231.5 613.1 L1233.1 614.7 L1234.6 616.2 L1236.1 617.7 L1237.4 619.2 L1238.7 620.8 L1240.0 622.4 L1241.4 624.1 L1242.8 625.8 L1244.4 627.7 L1246.0 629.6 L1247.8 631.5 L1249.7 633.5 L1251.6 635.4 L1253.7 637.4 L1255.8 639.5 L1258.1 641.6 L1260.4 643.7 L1262.7 645.8 L1265.1 647.8 L1267.4 649.8 L1269.8 651.7 L1272.1 653.5 L1274.4 655.2 L1276.6 656.8 L1278.9 658.3 L1281.2 659.7 L1283.5 661.1 L1285.7 662.4 L1288.0 663.7 L1290.2 664.9 L1292.5 666.1 L1294.8 667.2 L1297.1 668.2 L1299.4 669.2 L1301.7 670.2 L1304.0 671.1 L1306.3 671.9 L1308.6 672.7 L1311.0 673.5 L1313.3 674.1 L1315.6 674.8 L1318.0 675.3 L1320.3 675.8 L1322.7 676.2 L1325.0 676.6 L1327.3 676.9 L1329.6 677.1 L1331.9 677.3 L1334.2 677.4 L1336.4 677.5 L1338.7 677.6 L1340.9 677.6 L1343.1 677.6 L1345.4 677.6 L1347.7 677.6 L1350.0 677.5 L1352.3 677.3 L1354.6 677.2 L1356.9 677.0 L1359.2 676.7 L1361.6 676.4 L1363.9 676.0 L1366.3 675.5 L1368.6 675.0 L1371.0 674.5 L1373.4 673.8 L1375.7 673.2 L1378.0 672.5 L1380.3 671.8 L1382.5 671.1 L1384.6 670.4 L1386.6 669.6 L1388.5 668.9 L1390.3 668.2 L1392.0 667.5 L1393.7 666.8 L1395.4 666.0 L1397.1 665.2 L1398.7 664.4 L1400.4 663.4 L1402.1 662.5 L1403.8 661.5 L1405.4 660.5 L1407.1 659.6 L1408.9 658.6 L1410.7 657.5 L1412.7 656.3 L1414.8 654.9 L1417.0 653.3 L1419.2 651.4 L1421.4 649.3 L1423.6 647.0 L1425.8 644.4 L1428.0 641.7 L1430.3 638.7 L1432.5 635.6 L1434.8 632.3 L1437.1 628.9 L1439.3 625.3 L1441.5 621.8 L1443.6 618.2 L1445.6 614.6 L1447.5 610.9 L1449.5 607.2 L1451.4 603.4 L1453.2 599.5 L1455.0 595.5 L1456.8 591.4 L1458.4 587.3 L1459.9 583.2 L1461.3 579.1 L1462.5 575.0 L1463.5 570.9 L1464.3 566.9 L1465.0 562.9 L1465.5 558.9 L1465.9 555.0 L1466.3 551.1 L1466.5 547.2 L1466.8 543.3 L1467.0 539.4 L1467.2 535.4 L1467.4 531.2 L1467.5 526.9 L1467.5 522.6 L1467.5 518.3 L1467.4 514.1 L1467.3 509.8 L1467.3 505.7 L1467.4 501.6 L1467.5 497.5 L1467.7 493.6 L1468.1 489.5 L1468.5 485.4 L1468.9 481.4 L1469.4 477.3 L1470.0 473.3 L1470.6 469.4 L1471.2 465.4 L1472.0 461.5 L1472.8 457.7 L1473.8 454.0 L1474.8 450.2 L1475.9 446.4 L1477.1 442.7 L1478.4 438.9 L1479.8 435.1 L1481.2 431.4 L1482.7 427.8 L1484.2 424.2 L1485.8 420.7 L1487.3 417.3 L1488.7 414.1 L1490.2 411.1 L1491.7 408.2 L1493.2 405.4 L1494.7 402.6 L1496.4 399.9 L1498.0 397.1 L1499.8 394.2 L1501.6 391.2 L1503.5 388.2 L1505.5 384.9 L1507.6 381.7 L1509.7 378.3 L1511.9 374.9 L1514.1 371.6 L1516.4 368.2 L1518.7 364.9 L1521.0 361.7 L1523.3 358.6 L1525.6 355.6 L1528.0 352.7 L1530.3 350.0 L1532.7 347.3 L1535.1 344.7 L1537.5 342.2 L1540.0 339.6 L1542.6 337.0 L1545.3 334.4 L1548.0 331.8 L1550.8 329.1 L1553.7 326.3 L1556.7 323.5 L1559.8 320.6 L1563.0 317.7 L1566.2 314.8 L1569.4 312.0 L1572.6 309.2 L1575.8 306.4 L1579.0 303.8 L1582.1 301.3 L1585.2 298.9 L1588.3 296.6 L1591.3 294.3 L1594.2 292.1 L1597.1 290.0 L1600.1 288.0 L1603.2 286.0 L1606.3 284.1 L1609.6 282.1 L1613.0 280.3 L1616.6 278.4 L1620.4 276.6 L1624.3 274.8 L1628.2 273.1 L1632.3 271.4 L1636.5 269.8 L1640.8 268.1 L1645.1 266.5 L1649.5 265.0 L1654.0 263.5 L1658.7 262.0 L1663.6 260.5 L1668.6 259.1 L1673.8 257.6 L1678.9 256.3 L1684.1 254.9 L1689.2 253.7 L1694.1 252.6 L1698.9 251.5 L1703.3 250.6 L1707.5 249.8 L1711.4 249.2 L1715.3 248.6 L1719.0 248.2 L1722.6 247.8 L1726.2 247.5 L1729.8 247.2 L1733.3 246.9 L1737.0 246.6 L1740.6 246.2 L1744.4 245.9 L1748.3 245.6 L1752.3 245.3 L1756.4 245.0 L1760.3 244.7 L1764.1 244.5 L1767.6 244.2 L1770.7 244.0 L1773.4 243.9 L1775.5 243.7 L1774.5 230.3 L1772.5 230.4 L1769.9 230.6 L1766.7 230.8 L1763.2 231.0 L1759.4 231.2 L1755.4 231.5 L1751.3 231.8 L1747.2 232.1 L1743.2 232.4 L1739.4 232.8 L1735.8 233.1 L1732.2 233.4 L1728.6 233.7 L1725.0 234.0 L1721.3 234.4 L1717.4 234.8 L1713.5 235.2 L1709.4 235.8 L1705.1 236.5 L1700.7 237.4 L1696.0 238.4 L1691.1 239.5 L1686.1 240.7 L1680.8 242.1 L1675.6 243.5 L1670.2 244.9 L1665.0 246.4 L1659.8 248.0 L1654.8 249.5 L1650.0 251.1 L1645.3 252.7 L1640.7 254.3 L1636.2 255.9 L1631.8 257.6 L1627.4 259.4 L1623.2 261.1 L1619.0 263.0 L1614.9 264.8 L1610.9 266.8 L1607.0 268.7 L1603.2 270.7 L1599.6 272.8 L1596.2 274.9 L1592.8 277.0 L1589.6 279.1 L1586.4 281.3 L1583.3 283.6 L1580.2 285.9 L1577.1 288.2 L1573.9 290.7 L1570.5 293.3 L1567.2 296.0 L1563.8 298.7 L1560.4 301.6 L1557.1 304.5 L1553.8 307.4 L1550.5 310.4 L1547.3 313.3 L1544.2 316.1 L1541.2 318.9 L1538.3 321.6 L1535.5 324.3 L1532.7 326.9 L1530.0 329.6 L1527.3 332.2 L1524.7 334.9 L1522.1 337.6 L1519.5 340.5 L1517.0 343.4 L1514.4 346.4 L1511.8 349.6 L1509.2 352.9 L1506.7 356.2 L1504.2 359.6 L1501.8 363.1 L1499.4 366.5 L1497.0 370.0 L1494.7 373.3 L1492.6 376.6 L1490.5 379.8 L1488.5 382.9 L1486.6 385.9 L1484.7 388.9 L1482.9 391.8 L1481.1 394.7 L1479.4 397.7 L1477.7 400.8 L1476.0 403.9 L1474.4 407.2 L1472.7 410.7 L1471.1 414.2 L1469.5 417.9 L1467.9 421.7 L1466.4 425.5 L1464.8 429.5 L1463.3 433.5 L1461.9 437.6 L1460.6 441.7 L1459.4 445.9 L1458.2 450.0 L1457.3 454.2 L1456.4 458.4 L1455.6 462.7 L1455.0 466.9 L1454.4 471.2 L1453.8 475.4 L1453.4 479.7 L1453.0 483.9 L1452.6 488.2 L1452.3 492.4 L1452.0 496.8 L1451.9 501.2 L1451.8 505.6 L1451.8 510.0 L1451.9 514.3 L1452.0 518.5 L1452.0 522.7 L1452.0 526.8 L1451.9 530.7 L1451.8 534.6 L1451.5 538.5 L1451.3 542.4 L1451.1 546.2 L1450.8 549.9 L1450.5 553.5 L1450.1 557.1 L1449.7 560.6 L1449.1 564.1 L1448.4 567.5 L1447.5 571.0 L1446.5 574.6 L1445.3 578.2 L1444.0 581.9 L1442.6 585.7 L1441.0 589.4 L1439.4 593.2 L1437.7 596.8 L1435.9 600.5 L1434.2 604.0 L1432.4 607.4 L1430.6 610.8 L1428.6 614.1 L1426.6 617.4 L1424.5 620.7 L1422.4 623.8 L1420.3 626.9 L1418.2 629.8 L1416.2 632.4 L1414.2 634.9 L1412.4 637.0 L1410.8 638.8 L1409.2 640.2 L1407.7 641.5 L1406.2 642.6 L1404.6 643.7 L1403.1 644.6 L1401.5 645.5 L1399.8 646.5 L1398.0 647.5 L1396.2 648.5 L1394.6 649.5 L1393.1 650.3 L1391.7 651.1 L1390.4 651.8 L1389.0 652.5 L1387.6 653.1 L1386.2 653.7 L1384.7 654.3 L1383.2 654.9 L1381.4 655.6 L1379.6 656.2 L1377.7 656.9 L1375.7 657.5 L1373.6 658.2 L1371.6 658.8 L1369.5 659.4 L1367.4 659.9 L1365.3 660.4 L1363.3 660.8 L1361.3 661.2 L1359.3 661.5 L1357.3 661.8 L1355.4 662.0 L1353.3 662.2 L1351.3 662.4 L1349.3 662.5 L1347.3 662.6 L1345.2 662.6 L1343.2 662.6 L1341.1 662.6 L1339.0 662.6 L1337.0 662.5 L1334.9 662.4 L1332.9 662.3 L1331.0 662.1 L1329.0 662.0 L1327.0 661.7 L1325.1 661.4 L1323.2 661.1 L1321.2 660.7 L1319.3 660.2 L1317.3 659.7 L1315.3 659.1 L1313.3 658.5 L1311.3 657.8 L1309.3 657.1 L1307.3 656.3 L1305.3 655.4 L1303.2 654.6 L1301.2 653.6 L1299.2 652.6 L1297.2 651.6 L1295.2 650.5 L1293.2 649.4 L1291.1 648.2 L1289.1 647.0 L1287.1 645.7 L1285.1 644.4 L1283.1 643.0 L1281.1 641.5 L1279.1 639.9 L1277.0 638.2 L1274.8 636.4 L1272.6 634.5 L1270.4 632.6 L1268.3 630.6 L1266.2 628.6 L1264.1 626.6 L1262.1 624.7 L1260.3 622.9 L1258.7 621.3 L1257.2 619.6 L1255.8 618.0 L1254.4 616.3 L1253.1 614.6 L1251.7 612.9 L1250.2 611.1 L1248.7 609.3 L1247.1 607.5 L1245.4 605.8 L1243.7 604.1 L1242.0 602.4 L1240.3 600.7 L1238.5 599.0 L1236.7 597.4 L1234.9 595.7 L1233.0 594.1 L1231.0 592.6 L1229.0 591.1 L1226.9 589.6 L1224.8 588.3 L1222.7 587.1 L1220.6 585.9 L1218.4 584.8 L1216.2 583.8 L1214.0 582.8 L1211.9 581.9 L1209.8 581.1 L1207.7 580.4 L1205.6 579.7 L1203.5 579.1 L1201.5 578.6 L1199.5 578.2 L1197.5 577.9 L1195.6 577.6 L1193.7 577.4 L1191.8 577.3 L1190.0 577.2 L1188.2 577.1 L1186.5 577.0 L1184.7 576.9 L1183.0 576.9 L1181.2 576.9 L1179.4 576.9 L1177.5 577.0 L1175.6 577.1 L1173.7 577.3 L1171.7 577.5 L1169.6 577.8 L1167.5 578.3 L1165.4 578.7 L1163.3 579.2 L1161.0 579.7 L1158.7 580.3 L1156.3 581.0 L1153.9 581.8 L1151.4 582.7 L1148.9 583.7 L1146.4 584.8 L1143.9 586.1 L1141.5 587.5 L1139.1 589.0 L1136.7 590.6 L1134.4 592.3 L1132.2 594.0 L1129.9 595.8 L1127.7 597.6 L1125.5 599.4 L1123.3 601.3 L1121.1 603.1 L1118.8 605.1 L1116.5 607.2 L1114.3 609.4 L1112.1 611.6 L1109.9 613.8 L1107.8 615.9 L1105.7 618.0 L1103.7 619.9 L1101.7 621.7 L1099.7 623.4 L1097.7 625.1 L1095.6 626.7 L1093.5 628.3 L1091.5 629.8 L1089.4 631.3 L1087.4 632.7 L1085.4 634.1 L1083.3 635.4 L1081.3 636.6 L1079.3 637.8 L1077.3 638.9 L1075.3 640.0 L1073.3 641.0 L1071.3 641.9 L1069.2 642.8 L1067.2 643.7 L1065.1 644.6 L1063.1 645.4 L1061.0 646.2 L1058.9 647.0 L1056.8 647.7 L1054.8 648.4 L1052.9 649.1 L1050.9 649.8 L1049.0 650.4 L1047.0 650.9 L1045.0 651.5 L1042.9 652.0 L1040.7 652.6 L1038.4 653.1 L1036.0 653.6 L1033.4 654.1 L1030.7 654.6 L1027.9 655.1 L1025.2 655.5 L1022.4 655.9 L1019.6 656.3 L1016.9 656.6 L1014.4 656.9 L1012.0 657.1 L1009.8 657.3 L1007.7 657.4 L1005.6 657.4 L1003.6 657.4 L1001.6 657.4 L999.7 657.3 L997.7 657.2 L995.7 657.1 L993.7 656.9 L991.6 656.7 L989.6 656.5 L987.5 656.3 L985.5 656.1 L983.4 655.8 L981.4 655.6 L979.4 655.2 L977.3 654.9 L975.3 654.5 L973.3 654.1 L971.2 653.7 L969.2 653.2 L967.2 652.7 L965.1 652.2 L963.0 651.6 L961.0 651.0 L958.9 650.3 L956.8 649.7 L954.8 649.0 L952.7 648.2 L950.6 647.5 L948.6 646.7 L946.5 645.9 L944.4 645.0 L942.4 644.2 L940.3 643.3 L938.3 642.3 L936.2 641.4 L934.2 640.4 L932.1 639.3 L930.1 638.2 L928.1 637.1 L926.0 635.9 L924.0 634.7 L921.9 633.4 L919.8 632.0 L917.8 630.7 L915.7 629.3 L913.6 627.8 L911.5 626.3 L909.4 624.8 L907.3 623.3 L905.2 621.7 L903.1 620.1 L901.0 618.5 L898.9 616.9 L896.8 615.2 L894.7 613.4 L892.6 611.7 L890.5 609.9 L888.5 608.1 L886.4 606.2 L884.3 604.3 L882.2 602.3 L880.1 600.3 L878.0 598.3 L875.8 596.2 L873.7 594.1 L871.5 592.0 L869.4 589.9 L867.2 587.8 L865.0 585.7 L862.9 583.7 L860.8 581.6 L858.6 579.5 L856.4 577.5 L854.3 575.4 L852.1 573.3 L849.9 571.3 L847.7 569.2 L845.5 567.2 L843.4 565.3 L841.2 563.3 L839.0 561.4 L836.8 559.5 L834.6 557.6 L832.4 555.8 L830.2 553.9 L828.0 552.1 L825.8 550.3 L823.6 548.6 L821.4 546.9 L819.2 545.2 L817.0 543.6 L814.7 542.0 L812.5 540.4 L810.3 538.9 L808.1 537.4 L805.9 536.0 L803.7 534.5 L801.5 533.1 L799.3 531.8 L797.0 530.4 L794.8 529.1 L792.6 527.8 L790.4 526.6 L788.2 525.4 L785.9 524.2 L783.7 523.0 L781.5 521.9 L779.2 520.8 L777.0 519.8 L774.8 518.8 L772.5 517.8 L770.3 516.8 L768.0 515.9 L765.8 515.0 L763.5 514.2 L761.3 513.4 L759.1 512.6 L756.8 511.9 L754.6 511.2 L752.4 510.5 L750.2 509.9 L748.0 509.3 L745.9 508.8 L743.7 508.3 L741.4 507.8 L739.2 507.3 L736.8 506.8 L734.4 506.3 L731.8 505.8 L729.1 505.3 L726.2 504.8 L723.2 504.3 L720.3 503.8 L717.3 503.4 L714.4 502.9 L711.7 502.6 L709.1 502.2 L706.7 502.0 L704.8 501.8 L703.1 501.6 L701.5 501.4 L700.0 501.3 L698.5 501.3 L697.0 501.3 L695.3 501.3 L693.6 501.4 L691.6 501.6 L689.4 501.9 L686.8 502.1 L683.9 502.5 L680.7 502.9 L677.4 503.3 L673.9 503.8 L670.3 504.4 L666.6 505.1 L662.9 505.8 L659.3 506.6 L655.7 507.6 L652.2 508.6 L648.6 509.8 L645.1 511.0 L641.5 512.4 L637.9 513.7 L634.5 515.2 L631.1 516.6 L627.9 518.0 L624.8 519.4 L622.0 520.8 L619.4 522.1 L616.9 523.4 L614.7 524.7 L612.5 526.0 L610.5 527.3 L608.5 528.7 L606.6 530.1 L604.8 531.5 L602.9 533.0 L600.9 534.6 L598.8 536.3 L596.8 538.1 L594.7 539.9 L592.6 541.8 L590.5 543.8 L588.4 545.9 L586.4 548.0 L584.3 550.2 L582.2 552.4 L580.2 554.7 L578.1 557.2 L576.1 559.7 L574.0 562.3 L571.9 565.1 L569.8 567.8 L567.8 570.6 L565.8 573.4 L563.9 576.3 L562.0 579.1 L560.3 581.9 L558.6 584.7 L557.1 587.6 L555.6 590.4 L554.2 593.3 L552.9 596.1 L551.6 598.9 L550.5 601.6 L549.4 604.3 L548.3 606.8 L547.4 609.2 L546.6 611.6 L545.9 613.9 L545.2 616.1 L544.6 618.3 L544.0 620.4 L543.6 622.5 L543.2 624.6 L542.9 626.7 L542.7 628.8 L542.5 631.0 L542.6 633.2 L542.8 635.2 L543.2 637.1 L543.7 638.7 L544.2 640.1 L544.6 641.5 L545.1 642.8 L545.5 644.2 L545.9 645.9 L546.2 647.9 L546.4 650.4 L546.6 653.2 L546.7 656.3 L546.9 659.5 L547.0 662.8 L547.1 666.2 L547.1 669.7 L547.1 673.1 L547.0 676.4 L546.8 679.6 L546.5 682.8 L546.2 686.2 L545.8 689.6 L545.3 693.0 L544.8 696.3 L544.2 699.6 L543.6 702.7 L542.9 705.7 L542.1 708.5 L541.2 711.0 L540.1 713.3 L538.8 715.4 L537.3 717.5 L535.7 719.5 L534.1 721.4 L532.4 723.1 L530.9 724.7 L529.5 726.1 L528.2 727.4 L527.3 728.5Z"/>
<circle cx="705.7" cy="509.7" r="14"/>
<circle cx="604.5" cy="537.5" r="9.5"/>
<circle cx="1594.4" cy="291.5" r="24.5"/>
<circle cx="1527.2" cy="373.4" r="31.5"/>
</g>
<g fill="#ffffff">
<polygon points="1449.8,343.7 1449.8,262.1 1458.9,262.1 1458.9,302.9 1477.2,289.3 1478.5,302.9 1497.0,289.3 1498.2,302.9 1517.0,289.3 1517.0,343.7 1509.6,343.7 1509.6,329.6 1501.7,329.6 1501.7,343.7"/>
<rect x="1455.5" y="320.2" width="6.4" height="6.4" fill="#33aea8"/>
<rect x="1465.9" y="320.2" width="6.4" height="6.4" fill="#33aea8"/>
<rect x="1476.2" y="320.2" width="6.4" height="6.4" fill="#33aea8"/>
<rect x="1486.4" y="320.2" width="6.4" height="6.4" fill="#33aea8"/>
<rect x="1455.5" y="330.9" width="6.4" height="6.4" fill="#33aea8"/>
<rect x="1465.9" y="330.9" width="6.4" height="6.4" fill="#33aea8"/>
<rect x="1476.2" y="330.9" width="6.4" height="6.4" fill="#33aea8"/>
<rect x="1486.4" y="330.9" width="6.4" height="6.4" fill="#33aea8"/>
<path d="M1454.0 259.2 C1456.0 251.0 1460.9 249.8 1464.6 250.3 S1472.5 249.8 1473.5 241.1" fill="none" stroke="#fff" stroke-width="3.2"/>
<rect x="1543.7" y="281.9" width="6.4" height="12.9"/><polygon points="1540.0,335.8 1540.0,304.7 1561.5,284.4 1583.8,305.4 1583.8,335.8"/><polyline points="1534.1,310.1 1561.5,284.9 1589.7,310.9" fill="none" stroke="#33aea8" stroke-width="3" stroke-linejoin="miter"/><polyline points="1534.1,306.9 1561.5,281.7 1589.7,307.6" fill="none" stroke="#fff" stroke-width="3.6" stroke-linejoin="miter"/><rect x="1565.5" y="314.1" width="11.6" height="22.3" fill="#33aea8"/><rect x="1546.2" y="314.1" width="11.1" height="10.6" fill="#22bdf2"/>
<rect x="1538.0" y="384.0" width="5.2" height="11.1"/><polygon points="1535.1,429.8 1535.1,403.6 1552.9,386.3 1572.7,404.1 1572.7,429.8"/><polyline points="1529.9,409.0 1552.9,386.8 1577.6,409.5" fill="none" stroke="#33aea8" stroke-width="3" stroke-linejoin="miter"/><polyline points="1529.9,405.8 1552.9,383.5 1577.6,406.3" fill="none" stroke="#fff" stroke-width="3.6" stroke-linejoin="miter"/><rect x="1556.1" y="411.7" width="10.6" height="18.5" fill="#33aea8"/><rect x="1540.5" y="411.7" width="9.4" height="9.1" fill="#33aea8"/>
<polygon points="1665.1,255.5 1718.3,255.5 1718.3,358.6 1704.9,358.6 1704.9,342.5 1679.0,342.5 1679.0,358.6 1665.1,358.6"/>
<rect x="1673.0" y="264.6" width="6.7" height="6.7" fill="#33aea8"/>
<rect x="1683.4" y="264.6" width="6.7" height="6.7" fill="#33aea8"/>
<rect x="1693.8" y="264.6" width="6.7" height="6.7" fill="#33aea8"/>
<rect x="1704.2" y="264.6" width="6.7" height="6.7" fill="#33aea8"/>
<rect x="1673.0" y="275.0" width="6.7" height="6.7" fill="#33aea8"/>
<rect x="1683.4" y="275.0" width="6.7" height="6.7" fill="#33aea8"/>
<rect x="1693.8" y="275.0" width="6.7" height="6.7" fill="#33aea8"/>
<rect x="1704.2" y="275.0" width="6.7" height="6.7" fill="#33aea8"/>
<rect x="1673.0" y="285.6" width="6.7" height="6.7" fill="#33aea8"/>
<rect x="1683.4" y="285.6" width="6.7" height="6.7" fill="#33aea8"/>
<rect x="1693.8" y="285.6" width="6.7" height="6.7" fill="#33aea8"/>
<rect x="1704.2" y="285.6" width="6.7" height="6.7" fill="#33aea8"/>
<rect x="1673.0" y="296.0" width="6.7" height="6.7" fill="#33aea8"/>
<rect x="1683.4" y="296.0" width="6.7" height="6.7" fill="#33aea8"/>
<rect x="1693.8" y="296.0" width="6.7" height="6.7" fill="#33aea8"/>
<rect x="1704.2" y="296.0" width="6.7" height="6.7" fill="#33aea8"/>
<rect x="1673.0" y="306.6" width="6.7" height="6.7" fill="#33aea8"/>
<rect x="1683.4" y="306.6" width="6.7" height="6.7" fill="#33aea8"/>
<rect x="1693.8" y="306.6" width="6.7" height="6.7" fill="#33aea8"/>
<rect x="1704.2" y="306.6" width="6.7" height="6.7" fill="#33aea8"/>
<rect x="1673.0" y="317.0" width="6.7" height="6.7" fill="#33aea8"/>
<rect x="1683.4" y="317.0" width="6.7" height="6.7" fill="#33aea8"/>
<rect x="1693.8" y="317.0" width="6.7" height="6.7" fill="#33aea8"/>
<rect x="1704.2" y="317.0" width="6.7" height="6.7" fill="#33aea8"/>
<rect x="1673.0" y="327.7" width="6.7" height="6.7" fill="#33aea8"/>
<rect x="1683.4" y="327.7" width="6.7" height="6.7" fill="#33aea8"/>
<rect x="1693.8" y="327.7" width="6.7" height="6.7" fill="#33aea8"/>
<rect x="1704.2" y="327.7" width="6.7" height="6.7" fill="#33aea8"/>
<polygon points="1623.6,319.0 1662.4,340.5 1585.3,340.5"/>
<rect x="1584.8" y="341.8" width="78.1" height="2.5"/>
<rect x="1586.3" y="345.2" width="75.2" height="3.0"/>
<rect x="1589.5" y="351.6" width="7.9" height="29.7"/>
<rect x="1588.2" y="349.7" width="10.4" height="2.0"/>
<rect x="1588.2" y="381.3" width="10.4" height="2.0"/>
<rect x="1609.8" y="351.6" width="7.9" height="29.7"/>
<rect x="1608.5" y="349.7" width="10.4" height="2.0"/>
<rect x="1608.5" y="381.3" width="10.4" height="2.0"/>
<rect x="1629.8" y="351.6" width="7.9" height="29.7"/>
<rect x="1628.5" y="349.7" width="10.4" height="2.0"/>
<rect x="1628.5" y="381.3" width="10.4" height="2.0"/>
<rect x="1650.1" y="351.6" width="7.9" height="29.7"/>
<rect x="1648.8" y="349.7" width="10.4" height="2.0"/>
<rect x="1648.8" y="381.3" width="10.4" height="2.0"/>
<rect x="1585.8" y="384.5" width="75.4" height="3.0"/>
<rect x="1583.3" y="388.5" width="80.4" height="3.0"/>
<rect x="1580.8" y="392.4" width="85.3" height="3.2"/>
<text x="1623.6" y="338.3" font-family="Liberation Serif" font-size="5.5" text-anchor="middle" style="fill:#33aea8;font-family:'Liberation Serif',serif">BANK</text>
<circle cx="1692.1" cy="379.1" r="4.2"/><rect x="1682.7" y="384.5" width="18.8" height="18.5" rx="2.2"/><rect x="1685.4" y="388.0" width="0.7" height="15.6" fill="#33aea8"/><rect x="1698.0" y="388.0" width="0.7" height="15.6" fill="#33aea8"/><rect x="1686.2" y="391.9" width="5.2" height="30.2"/><rect x="1692.8" y="391.9" width="5.2" height="30.2"/><rect x="1685.7" y="387.0" width="12.9" height="22.3"/>
<circle cx="1592.7" cy="403.1" r="4.6"/>
<polygon points="1588.2,408.5 1597.1,408.5 1600.6,414.2 1605.1,424.1 1602.6,425.3 1599.6,419.1 1603.1,430.8 1582.3,430.8 1585.8,419.1 1583.3,425.3 1580.8,424.1 1584.8,414.2"/>
<rect x="1588.2" y="430.8" width="3.7" height="14.8"/>
<rect x="1593.4" y="430.8" width="3.7" height="14.8"/>
<path d="M1615.9 427.8 L1615.4 420.4 C1617.9 417.9 1622.9 417.4 1627.8 415.9 C1635.2 411.7 1647.6 411.0 1657.5 417.9 L1671.1 419.9 C1676.0 420.9 1676.5 425.3 1674.8 428.3 L1615.9 428.8 Z"/>
<circle cx="1627.8" cy="427.1" r="4.4" fill="#33aea8"/>
<circle cx="1627.8" cy="427.1" r="3.4"/>
<circle cx="1627.8" cy="427.1" r="1.4" fill="#33aea8"/>
<circle cx="1666.6" cy="427.1" r="4.4" fill="#33aea8"/>
<circle cx="1666.6" cy="427.1" r="3.4"/>
<circle cx="1666.6" cy="427.1" r="1.4" fill="#33aea8"/>
<polygon points="1631.5,416.9 1637.2,413.5 1643.1,413.0 1643.1,417.2" fill="#33aea8"/>
<polygon points="1644.6,413.0 1649.6,413.5 1655.5,417.4 1644.6,417.2" fill="#33aea8"/>
</g>
<g fill="none" stroke="#fff" stroke-width="1.4">
<circle cx="1498.0" cy="438.9" r="9.6"/><circle cx="1530.1" cy="438.9" r="9.6"/>
<polyline points="1498.0,438.9 1508.6,425.3 1525.2,425.3 1512.8,438.9 1498.0,438.9"/>
<polyline points="1512.8,438.9 1507.1,421.6"/>
<polyline points="1530.1,438.9 1524.4,422.4 1528.9,421.6"/>
<polyline points="1503.7,421.1 1511.1,421.1" stroke-width="2"/>
</g>
<g fill="#20bcf2"><path d="M553.6 612.8 L552.0 611.5 L550.1 609.8 L547.7 607.8 L545.0 605.5 L542.1 603.0 L539.0 600.4 L535.7 597.7 L532.3 595.0 L528.9 592.1 L525.1 589.0 L521.1 585.8 L516.9 582.4 L512.7 579.1 L508.4 575.7 L504.1 572.5 L499.9 569.5 L495.8 566.6 L491.7 563.7 L487.6 560.9 L483.5 558.1 L479.3 555.5 L475.1 552.9 L470.9 550.5 L466.6 548.4 L462.4 546.4 L458.1 544.6 L453.9 543.0 L449.7 541.5 L445.5 540.2 L441.4 538.9 L437.3 537.8 L433.2 536.7 L429.1 535.6 L424.9 534.6 L420.8 533.6 L416.6 532.8 L412.5 532.1 L408.4 531.5 L404.3 531.0 L400.2 530.8 L396.2 530.7 L392.3 530.9 L388.5 531.2 L384.8 531.7 L381.1 532.2 L377.5 532.8 L374.0 533.4 L370.4 534.1 L366.7 534.7 L363.0 535.4 L359.3 536.2 L355.7 537.0 L352.0 537.9 L348.4 538.7 L344.8 539.5 L341.2 540.3 L337.6 541.1 L333.9 542.0 L330.3 542.8 L326.7 543.7 L323.1 544.5 L319.6 545.2 L316.0 545.9 L312.5 546.5 L308.8 547.1 L305.2 547.8 L301.6 548.4 L298.1 548.9 L294.6 549.3 L291.2 549.5 L287.8 549.5 L284.4 549.3 L280.9 548.7 L277.2 548.0 L273.5 547.0 L269.8 545.8 L266.1 544.5 L262.7 543.0 L259.4 541.5 L256.6 539.9 L254.0 538.3 L251.6 536.4 L249.4 534.4 L247.4 532.3 L245.5 530.0 L243.6 527.8 L241.9 525.5 L240.2 523.4 L238.7 521.3 L237.3 519.0 L236.0 516.6 L234.8 514.3 L233.7 512.0 L232.8 510.0 L231.9 508.2 L231.2 506.9 L226.8 509.1 L227.3 510.4 L228.1 512.1 L229.0 514.2 L230.1 516.5 L231.3 519.1 L232.6 521.6 L234.1 524.2 L235.8 526.6 L237.4 528.9 L239.2 531.2 L241.1 533.7 L243.1 536.1 L245.3 538.5 L247.8 540.9 L250.5 543.1 L253.4 545.1 L256.7 546.9 L260.1 548.6 L263.8 550.2 L267.7 551.7 L271.7 553.0 L275.7 554.1 L279.7 555.1 L283.6 555.7 L287.5 556.1 L291.3 556.1 L295.1 556.0 L298.9 555.6 L302.6 555.1 L306.3 554.6 L309.9 554.0 L313.5 553.5 L317.2 552.9 L320.9 552.2 L324.6 551.5 L328.3 550.8 L331.9 550.0 L335.6 549.2 L339.2 548.4 L342.8 547.7 L346.4 546.9 L350.1 546.2 L353.7 545.4 L357.3 544.6 L360.9 543.9 L364.5 543.2 L368.1 542.5 L371.6 541.9 L375.3 541.4 L378.8 540.8 L382.4 540.3 L385.8 539.8 L389.3 539.5 L392.8 539.2 L396.3 539.1 L399.8 539.2 L403.4 539.5 L407.2 540.0 L411.0 540.6 L414.9 541.4 L418.9 542.2 L422.8 543.2 L426.8 544.2 L430.8 545.3 L434.8 546.5 L438.8 547.7 L442.8 548.9 L446.7 550.2 L450.7 551.7 L454.6 553.3 L458.5 555.0 L462.4 556.8 L466.3 558.9 L470.2 561.2 L474.1 563.7 L478.1 566.3 L482.1 569.0 L486.1 571.8 L490.1 574.6 L494.1 577.5 L498.1 580.5 L502.2 583.7 L506.3 587.0 L510.5 590.4 L514.6 593.8 L518.5 597.0 L522.2 600.2 L525.7 603.0 L528.9 605.8 L532.1 608.5 L535.1 611.1 L538.0 613.7 L540.6 616.0 L542.9 618.0 L544.9 619.8 L546.4 621.2Z"/><circle cx="550.0" cy="617.0" r="5.5"/><circle cx="229.0" cy="508.0" r="2.5"/>
<path d="M229.6 509.2 L230.6 507.8 L231.9 506.0 L233.6 503.8 L235.4 501.4 L237.2 498.8 L239.0 496.1 L240.5 493.3 L241.7 490.7 L242.6 488.1 L243.4 485.5 L243.9 482.9 L244.4 480.3 L244.6 477.6 L244.8 475.0 L244.8 472.4 L244.7 469.9 L244.5 467.4 L244.1 464.9 L243.5 462.4 L242.9 459.9 L242.1 457.5 L241.3 455.3 L240.4 453.2 L239.4 451.2 L238.3 449.4 L237.1 447.7 L235.7 446.1 L234.3 444.8 L232.9 443.5 L231.7 442.5 L230.8 441.6 L230.1 440.9 L227.9 443.1 L228.7 443.8 L229.7 444.7 L230.8 445.8 L232.1 447.0 L233.4 448.3 L234.6 449.7 L235.7 451.2 L236.6 452.8 L237.4 454.5 L238.2 456.5 L238.9 458.6 L239.6 460.8 L240.2 463.2 L240.7 465.5 L241.1 467.8 L241.3 470.1 L241.3 472.4 L241.2 474.8 L241.1 477.3 L240.8 479.7 L240.3 482.2 L239.8 484.6 L239.1 487.0 L238.3 489.3 L237.2 491.6 L235.7 494.1 L234.0 496.6 L232.2 499.1 L230.5 501.5 L228.8 503.6 L227.4 505.4 L226.4 506.8Z"/><circle cx="228.0" cy="508.0" r="2.0"/><circle cx="229.0" cy="442.0" r="1.5"/>
<path d="M226.0 506.5 L224.4 506.6 L222.3 506.6 L219.8 506.6 L216.9 506.6 L213.9 506.7 L210.8 506.9 L207.7 507.2 L204.7 507.7 L201.9 508.3 L198.9 509.1 L195.9 510.0 L192.9 510.9 L189.9 512.0 L187.0 513.2 L184.1 514.5 L181.4 516.0 L178.7 517.7 L176.0 519.7 L173.4 521.9 L170.8 524.2 L168.5 526.4 L166.4 528.4 L164.7 530.0 L163.3 531.3 L164.7 532.7 L166.0 531.5 L167.8 529.9 L169.9 527.9 L172.3 525.8 L174.8 523.6 L177.4 521.5 L180.0 519.6 L182.6 518.0 L185.2 516.7 L187.9 515.5 L190.8 514.3 L193.7 513.3 L196.7 512.4 L199.6 511.6 L202.5 510.9 L205.3 510.3 L208.0 509.9 L211.0 509.6 L214.0 509.5 L217.0 509.4 L219.7 509.4 L222.3 509.5 L224.4 509.5 L226.0 509.5Z"/><circle cx="226.0" cy="508.0" r="1.5"/><circle cx="164.0" cy="532.0" r="1.0"/>
<path d="M227.3 512.3 L227.5 513.6 L228.0 515.3 L228.5 517.3 L229.0 519.5 L229.4 521.7 L229.7 523.9 L229.7 525.9 L229.5 527.6 L228.9 529.3 L228.2 531.1 L227.3 532.9 L226.2 534.6 L224.9 536.3 L223.5 537.9 L221.9 539.5 L220.2 540.8 L218.1 542.1 L215.5 543.3 L212.5 544.5 L209.5 545.6 L206.4 546.6 L203.7 547.5 L201.3 548.2 L199.6 548.8 L200.4 551.2 L202.1 550.6 L204.4 549.9 L207.2 549.1 L210.3 548.1 L213.5 547.1 L216.6 545.9 L219.4 544.6 L221.8 543.2 L223.8 541.6 L225.6 540.0 L227.2 538.2 L228.7 536.4 L229.9 534.4 L231.0 532.4 L231.9 530.4 L232.5 528.4 L232.9 526.1 L232.9 523.7 L232.7 521.2 L232.3 518.8 L231.8 516.5 L231.3 514.5 L230.9 512.9 L230.7 511.7Z"/><circle cx="229.0" cy="512.0" r="1.8"/><circle cx="200.0" cy="550.0" r="1.2"/>
<path d="M297.7 548.7 L297.5 547.6 L297.3 546.2 L296.9 544.4 L296.6 542.5 L296.2 540.6 L295.9 538.6 L295.7 536.7 L295.6 534.9 L295.5 533.3 L295.5 531.7 L295.5 530.2 L295.6 528.6 L295.7 527.1 L295.9 525.5 L296.1 523.9 L296.4 522.3 L296.7 520.5 L297.2 518.6 L297.8 516.6 L298.3 514.6 L298.9 512.7 L299.4 510.9 L299.9 509.5 L300.2 508.4 L297.8 507.6 L297.5 508.7 L297.0 510.1 L296.4 511.9 L295.8 513.8 L295.2 515.8 L294.6 517.9 L294.0 519.9 L293.6 521.7 L293.3 523.4 L293.0 525.1 L292.8 526.7 L292.6 528.4 L292.5 530.0 L292.4 531.7 L292.4 533.3 L292.4 535.1 L292.5 536.9 L292.7 539.0 L293.0 541.0 L293.3 543.1 L293.6 545.0 L293.9 546.8 L294.1 548.2 L294.3 549.3Z"/><circle cx="296.0" cy="549.0" r="1.8"/><circle cx="299.0" cy="508.0" r="1.2"/>
<path d="M322.5 477.7 L323.0 478.9 L323.8 480.4 L324.7 482.3 L325.7 484.3 L326.7 486.4 L327.8 488.6 L328.7 490.7 L329.5 492.6 L330.3 494.5 L331.0 496.3 L331.7 498.2 L332.4 500.1 L333.1 502.0 L333.6 503.8 L334.1 505.6 L334.6 507.3 L334.9 509.0 L335.2 510.7 L335.5 512.3 L335.6 513.9 L335.8 515.5 L335.8 517.0 L335.8 518.4 L335.7 519.8 L335.4 521.1 L335.0 522.5 L334.5 523.9 L333.9 525.3 L333.3 526.5 L332.7 527.7 L332.2 528.7 L331.9 529.5 L334.1 530.5 L334.5 529.8 L335.0 528.9 L335.6 527.7 L336.2 526.4 L336.9 524.9 L337.5 523.4 L338.0 521.8 L338.3 520.2 L338.5 518.6 L338.6 517.0 L338.6 515.4 L338.5 513.7 L338.3 512.0 L338.1 510.2 L337.8 508.5 L337.4 506.7 L337.0 504.9 L336.5 503.0 L336.0 501.1 L335.3 499.1 L334.6 497.2 L333.9 495.2 L333.2 493.3 L332.5 491.4 L331.6 489.4 L330.7 487.2 L329.7 485.0 L328.7 482.9 L327.7 480.8 L326.8 479.0 L326.1 477.4 L325.5 476.3Z"/><circle cx="324.0" cy="477.0" r="1.7"/><circle cx="333.0" cy="530.0" r="1.2"/>
<path d="M410.2 530.0 L409.4 529.2 L408.5 528.1 L407.4 526.7 L406.1 525.2 L404.8 523.7 L403.5 522.1 L402.2 520.5 L401.0 519.2 L399.9 517.9 L398.8 516.6 L397.7 515.4 L396.6 514.2 L395.5 513.0 L394.6 511.8 L393.8 510.7 L393.0 509.5 L392.4 508.2 L391.9 506.7 L391.4 505.2 L391.1 503.6 L390.7 502.2 L390.4 500.8 L390.2 499.6 L390.0 498.8 L388.0 499.2 L388.2 500.1 L388.4 501.2 L388.6 502.6 L388.9 504.1 L389.3 505.7 L389.8 507.4 L390.3 509.0 L391.0 510.5 L391.8 511.9 L392.7 513.3 L393.6 514.6 L394.7 515.8 L395.8 517.1 L396.8 518.3 L397.9 519.6 L399.0 520.8 L400.1 522.3 L401.3 523.8 L402.6 525.4 L403.9 527.0 L405.1 528.5 L406.2 529.9 L407.2 531.1 L407.8 532.0Z"/><circle cx="409.0" cy="531.0" r="1.5"/><circle cx="389.0" cy="499.0" r="1.0"/>
<path d="M410.2 530.8 L410.0 529.7 L409.7 528.4 L409.4 526.7 L409.0 524.9 L408.7 523.0 L408.4 521.2 L408.2 519.5 L408.1 518.0 L408.1 516.7 L408.2 515.4 L408.5 514.2 L408.7 513.1 L409.0 511.9 L409.3 510.7 L409.6 509.5 L409.9 508.2 L410.1 506.9 L410.4 505.4 L410.7 504.0 L410.9 502.5 L411.2 501.2 L411.4 500.0 L411.6 498.9 L411.7 498.1 L410.3 497.9 L410.1 498.6 L409.9 499.6 L409.6 500.9 L409.3 502.2 L409.0 503.6 L408.7 505.1 L408.4 506.5 L408.1 507.8 L407.8 509.0 L407.5 510.2 L407.1 511.4 L406.8 512.6 L406.5 513.8 L406.2 515.1 L406.0 516.5 L405.9 518.0 L406.0 519.7 L406.1 521.5 L406.4 523.4 L406.7 525.3 L407.1 527.2 L407.4 528.8 L407.6 530.2 L407.8 531.2Z"/><circle cx="409.0" cy="531.0" r="1.2"/><circle cx="411.0" cy="498.0" r="0.8"/>
<circle cx="409" cy="531.6" r="5"/>
<path d="M465.6 478.5 L464.7 479.4 L463.4 480.6 L461.8 482.0 L460.1 483.6 L458.3 485.3 L456.5 487.2 L454.8 489.0 L453.4 490.9 L452.2 492.7 L451.1 494.6 L450.0 496.6 L449.0 498.6 L448.1 500.7 L447.3 502.7 L446.7 504.6 L446.2 506.5 L445.8 508.4 L445.6 510.2 L445.5 511.9 L445.5 513.6 L445.6 515.3 L445.8 516.9 L446.0 518.6 L446.2 520.2 L446.4 522.0 L446.7 523.8 L447.1 525.7 L447.5 527.5 L447.9 529.4 L448.4 531.1 L448.8 532.9 L449.3 534.5 L449.8 536.1 L450.3 537.8 L450.9 539.4 L451.5 541.0 L452.1 542.5 L452.6 543.7 L453.0 544.8 L453.4 545.6 L456.6 544.4 L456.3 543.5 L455.9 542.4 L455.4 541.2 L454.8 539.7 L454.3 538.2 L453.7 536.6 L453.2 535.1 L452.7 533.5 L452.3 531.9 L451.9 530.2 L451.4 528.5 L451.0 526.7 L450.7 524.9 L450.3 523.2 L450.0 521.5 L449.8 519.8 L449.7 518.1 L449.5 516.5 L449.3 515.0 L449.2 513.5 L449.2 512.0 L449.3 510.5 L449.5 509.0 L449.8 507.5 L450.3 505.8 L450.9 504.0 L451.7 502.1 L452.5 500.2 L453.4 498.4 L454.4 496.5 L455.5 494.8 L456.6 493.1 L457.8 491.5 L459.4 489.9 L461.0 488.2 L462.8 486.5 L464.5 485.0 L466.1 483.6 L467.4 482.4 L468.4 481.5Z"/><circle cx="467.0" cy="480.0" r="2.0"/><circle cx="455.0" cy="545.0" r="1.8"/>
<path d="M500.7 531.1 L501.3 531.9 L502.2 532.9 L503.2 534.0 L504.3 535.3 L505.5 536.7 L506.6 538.1 L507.7 539.5 L508.6 540.9 L509.4 542.2 L510.2 543.6 L510.9 545.2 L511.6 546.7 L512.3 548.3 L513.0 549.9 L513.9 551.4 L514.8 552.8 L515.7 554.1 L516.6 555.3 L517.6 556.5 L518.6 557.6 L519.7 558.7 L520.9 559.6 L522.1 560.5 L523.4 561.2 L524.9 561.8 L526.5 562.3 L528.2 562.6 L529.8 562.8 L531.4 563.0 L532.8 563.1 L534.0 563.1 L534.8 563.2 L535.2 560.8 L534.3 560.6 L533.1 560.5 L531.7 560.4 L530.2 560.2 L528.6 560.0 L527.1 559.7 L525.8 559.3 L524.6 558.8 L523.6 558.2 L522.6 557.4 L521.7 556.6 L520.7 555.6 L519.8 554.6 L518.9 553.5 L518.1 552.4 L517.2 551.2 L516.5 549.9 L515.8 548.6 L515.1 547.1 L514.4 545.5 L513.8 543.9 L513.0 542.3 L512.2 540.7 L511.4 539.1 L510.4 537.6 L509.3 536.1 L508.1 534.6 L506.9 533.2 L505.8 531.8 L504.8 530.6 L504.0 529.6 L503.3 528.9Z"/><circle cx="502.0" cy="530.0" r="1.8"/><circle cx="535.0" cy="562.0" r="1.2"/>
<path d="M504.0 544.8 L503.8 545.6 L503.5 546.7 L503.2 548.1 L502.8 549.7 L502.4 551.3 L502.2 552.9 L502.0 554.6 L502.1 556.1 L502.5 557.6 L503.1 559.1 L503.8 560.6 L504.7 562.1 L505.5 563.4 L506.3 564.6 L506.9 565.6 L507.3 566.4 L508.7 565.6 L508.2 564.8 L507.6 563.8 L506.9 562.6 L506.1 561.3 L505.3 559.9 L504.6 558.5 L504.1 557.1 L503.9 555.9 L503.8 554.6 L504.0 553.2 L504.2 551.6 L504.6 550.1 L505.0 548.6 L505.4 547.3 L505.8 546.1 L506.0 545.2Z"/><circle cx="505.0" cy="545.0" r="1.0"/><circle cx="508.0" cy="566.0" r="0.8"/>
<path d="M605.5 535.0 L604.7 534.4 L603.6 533.6 L602.4 532.8 L601.0 531.8 L599.6 530.7 L598.1 529.5 L596.6 528.2 L595.2 526.8 L593.7 525.2 L592.0 523.4 L590.2 521.4 L588.4 519.4 L586.7 517.3 L585.1 515.2 L583.7 513.1 L582.6 511.0 L581.6 508.9 L580.6 506.6 L579.8 504.2 L579.2 501.8 L578.6 499.4 L578.2 497.1 L577.9 494.9 L577.8 493.0 L578.0 491.3 L578.3 489.8 L578.8 488.2 L579.4 486.7 L580.1 485.2 L580.9 483.7 L581.7 482.2 L582.3 480.8 L582.9 479.4 L583.5 478.1 L584.1 476.8 L584.7 475.5 L585.3 474.4 L585.8 473.3 L586.2 472.5 L586.6 471.8 L583.4 470.2 L583.1 470.9 L582.6 471.7 L582.1 472.7 L581.5 473.9 L580.8 475.1 L580.1 476.5 L579.5 477.9 L578.9 479.2 L578.2 480.5 L577.5 481.9 L576.7 483.4 L575.8 485.0 L575.1 486.8 L574.4 488.7 L573.9 490.8 L573.8 493.0 L573.8 495.3 L574.1 497.7 L574.5 500.2 L575.0 502.8 L575.7 505.4 L576.6 508.0 L577.5 510.6 L578.6 513.0 L579.9 515.4 L581.5 517.7 L583.2 520.1 L584.9 522.3 L586.8 524.4 L588.5 526.5 L590.2 528.3 L591.8 530.0 L593.4 531.6 L595.0 533.1 L596.6 534.4 L598.1 535.7 L599.5 536.7 L600.7 537.6 L601.7 538.4 L602.5 539.0Z"/><circle cx="604.0" cy="537.0" r="2.5"/><circle cx="585.0" cy="471.0" r="1.8"/>
<path d="M651.6 518.2 L652.4 517.1 L653.4 515.7 L654.7 514.1 L656.1 512.2 L657.6 510.2 L659.1 508.1 L660.5 506.0 L661.7 504.0 L662.7 502.0 L663.7 500.0 L664.6 498.1 L665.5 496.1 L666.3 494.0 L667.1 491.9 L667.9 489.8 L668.7 487.6 L669.6 485.4 L670.4 483.0 L671.3 480.6 L672.1 478.1 L672.9 475.6 L673.6 473.1 L674.2 470.7 L674.8 468.4 L675.1 466.1 L675.4 464.0 L675.6 461.9 L675.7 459.9 L675.8 457.9 L675.8 455.9 L675.8 453.9 L675.7 451.9 L675.6 449.9 L675.4 447.8 L675.2 445.7 L675.0 443.7 L674.7 441.6 L674.3 439.6 L674.0 437.6 L673.6 435.7 L673.2 433.8 L672.8 431.9 L672.3 430.1 L671.8 428.2 L671.3 426.5 L670.7 424.7 L670.1 423.0 L669.5 421.4 L668.7 419.7 L667.9 418.1 L667.0 416.4 L666.1 414.9 L665.2 413.4 L664.4 412.1 L663.8 411.1 L663.3 410.3 L660.7 411.7 L661.2 412.6 L661.8 413.7 L662.6 415.0 L663.4 416.4 L664.3 417.9 L665.1 419.5 L665.9 421.1 L666.5 422.6 L667.1 424.1 L667.7 425.7 L668.2 427.4 L668.7 429.1 L669.2 430.9 L669.6 432.7 L670.0 434.5 L670.4 436.3 L670.7 438.2 L671.1 440.1 L671.4 442.1 L671.6 444.1 L671.9 446.1 L672.1 448.1 L672.2 450.1 L672.3 452.1 L672.3 454.0 L672.3 455.9 L672.3 457.8 L672.3 459.7 L672.1 461.6 L671.9 463.6 L671.6 465.6 L671.2 467.6 L670.8 469.8 L670.1 472.1 L669.4 474.5 L668.6 476.9 L667.8 479.4 L667.0 481.8 L666.1 484.1 L665.3 486.4 L664.4 488.5 L663.6 490.6 L662.8 492.6 L662.0 494.6 L661.2 496.5 L660.3 498.4 L659.3 500.2 L658.3 502.0 L657.2 503.9 L655.9 505.9 L654.4 507.9 L653.0 509.8 L651.6 511.7 L650.3 513.3 L649.2 514.7 L648.4 515.8Z"/><circle cx="650.0" cy="517.0" r="2.0"/><circle cx="662.0" cy="411.0" r="1.5"/>
<path d="M641.3 407.3 L641.8 408.2 L642.4 409.4 L643.1 410.8 L643.9 412.3 L644.7 414.0 L645.6 415.6 L646.5 417.1 L647.4 418.4 L648.3 419.6 L649.3 420.7 L650.2 421.8 L651.2 422.9 L652.2 423.9 L653.3 424.9 L654.5 425.7 L655.7 426.6 L657.0 427.3 L658.6 428.0 L660.2 428.6 L661.8 429.1 L663.4 429.6 L664.8 430.0 L666.0 430.3 L666.8 430.6 L667.2 429.4 L666.3 429.1 L665.1 428.8 L663.7 428.4 L662.2 427.9 L660.6 427.4 L659.0 426.8 L657.6 426.1 L656.3 425.4 L655.2 424.7 L654.2 423.8 L653.1 422.9 L652.2 422.0 L651.2 420.9 L650.3 419.9 L649.4 418.7 L648.6 417.6 L647.7 416.3 L646.8 414.8 L646.0 413.3 L645.1 411.7 L644.4 410.1 L643.7 408.7 L643.1 407.5 L642.7 406.7Z"/><circle cx="642.0" cy="407.0" r="0.8"/><circle cx="667.0" cy="430.0" r="0.6"/>
<path d="M409.1 496.6 L408.7 497.4 L408.1 498.5 L407.5 499.8 L406.7 501.3 L406.0 502.9 L405.2 504.5 L404.6 506.2 L404.0 507.7 L403.6 509.2 L403.2 510.7 L402.8 512.3 L402.4 513.9 L402.1 515.5 L401.9 517.0 L401.9 518.6 L402.0 520.2 L402.4 521.7 L403.0 523.3 L403.7 524.8 L404.5 526.3 L405.3 527.6 L406.1 528.8 L406.7 529.8 L407.1 530.5 L408.9 529.5 L408.4 528.7 L407.8 527.7 L407.0 526.5 L406.2 525.2 L405.5 523.9 L404.8 522.5 L404.3 521.1 L404.0 519.8 L403.9 518.6 L403.9 517.2 L404.1 515.7 L404.4 514.3 L404.7 512.8 L405.1 511.2 L405.5 509.7 L406.0 508.3 L406.5 506.9 L407.1 505.3 L407.8 503.7 L408.5 502.2 L409.3 500.7 L409.9 499.4 L410.5 498.3 L410.9 497.4Z"/><circle cx="410.0" cy="497.0" r="1.0"/><circle cx="408.0" cy="530.0" r="1.0"/>
<circle cx="485.5" cy="654" r="26"/>
<path d="M480.6 631.2 L480.2 630.5 L479.6 629.4 L479.0 628.2 L478.3 626.9 L477.5 625.5 L476.8 624.0 L476.0 622.6 L475.3 621.3 L474.7 620.1 L474.0 618.8 L473.4 617.5 L472.7 616.3 L472.0 615.0 L471.4 613.8 L470.7 612.6 L470.1 611.4 L469.5 610.3 L468.8 609.1 L468.1 607.9 L467.4 606.8 L466.8 605.8 L466.2 604.9 L465.7 604.1 L465.4 603.5 L463.6 604.5 L463.9 605.1 L464.4 605.9 L464.9 606.9 L465.5 607.9 L466.1 609.1 L466.7 610.2 L467.3 611.4 L467.9 612.6 L468.5 613.7 L469.0 615.0 L469.6 616.2 L470.2 617.5 L470.8 618.8 L471.4 620.1 L472.1 621.4 L472.7 622.7 L473.3 624.0 L474.0 625.4 L474.7 626.9 L475.4 628.4 L476.0 629.7 L476.6 631.0 L477.1 632.0 L477.4 632.8Z"/><circle cx="479.0" cy="632.0" r="1.8"/><circle cx="464.5" cy="604.0" r="1.0"/>
<path d="M490.9 630.9 L491.4 630.2 L492.2 629.4 L493.1 628.5 L494.1 627.4 L495.2 626.2 L496.2 625.0 L497.1 623.7 L497.9 622.5 L498.5 621.2 L499.0 619.7 L499.4 618.2 L499.8 616.7 L500.1 615.3 L500.3 614.0 L500.6 613.0 L500.7 612.2 L499.3 611.8 L499.0 612.6 L498.8 613.7 L498.4 614.9 L498.1 616.3 L497.7 617.7 L497.2 619.1 L496.7 620.4 L496.1 621.5 L495.4 622.6 L494.5 623.7 L493.5 624.8 L492.5 625.8 L491.5 626.9 L490.5 627.8 L489.7 628.5 L489.1 629.1Z"/><circle cx="490.0" cy="630.0" r="1.2"/><circle cx="500.0" cy="612.0" r="0.8"/>
<path d="M543.8 624.5 L542.5 625.3 L540.7 626.4 L538.6 627.7 L536.2 629.2 L533.7 630.8 L531.1 632.5 L528.5 634.2 L526.1 635.8 L523.7 637.5 L521.5 639.2 L519.4 640.9 L517.4 642.6 L515.3 644.2 L513.2 645.7 L510.8 647.3 L508.2 648.8 L505.3 650.4 L502.0 652.1 L498.4 653.8 L494.6 655.5 L490.7 657.3 L486.6 659.1 L482.5 660.9 L478.5 662.8 L474.5 664.8 L470.4 666.8 L466.3 668.9 L462.1 671.0 L458.0 673.0 L453.9 675.0 L449.8 676.9 L445.8 678.7 L441.8 680.7 L437.5 682.7 L433.2 684.7 L428.9 686.6 L424.7 688.5 L420.8 690.2 L417.1 691.9 L413.8 693.4 L411.0 694.7 L408.6 695.8 L406.6 696.7 L404.8 697.6 L403.3 698.3 L401.8 699.0 L400.4 699.6 L398.8 700.1 L397.0 700.7 L395.1 701.1 L393.1 701.5 L391.0 701.9 L389.1 702.2 L387.3 702.5 L385.7 702.8 L384.6 703.0 L385.4 711.0 L386.6 711.0 L388.1 711.0 L389.9 710.9 L392.0 710.8 L394.2 710.7 L396.6 710.5 L398.9 710.2 L401.2 709.9 L403.3 709.4 L405.2 708.9 L407.1 708.4 L408.9 707.8 L410.8 707.1 L413.0 706.4 L415.4 705.6 L418.2 704.6 L421.5 703.6 L425.4 702.4 L429.5 701.1 L434.0 699.7 L438.5 698.2 L443.2 696.6 L447.8 695.0 L452.2 693.3 L456.5 691.4 L460.7 689.4 L465.0 687.4 L469.2 685.3 L473.4 683.2 L477.5 681.2 L481.6 679.1 L485.5 677.2 L489.4 675.2 L493.3 673.2 L497.3 671.2 L501.3 669.2 L505.1 667.3 L508.8 665.3 L512.4 663.2 L515.8 661.2 L518.8 659.1 L521.6 657.1 L524.0 655.0 L526.2 653.1 L528.3 651.2 L530.2 649.4 L532.0 647.8 L533.9 646.2 L536.0 644.5 L538.3 642.7 L540.7 640.8 L543.1 639.0 L545.3 637.4 L547.2 635.8 L548.9 634.5 L550.2 633.5Z"/><circle cx="547.0" cy="629.0" r="5.5"/><circle cx="385.0" cy="707.0" r="4.0"/>
<path d="M546.3 618.4 L545.3 618.9 L544.0 619.5 L542.5 620.3 L540.8 621.2 L539.0 622.0 L537.1 622.9 L535.3 623.8 L533.6 624.6 L531.8 625.4 L530.0 626.2 L528.2 627.0 L526.3 627.7 L524.5 628.5 L522.5 629.3 L520.6 630.1 L518.8 630.9 L516.8 631.7 L514.7 632.6 L512.5 633.5 L510.4 634.4 L508.4 635.3 L506.6 636.1 L505.0 636.7 L503.9 637.2 L506.1 642.8 L507.3 642.4 L508.8 641.8 L510.7 641.1 L512.7 640.3 L514.9 639.5 L517.1 638.7 L519.2 637.8 L521.2 637.1 L523.1 636.4 L525.0 635.7 L527.0 635.0 L528.9 634.3 L530.8 633.5 L532.7 632.8 L534.6 632.1 L536.4 631.4 L538.3 630.6 L540.2 629.8 L542.2 628.9 L544.1 628.1 L545.8 627.3 L547.4 626.6 L548.7 626.0 L549.7 625.6Z"/><circle cx="548.0" cy="622.0" r="4.0"/><circle cx="505.0" cy="640.0" r="3.0"/>
<circle cx="369.9" cy="695.2" r="11.5"/>
<path d="M400.7 696.6 L399.6 696.3 L398.0 696.0 L396.2 695.5 L394.2 695.1 L392.0 694.6 L389.8 694.1 L387.6 693.7 L385.6 693.3 L383.6 692.9 L381.4 692.6 L379.2 692.3 L377.0 692.0 L375.0 691.7 L373.2 691.4 L371.6 691.2 L370.5 691.0 L369.5 699.0 L370.7 699.1 L372.2 699.2 L374.0 699.4 L376.1 699.7 L378.2 699.9 L380.4 700.2 L382.5 700.4 L384.4 700.7 L386.3 701.0 L388.4 701.4 L390.6 701.8 L392.7 702.2 L394.7 702.6 L396.6 702.9 L398.1 703.2 L399.3 703.4Z"/><circle cx="400.0" cy="700.0" r="3.5"/><circle cx="370.0" cy="695.0" r="4.0"/>
<path d="M370.4 691.3 L368.2 691.1 L365.4 690.8 L362.0 690.5 L358.2 690.2 L354.1 689.8 L350.0 689.5 L346.0 689.2 L342.2 689.0 L338.6 688.9 L334.9 688.8 L331.3 688.8 L327.6 688.7 L323.9 688.8 L320.2 688.9 L316.5 689.0 L312.8 689.3 L309.1 689.7 L305.4 690.1 L301.7 690.6 L298.0 691.1 L294.4 691.7 L290.7 692.5 L287.0 693.3 L283.3 694.2 L279.5 695.2 L275.7 696.4 L271.8 697.7 L268.0 699.1 L264.3 700.5 L260.7 701.9 L257.2 703.3 L254.0 704.6 L251.0 705.9 L248.3 707.2 L245.8 708.5 L243.5 709.8 L241.2 710.9 L239.0 712.0 L236.8 713.0 L234.4 713.7 L231.9 714.3 L229.2 714.7 L226.5 715.0 L223.6 715.1 L220.7 715.3 L217.7 715.6 L214.7 715.9 L211.6 716.5 L208.6 717.2 L205.4 717.9 L202.2 718.7 L199.0 719.6 L195.9 720.6 L192.8 721.7 L189.8 723.0 L187.1 724.5 L184.4 726.3 L181.9 728.5 L179.5 730.9 L177.3 733.4 L175.3 735.8 L173.5 737.9 L172.0 739.7 L170.9 741.0 L173.1 743.0 L174.3 741.7 L175.9 739.9 L177.7 737.8 L179.7 735.6 L181.9 733.2 L184.2 731.0 L186.6 729.1 L188.9 727.5 L191.4 726.3 L194.1 725.1 L197.0 724.1 L200.1 723.3 L203.2 722.5 L206.3 721.8 L209.4 721.1 L212.4 720.5 L215.2 720.1 L218.1 719.8 L221.0 719.6 L223.9 719.5 L226.8 719.4 L229.7 719.2 L232.7 718.9 L235.6 718.3 L238.4 717.4 L241.0 716.4 L243.4 715.3 L245.8 714.2 L248.1 713.0 L250.6 711.8 L253.1 710.6 L256.0 709.4 L259.2 708.2 L262.6 707.0 L266.2 705.6 L269.9 704.3 L273.6 703.0 L277.4 701.8 L281.1 700.8 L284.7 699.8 L288.3 699.0 L291.8 698.3 L295.4 697.7 L299.0 697.1 L302.5 696.7 L306.1 696.3 L309.7 695.9 L313.2 695.7 L316.8 695.5 L320.4 695.4 L323.9 695.4 L327.5 695.4 L331.1 695.5 L334.7 695.6 L338.3 695.8 L341.8 696.0 L345.5 696.2 L349.4 696.5 L353.5 696.9 L357.5 697.3 L361.2 697.8 L364.6 698.2 L367.5 698.5 L369.6 698.7Z"/><circle cx="370.0" cy="695.0" r="3.8"/><circle cx="172.0" cy="742.0" r="1.5"/>
<path d="M363.0 686.9 L362.2 686.2 L361.1 685.2 L359.8 684.0 L358.4 682.6 L356.9 681.2 L355.5 679.8 L354.1 678.4 L352.9 677.2 L351.9 676.0 L350.9 674.7 L350.0 673.5 L349.1 672.2 L348.2 671.0 L347.4 669.8 L346.6 668.6 L345.9 667.5 L345.2 666.4 L344.5 665.2 L343.9 664.1 L343.4 663.0 L342.8 662.0 L342.4 661.1 L342.0 660.3 L341.7 659.7 L340.3 660.3 L340.6 660.9 L340.9 661.7 L341.3 662.7 L341.8 663.7 L342.3 664.9 L342.9 666.1 L343.5 667.3 L344.1 668.5 L344.8 669.7 L345.6 670.9 L346.4 672.2 L347.2 673.5 L348.1 674.8 L349.0 676.2 L350.0 677.5 L351.1 678.8 L352.2 680.2 L353.6 681.6 L355.0 683.1 L356.5 684.6 L357.9 686.0 L359.1 687.2 L360.2 688.3 L361.0 689.1Z"/><circle cx="362.0" cy="688.0" r="1.5"/><circle cx="341.0" cy="660.0" r="0.8"/>
<path d="M352.7 677.3 L351.9 676.5 L350.9 675.4 L349.6 674.0 L348.2 672.5 L346.7 671.0 L345.2 669.6 L343.8 668.3 L342.4 667.3 L341.2 666.7 L339.9 666.2 L338.7 665.9 L337.5 665.7 L336.4 665.6 L335.4 665.5 L334.7 665.5 L334.1 665.4 L333.9 666.6 L334.5 666.7 L335.3 666.8 L336.3 666.9 L337.3 667.1 L338.3 667.3 L339.4 667.6 L340.5 668.1 L341.6 668.7 L342.7 669.6 L344.0 670.8 L345.4 672.2 L346.8 673.7 L348.2 675.3 L349.5 676.7 L350.5 677.8 L351.3 678.7Z"/><circle cx="352.0" cy="678.0" r="1.0"/><circle cx="334.0" cy="666.0" r="0.6"/>
<path d="M379.1 685.3 L378.5 684.5 L377.7 683.4 L376.8 682.0 L375.9 680.6 L374.9 679.0 L374.1 677.5 L373.4 676.1 L373.1 674.8 L372.9 673.5 L372.9 672.2 L373.0 670.8 L373.2 669.5 L373.5 668.1 L373.9 666.8 L374.4 665.5 L374.8 664.4 L375.4 663.4 L376.1 662.3 L376.9 661.3 L377.7 660.4 L378.6 659.5 L379.4 658.7 L380.1 658.1 L380.5 657.5 L379.5 656.5 L379.0 657.0 L378.3 657.6 L377.4 658.4 L376.5 659.2 L375.6 660.2 L374.7 661.3 L373.8 662.4 L373.2 663.6 L372.6 664.8 L372.1 666.2 L371.7 667.6 L371.3 669.0 L371.0 670.6 L370.8 672.1 L370.8 673.7 L370.9 675.2 L371.4 676.8 L372.1 678.5 L372.9 680.2 L373.9 681.8 L374.8 683.3 L375.7 684.7 L376.4 685.8 L376.9 686.7Z"/><circle cx="378.0" cy="686.0" r="1.2"/><circle cx="380.0" cy="657.0" r="0.8"/>
<path d="M363.2 698.9 L362.8 700.0 L362.4 701.5 L361.9 703.2 L361.4 705.2 L360.8 707.4 L360.1 709.7 L359.5 712.1 L358.8 714.6 L358.2 717.2 L357.7 720.1 L357.1 723.1 L356.6 726.0 L356.0 729.0 L355.2 731.9 L354.4 734.6 L353.3 737.1 L352.1 739.7 L350.7 742.3 L349.1 744.9 L347.4 747.4 L345.6 749.8 L343.7 752.1 L341.7 754.2 L339.6 756.2 L337.4 757.9 L334.9 759.5 L332.2 761.1 L329.4 762.5 L326.5 763.8 L323.6 765.1 L320.6 766.2 L317.8 767.3 L314.9 768.3 L311.8 769.1 L308.6 769.9 L305.4 770.6 L302.3 771.2 L299.5 771.7 L297.1 772.2 L295.3 772.6 L296.7 779.4 L298.4 779.1 L300.8 778.7 L303.6 778.2 L306.8 777.6 L310.1 776.9 L313.6 776.1 L317.0 775.1 L320.2 774.1 L323.2 773.0 L326.3 771.8 L329.4 770.5 L332.6 769.1 L335.7 767.5 L338.7 765.8 L341.7 763.9 L344.4 761.8 L346.9 759.5 L349.3 757.1 L351.5 754.5 L353.5 751.7 L355.4 748.9 L357.2 746.1 L358.8 743.2 L360.3 740.3 L361.5 737.2 L362.6 734.0 L363.4 730.7 L364.1 727.6 L364.7 724.5 L365.3 721.5 L365.8 718.9 L366.4 716.4 L367.0 714.1 L367.7 711.8 L368.3 709.5 L369.0 707.4 L369.5 705.5 L370.1 703.7 L370.5 702.3 L370.8 701.1Z"/><circle cx="367.0" cy="700.0" r="4.0"/><circle cx="296.0" cy="776.0" r="3.5"/>
<circle cx="296" cy="775" r="5"/>
<path d="M250.4 772.1 L251.0 771.3 L251.9 770.1 L252.9 768.8 L254.0 767.4 L255.1 766.0 L256.4 764.6 L257.7 763.4 L259.0 762.5 L260.4 761.6 L262.0 760.8 L263.7 760.0 L265.5 759.3 L267.3 758.8 L269.1 758.3 L271.0 757.9 L272.7 757.7 L274.5 757.7 L276.4 757.8 L278.3 758.0 L280.2 758.3 L282.1 758.8 L283.9 759.3 L285.7 759.9 L287.2 760.6 L288.7 761.4 L290.2 762.4 L291.7 763.7 L293.1 765.0 L294.4 766.3 L295.6 767.5 L296.7 768.5 L297.5 769.3 L299.9 766.7 L299.1 766.0 L298.1 765.0 L296.9 763.8 L295.5 762.4 L294.0 761.0 L292.3 759.6 L290.6 758.4 L288.8 757.4 L286.9 756.6 L285.0 756.0 L283.0 755.4 L280.9 754.9 L278.8 754.5 L276.6 754.3 L274.5 754.2 L272.5 754.3 L270.4 754.5 L268.4 754.9 L266.3 755.4 L264.3 756.0 L262.4 756.8 L260.5 757.6 L258.7 758.5 L257.0 759.5 L255.4 760.7 L253.9 762.1 L252.5 763.7 L251.2 765.2 L250.1 766.7 L249.1 768.0 L248.3 769.1 L247.6 769.9Z"/><circle cx="249.0" cy="771.0" r="1.8"/><circle cx="298.7" cy="768.0" r="1.8"/>
<path d="M208.3 760.5 L209.3 760.3 L210.7 760.0 L212.3 759.7 L214.2 759.3 L216.2 758.9 L218.2 758.5 L220.3 758.0 L222.4 757.4 L224.6 756.8 L227.1 756.0 L229.7 755.1 L232.4 754.2 L234.9 753.4 L237.2 752.6 L239.1 751.9 L240.5 751.4 L239.5 748.6 L238.1 749.1 L236.2 749.7 L233.9 750.5 L231.4 751.4 L228.8 752.3 L226.2 753.1 L223.7 753.9 L221.6 754.6 L219.6 755.1 L217.6 755.6 L215.5 756.0 L213.6 756.4 L211.8 756.8 L210.1 757.1 L208.8 757.3 L207.7 757.5Z"/><circle cx="208.0" cy="759.0" r="1.5"/><circle cx="240.0" cy="750.0" r="1.5"/>
<path d="M274.4 839.5 L276.3 839.1 L278.8 838.7 L282.0 838.2 L285.4 837.6 L289.1 836.8 L292.8 835.9 L296.3 834.8 L299.6 833.3 L302.5 831.7 L305.3 829.9 L308.2 827.9 L310.9 825.7 L313.5 823.3 L316.0 820.8 L318.4 818.0 L320.6 815.0 L322.5 811.8 L324.2 808.2 L325.8 804.4 L327.1 800.6 L328.5 796.7 L329.8 792.9 L331.1 789.2 L332.6 785.8 L334.4 782.3 L336.3 778.7 L338.3 775.1 L340.3 771.6 L342.2 768.3 L344.0 765.3 L345.4 762.8 L346.5 760.9 L343.5 759.1 L342.4 761.0 L340.9 763.5 L339.2 766.5 L337.2 769.8 L335.2 773.4 L333.1 777.0 L331.1 780.7 L329.4 784.2 L327.8 787.8 L326.3 791.6 L325.0 795.5 L323.7 799.4 L322.3 803.1 L320.8 806.7 L319.2 810.0 L317.4 813.0 L315.4 815.6 L313.2 818.2 L310.9 820.6 L308.4 822.8 L305.8 824.8 L303.2 826.7 L300.5 828.4 L297.8 829.9 L295.0 831.1 L291.7 832.2 L288.2 833.0 L284.7 833.7 L281.3 834.3 L278.2 834.8 L275.6 835.2 L273.6 835.5Z"/><circle cx="274.0" cy="837.5" r="2.0"/><circle cx="345.0" cy="760.0" r="1.8"/>
<path d="M390.3 767.6 L391.2 766.7 L392.3 765.5 L393.6 764.0 L395.0 762.5 L396.6 760.9 L398.2 759.4 L399.8 758.0 L401.3 756.8 L402.8 755.8 L404.5 754.9 L406.2 754.0 L408.1 753.2 L409.9 752.4 L411.8 751.6 L413.8 750.9 L415.8 750.1 L417.7 749.3 L419.6 748.6 L421.3 747.9 L423.1 747.3 L425.0 746.7 L427.1 746.1 L429.5 745.7 L432.3 745.2 L435.6 744.9 L439.4 744.6 L443.6 744.3 L448.0 744.1 L452.4 743.9 L456.8 743.8 L460.8 743.8 L464.5 743.7 L467.7 743.8 L470.7 744.1 L473.5 744.4 L476.3 744.8 L479.0 745.1 L481.7 745.4 L484.5 745.4 L487.3 745.2 L490.0 744.8 L492.6 744.1 L495.1 743.3 L497.6 742.4 L499.9 741.4 L502.3 740.5 L504.7 739.5 L507.2 738.6 L510.0 737.7 L513.2 736.7 L516.4 735.6 L519.7 734.5 L522.8 733.4 L525.6 732.5 L528.0 731.7 L529.7 731.1 L528.3 726.9 L526.5 727.5 L524.2 728.2 L521.4 729.2 L518.3 730.2 L515.0 731.3 L511.7 732.4 L508.6 733.4 L505.8 734.4 L503.1 735.3 L500.6 736.3 L498.3 737.3 L495.9 738.2 L493.7 739.1 L491.4 739.8 L489.1 740.4 L486.7 740.8 L484.3 740.9 L481.9 740.9 L479.5 740.7 L476.8 740.3 L474.1 740.0 L471.1 739.6 L467.9 739.4 L464.5 739.3 L460.8 739.3 L456.7 739.3 L452.3 739.4 L447.8 739.6 L443.4 739.8 L439.1 740.1 L435.2 740.4 L431.7 740.8 L428.7 741.2 L426.1 741.8 L423.8 742.4 L421.7 743.0 L419.8 743.7 L417.9 744.4 L416.1 745.2 L414.2 745.9 L412.2 746.6 L410.2 747.4 L408.2 748.2 L406.2 749.1 L404.3 750.0 L402.4 750.9 L400.5 752.0 L398.7 753.2 L396.9 754.5 L395.1 756.1 L393.4 757.7 L391.8 759.4 L390.3 761.0 L389.0 762.4 L387.9 763.6 L387.1 764.4Z"/><circle cx="388.7" cy="766.0" r="2.2"/><circle cx="529.0" cy="729.0" r="2.2"/>
<path d="M536.5 713.7 L537.3 714.4 L538.5 715.4 L539.8 716.6 L541.3 717.9 L542.7 719.2 L544.1 720.6 L545.2 721.9 L546.1 723.2 L546.8 724.4 L547.4 725.7 L547.9 726.9 L548.3 728.2 L548.6 729.6 L548.9 731.2 L549.2 733.0 L549.4 735.2 L549.5 737.7 L549.5 740.7 L549.5 743.9 L549.3 747.4 L549.2 750.8 L549.0 754.2 L548.9 757.2 L548.8 759.9 L548.7 762.1 L548.7 763.9 L548.7 765.4 L548.7 766.7 L548.7 767.9 L548.5 769.2 L548.3 770.9 L547.8 773.0 L547.2 775.7 L546.4 778.7 L545.6 782.1 L544.6 785.5 L543.5 789.0 L542.4 792.3 L541.2 795.4 L540.0 798.0 L538.6 800.2 L537.0 802.4 L535.2 804.6 L533.4 806.5 L531.6 808.3 L529.9 809.9 L528.4 811.3 L527.4 812.4 L530.6 815.6 L531.6 814.5 L533.0 813.2 L534.7 811.5 L536.6 809.7 L538.6 807.6 L540.6 805.2 L542.4 802.7 L544.0 800.0 L545.4 797.1 L546.6 793.9 L547.8 790.4 L548.9 786.8 L549.9 783.2 L550.8 779.8 L551.6 776.7 L552.2 774.0 L552.7 771.7 L553.0 769.9 L553.1 768.2 L553.2 766.8 L553.2 765.4 L553.2 763.9 L553.2 762.2 L553.2 760.1 L553.4 757.5 L553.5 754.4 L553.7 751.0 L553.8 747.6 L553.9 744.1 L554.0 740.7 L554.0 737.6 L553.8 734.8 L553.6 732.5 L553.4 730.5 L553.0 728.7 L552.6 727.0 L552.1 725.4 L551.5 723.8 L550.8 722.4 L549.9 720.8 L548.8 719.2 L547.4 717.5 L545.9 716.0 L544.3 714.5 L542.8 713.2 L541.4 712.0 L540.3 711.1 L539.5 710.3Z"/><circle cx="538.0" cy="712.0" r="2.2"/><circle cx="529.0" cy="814.0" r="2.2"/>
<path d="M537.7 710.1 L538.9 711.1 L540.5 712.6 L542.4 714.4 L544.5 716.3 L546.8 718.3 L549.3 720.2 L551.8 721.9 L554.3 723.1 L557.0 724.0 L560.0 724.7 L563.1 725.1 L566.2 725.4 L569.2 725.6 L571.8 725.8 L574.1 725.9 L575.7 726.0 L575.9 724.0 L574.2 723.8 L572.0 723.6 L569.3 723.4 L566.4 723.2 L563.4 722.8 L560.4 722.4 L557.7 721.7 L555.3 720.9 L553.1 719.7 L550.8 718.1 L548.6 716.3 L546.4 714.3 L544.3 712.3 L542.5 710.5 L540.9 709.0 L539.7 707.9Z"/><circle cx="538.7" cy="709.0" r="1.5"/><circle cx="575.8" cy="725.0" r="1.0"/>
<path d="M485.0 747.3 L484.6 749.3 L484.1 752.0 L483.5 755.1 L482.8 758.6 L482.0 762.2 L481.1 765.9 L480.0 769.4 L478.7 772.7 L477.3 776.0 L475.8 779.4 L474.2 782.7 L472.4 786.1 L470.5 789.3 L468.3 792.4 L465.9 795.3 L463.2 797.9 L460.1 800.3 L456.5 802.7 L452.6 804.9 L448.4 807.0 L444.1 808.9 L439.8 810.7 L435.5 812.2 L431.4 813.6 L427.4 814.7 L423.1 815.6 L418.8 816.3 L414.6 816.9 L410.4 817.3 L406.5 817.6 L403.0 817.8 L399.9 818.0 L397.4 818.1 L395.2 818.0 L393.4 817.8 L391.9 817.6 L390.6 817.3 L389.4 817.0 L388.3 816.7 L387.4 816.5 L386.6 820.5 L387.4 820.6 L388.4 820.8 L389.6 821.2 L391.1 821.5 L392.9 821.8 L395.0 822.0 L397.4 822.1 L400.1 822.0 L403.2 821.8 L406.8 821.6 L410.8 821.3 L415.0 820.8 L419.4 820.3 L423.9 819.5 L428.3 818.6 L432.6 817.4 L436.8 816.0 L441.2 814.4 L445.7 812.6 L450.1 810.6 L454.4 808.4 L458.6 806.1 L462.4 803.6 L465.8 800.9 L468.8 798.0 L471.5 794.8 L473.8 791.5 L475.9 788.0 L477.8 784.5 L479.5 781.0 L481.0 777.6 L482.5 774.3 L483.8 770.7 L485.0 767.0 L485.9 763.1 L486.8 759.4 L487.5 755.9 L488.0 752.7 L488.5 750.1 L489.0 748.1Z"/><circle cx="487.0" cy="747.7" r="2.0"/><circle cx="387.0" cy="818.5" r="2.0"/></g>
<use href="#con" x="620.5" y="336.4" width="48.9" height="98.7"/>
<use href="#dec" x="441.8" y="334.2" width="84.4" height="121.9"/>
<use href="#con" x="540.9" y="371.4" width="52.2" height="107.8"/>
<use href="#con" x="355.4" y="358.2" width="66.3" height="139.4"/>
<use href="#dec2" x="415.4" y="403.8" width="56.2" height="100.3"/>
<use href="#dec" x="586.8" y="404.7" width="84.4" height="118.0"/>
<use href="#con" x="462.0" y="401.9" width="62.0" height="127.1"/>
<use href="#con" x="174.4" y="401.8" width="65.2" height="132.7"/>
<use href="#dec2" x="236.1" y="473.1" width="72.9" height="111.7"/>
<use href="#dec2" x="514.6" y="463.7" width="84.4" height="123.9"/>
<use href="#dec" x="414.3" y="505.6" width="58.3" height="77.2"/>
<use href="#dec" x="146.2" y="491.2" width="87.5" height="107.7"/>
<use href="#dec" x="464.4" y="538.6" width="57.3" height="95.5"/>
<use href="#con" x="287.9" y="498.2" width="65.2" height="139.0"/>
<use href="#dec2" x="340.5" y="548.3" width="72.9" height="103.6"/>
<use href="#con" x="111.1" y="541.8" width="67.4" height="135.7"/>
<use href="#dec2" x="148.0" y="639.4" width="75.0" height="117.8"/>
<use href="#con" x="374.5" y="626.1" width="63.0" height="125.9"/>
<use href="#con" x="565.3" y="645.3" width="63.0" height="121.1"/>
<use href="#dec" x="481.8" y="688.2" width="62.5" height="98.5"/>
<use href="#dec" x="255.2" y="681.6" width="81.2" height="112.1"/>
<use href="#con" x="205.5" y="696.0" width="50.0" height="103.2"/>
<use href="#dec2" x="414.5" y="735.2" width="67.7" height="91.8"/>
<use href="#con" x="618.9" y="727.8" width="52.2" height="111.5"/>
<use href="#con" x="300.5" y="729.3" width="63.0" height="127.2"/>
<use href="#sheep" x="197.8" y="602.0" width="30.5" height="30.0"/>
<use href="#sheep" transform="translate(529.2,679.0) scale(-1,1)" x="0" y="0" width="30.5" height="30.0"/>
<use href="#sheep" transform="translate(183.2,683.0) scale(-1,1)" x="0" y="0" width="30.5" height="30.0"/>
<use href="#sheep" x="450.8" y="692.5" width="30.5" height="30.0"/>
<use href="#sheep" x="253.8" y="708.0" width="30.5" height="30.0"/>
<use href="#sheep" x="365.4" y="721.4" width="30.5" height="30.0"/>
<use href="#sheep" x="510.2" y="736.0" width="30.5" height="30.0"/>
<use href="#sheep" x="356.9" y="752.4" width="30.5" height="30.0"/>
<use href="#sheep" x="395.4" y="775.6" width="30.5" height="30.0"/>
<circle cx="349.3" cy="469.7" r="27" fill="none" stroke="#dbe33a" stroke-width="2.6"/><rect x="338.3" y="453.7" width="22.0" height="1.9" fill="#fff" opacity="0.9"/><rect x="330.0" y="460.0" width="39.0" height="1.0" fill="#e6eaf4" opacity="0.72"/><rect x="330.0" y="462.8" width="30.4" height="1.0" fill="#e6eaf4" opacity="0.72"/><rect x="330.0" y="468.6" width="39.0" height="1.0" fill="#e6eaf4" opacity="0.72"/><rect x="330.0" y="471.3" width="30.4" height="1.0" fill="#e6eaf4" opacity="0.72"/><rect x="330.0" y="477.1" width="39.0" height="1.0" fill="#e6eaf4" opacity="0.72"/><rect x="330.0" y="479.7" width="30.4" height="1.0" fill="#e6eaf4" opacity="0.72"/>
<circle cx="429.2" cy="614.0" r="27" fill="none" stroke="#dbe33a" stroke-width="2.6"/><rect x="417.2" y="592.7" width="24.0" height="1.9" fill="#fff" opacity="0.9"/><rect x="418.2" y="597.1" width="22.0" height="1.9" fill="#fff" opacity="0.9"/><rect x="410.0" y="602.8" width="42.0" height="1.0" fill="#e6eaf4" opacity="0.72"/><rect x="410.0" y="605.4" width="32.8" height="1.0" fill="#e6eaf4" opacity="0.72"/><rect x="410.0" y="608.4" width="42.0" height="1.0" fill="#e6eaf4" opacity="0.72"/><rect x="410.0" y="611.5" width="32.8" height="1.0" fill="#e6eaf4" opacity="0.72"/><rect x="410.0" y="614.3" width="42.0" height="1.0" fill="#e6eaf4" opacity="0.72"/><rect x="418.5" y="618.7" width="20.9" height="16.5" fill="#c9c4c4"/><rect x="418.9" y="619.1" width="20.1" height="15.7" fill="#66774f"/><rect x="422.9" y="627.1" width="12" height="6" fill="#a79a94"/>
<circle cx="496.6" cy="800.4" r="27" fill="none" stroke="#dbe33a" stroke-width="2.6"/><rect x="485.6" y="782.1" width="22.0" height="1.9" fill="#fff" opacity="0.9"/><rect x="478.0" y="789.2" width="40.0" height="1.0" fill="#e6eaf4" opacity="0.72"/><rect x="478.0" y="791.8" width="31.2" height="1.0" fill="#e6eaf4" opacity="0.72"/><rect x="478.0" y="795.1" width="40.0" height="1.0" fill="#e6eaf4" opacity="0.72"/><rect x="478.0" y="797.7" width="31.2" height="1.0" fill="#e6eaf4" opacity="0.72"/><rect x="478.0" y="800.5" width="40.0" height="1.0" fill="#e6eaf4" opacity="0.72"/><rect x="478.0" y="803.3" width="31.2" height="1.0" fill="#e6eaf4" opacity="0.72"/><use href="#paw" x="483.8" y="811.2" width="12" height="12" transform="rotate(-18 489.8 817.2)"/><use href="#paw" x="497.0" y="808.2" width="12" height="12" transform="rotate(-18 503.0 814.2)"/>
<g fill="#dde6f5" transform="translate(284.0,646.6) scale(0.811)"><ellipse cx="0" cy="4.2" rx="3.2" ry="4"/><path d="M-3 10 C-1 9 2 9 4 10 C5.5 13 6 17 6.5 20 L9.5 23 L8.5 25 L5 22.5 L4.5 27 L5.5 37.5 L1.8 37.5 L0.5 28 L-1 28 L-4 37.8 L-9 37.5 L-3.5 27 L-4 22 L-5.5 25.5 L-8 25 L-6 18 C-5.5 14 -4.5 11.5 -3 10Z"/></g>
<g fill="#dde6f5" transform="translate(296.5,655.3) scale(0.800)"><ellipse cx="0" cy="4.2" rx="3.2" ry="4"/><path d="M-3 10 C-1 9 2 9 4 10 C5.5 13 6 17 6.5 20 L9.5 23 L8.5 25 L5 22.5 L4.5 27 L5.5 37.5 L1.8 37.5 L0.5 28 L-1 28 L-4 37.8 L-9 37.5 L-3.5 27 L-4 22 L-5.5 25.5 L-8 25 L-6 18 C-5.5 14 -4.5 11.5 -3 10Z"/></g>
<use href="#paw" x="352.5" y="816.5" width="11" height="11" transform="rotate(-20 358.0 822.0)"/>
<use href="#paw" x="338.2" y="834.3" width="11" height="11" transform="rotate(-20 343.7 839.8)"/>
<use href="#paw" x="412.3" y="834.5" width="11" height="11" transform="rotate(-20 417.8 840.0)"/>
<use href="#paw" x="422.9" y="817.1" width="11" height="11" transform="rotate(-20 428.4 822.6)"/>
<use href="#paw" x="633.2" y="850.3" width="11" height="11" transform="rotate(-20 638.7 855.8)"/>
<use href="#paw" x="642.9" y="858.4" width="11" height="11" transform="rotate(-20 648.4 863.9)"/>
<use href="#paw" x="654.2" y="839.0" width="11" height="11" transform="rotate(-20 659.7 844.5)"/>
<use href="#paw" x="670.3" y="848.5" width="11" height="11" transform="rotate(-20 675.8 854.0)"/>
<linearGradient id="pole" x1="0" x2="1" y1="0" y2="0"><stop offset="0" stop-color="#b09a92"/><stop offset="0.45" stop-color="#9a817a"/><stop offset="0.55" stop-color="#7d625b"/><stop offset="1" stop-color="#7d625b"/></linearGradient>
<rect x="287.2" y="362.8" width="8.8" height="124.2" rx="4.4" fill="url(#pole)"/><rect x="296.8" y="368.3" width="80.4" height="60.4" fill="#52ae86"/><text x="322.9" y="385.8" font-size="12.7" textLength="28.2" lengthAdjust="spacingAndGlyphs">New</text><text x="303.1" y="403.2" font-size="12.7" textLength="67.7" lengthAdjust="spacingAndGlyphs">Productive</text><text x="305.5" y="420.6" font-size="12.7" textLength="63.0" lengthAdjust="spacingAndGlyphs">Woodland</text>
<rect x="674.5" y="384.0" width="9.1" height="126.0" rx="4.6" fill="url(#pole)"/><rect x="683.6" y="389.8" width="81.0" height="60.2" fill="#52ae86"/><text x="702.4" y="415.6" font-size="12.7" textLength="43.0" lengthAdjust="spacingAndGlyphs">Woody</text><text x="706.2" y="432.8" font-size="12.7" textLength="35.3" lengthAdjust="spacingAndGlyphs">Dams</text>
<rect x="867.0" y="524.7" width="9.0" height="126.3" rx="4.5" fill="url(#pole)"/><rect x="876.0" y="531.0" width="81.0" height="60.2" fill="#52ae86"/><text x="879.6" y="555.0" font-size="12.7" textLength="73.3" lengthAdjust="spacingAndGlyphs">Reinstating</text><text x="884.8" y="572.2" font-size="12.7" textLength="63.0" lengthAdjust="spacingAndGlyphs">Meanders</text>
<rect x="223.2" y="579.8" width="8.2" height="122.2" rx="4.1" fill="url(#pole)"/><rect x="232.0" y="585.3" width="80.7" height="59.7" fill="#52ae86"/><text x="256.3" y="610.2" font-size="12.7" textLength="32.0" lengthAdjust="spacingAndGlyphs">River</text><text x="248.1" y="627.7" font-size="12.7" textLength="48.5" lengthAdjust="spacingAndGlyphs">Fencing</text>
<rect x="551.6" y="731.0" width="8.1" height="120.0" rx="4.1" fill="url(#pole)"/><rect x="559.7" y="737.0" width="78.0" height="56.9" fill="#52ae86"/><text x="582.9" y="761.6" font-size="12.7" textLength="31.6" lengthAdjust="spacingAndGlyphs">Agro-</text><text x="573.7" y="777.4" font-size="12.7" textLength="50.0" lengthAdjust="spacingAndGlyphs">Forestry</text>
<g transform="translate(551.6,815.5)">
<g fill="#a86a25"><rect x="24" y="28" width="4.5" height="15"/><rect x="52" y="28" width="4.5" height="15"/></g>
<path d="M66 8 C70 12 69 24 68.5 32 L67.5 32 C67.5 24 67 14 65 10Z" fill="#b9742b"/>
<path d="M16 4 C25 1 50 1 60 3 C67 4 68 10 67 18 C66 25 64 29 60 30 L24 30 C18 29 15 22 14 14 C13.5 9 14 6 16 4Z" fill="#b9742b"/>
<path d="M42 2.5 C50 1.5 58 2.5 62 5 C63 9 58 13 52 11 C47 12 41 8 42 2.5Z" fill="#fff"/>
<path d="M58 20 C63 18 66 22 65 27 C63 30 58 29 57 26Z" fill="#fff"/>
<g fill="#b9742b"><rect x="19.5" y="26" width="5" height="16"/><rect x="57" y="26" width="5" height="16"/></g>
<g fill="#fff"><rect x="19.5" y="34" width="5" height="9"/><rect x="24" y="38" width="4.5" height="5.5"/></g>
<g fill="#4a3a2a"><rect x="19.5" y="43" width="5" height="1.6"/><rect x="24" y="43" width="4.5" height="1.6"/><rect x="52" y="43" width="4.5" height="1.6"/><rect x="57" y="42" width="5" height="1.6"/></g>
<path d="M47 29 C49 33 54 33 55 29Z" fill="#f2b8b0"/>
<path d="M2 6 C4 2 14 2 16 6 L15.5 16 C15 21 13 24 9 24 C5 24 3.5 21 3 16Z" fill="#fff"/>
<path d="M11 4 L16 5 L15.5 14 L12.5 14Z" fill="#b9742b"/><path d="M2.5 5 L6 4 L5 13 L3 13Z" fill="#b9742b"/>
<ellipse cx="9" cy="20.5" rx="5" ry="3.6" fill="#f2b8b0"/>
<path d="M0 4 L4 5.5 L3 8Z" fill="#b9742b"/><path d="M18 3.5 L14.5 5.5 L15.5 8Z" fill="#b9742b"/>
<path d="M4 2.5 L2.5 0 M14 2.5 L16 0" stroke="#e8e0c8" stroke-width="1.2"/>
</g>
<text x="118.6" y="355" font-size="27.5" textLength="102.2" lengthAdjust="spacingAndGlyphs">Upland</text>
<text x="118.6" y="394" font-size="27.5" textLength="159.4" lengthAdjust="spacingAndGlyphs">Catchment</text>
<text x="663.4" y="580.5" font-size="18.4" textLength="128.7" lengthAdjust="spacingAndGlyphs">Natural Flood</text>
<text x="664.5" y="606.5" font-size="18.4" textLength="126.5" lengthAdjust="spacingAndGlyphs">Management</text>
<text x="679.7" y="632.8" font-size="18.4" textLength="96.2" lengthAdjust="spacingAndGlyphs">Strategies</text>
<text x="1044.4" y="555" font-size="27.5" textLength="247.6" lengthAdjust="spacingAndGlyphs">Slowing the Flow</text>
<text x="1495" y="504.7" font-size="27.5" textLength="156.8" lengthAdjust="spacingAndGlyphs">Reforested</text>
<circle cx="422.7" cy="1164.5" r="263.3" fill="none" stroke="#432b78" stroke-width="21.8"/>
<polygon points="914.7,286.8 918.5,285.7 922.2,288.7 924.6,291.7 924.5,295.1 914.0,309.4 904.9,308.6 904.2,303.0 911.7,296.6 914.9,291.0" fill="#e3ecf8"/>
<polygon points="907.2,277.0 909.4,276.9 918.5,285.7 914.7,287.0" fill="#b9bcc4"/>
<polygon points="874.8,282.3 895.1,288.3 899.3,291.7 901.9,296.6 904.0,303.0 914.0,309.4 920.7,314.7 921.6,316.9 916.2,319.9 910.2,322.2 902.7,322.3 896.7,320.7 889.1,316.9 883.9,314.3 892.9,310.7 892.7,305.6 891.2,300.2 886.1,295.1 874.8,288.3" fill="#fff"/>
<polygon points="859.0,277.0 874.8,282.3 874.8,288.3 859.4,279.7" fill="#b9bcc4"/>
<polygon points="879.7,312.8 886.1,313.2 887.6,316.5 882.4,317.7" fill="#b9bcc4"/>
<circle cx="918.8" cy="316.0" r="0.9" fill="#777"/>
<polygon points="921.5,316.5 926.0,317.8 925.6,319.3 920.4,318.6" fill="#ee6a35"/>
<g><path d="M1045.2 945.0 Q1068.6 883.0 1076.0 821.0" fill="none" stroke="#4a4350" stroke-width="0.6"/>
<path transform="translate(1058.7,904.7) rotate(-117)" d="M0 0 Q5.3 -7.9 14.1 0 Q5.3 7.9 0 0Z" fill="#b0bd78"/>
<path transform="translate(1061.4,895.4) rotate(-33)" d="M0 0 Q4.1 -6.0 10.7 0 Q4.1 6.0 0 0Z" fill="#6d7f45"/>
<path transform="translate(1063.8,886.1) rotate(-129)" d="M0 0 Q4.3 -6.4 11.3 0 Q4.3 6.4 0 0Z" fill="#5f7040"/>
<path transform="translate(1066.1,876.8) rotate(-16)" d="M0 0 Q4.7 -7.0 12.4 0 Q4.7 7.0 0 0Z" fill="#6d7f45"/>
<path transform="translate(1068.2,867.5) rotate(-124)" d="M0 0 Q4.3 -6.3 11.2 0 Q4.3 6.3 0 0Z" fill="#66783f"/>
<path transform="translate(1070.1,858.2) rotate(-20)" d="M0 0 Q5.0 -7.4 13.1 0 Q5.0 7.4 0 0Z" fill="#5f7040"/>
<path transform="translate(1071.9,848.9) rotate(-121)" d="M0 0 Q5.1 -7.6 13.6 0 Q5.1 7.6 0 0Z" fill="#b0bd78"/>
<path transform="translate(1073.4,839.6) rotate(-29)" d="M0 0 Q5.1 -7.5 13.3 0 Q5.1 7.5 0 0Z" fill="#5f7040"/>
<path transform="translate(1074.8,830.3) rotate(-142)" d="M0 0 Q4.6 -6.9 12.2 0 Q4.6 6.9 0 0Z" fill="#6d7f45"/>
<path transform="translate(1076.0,821.0) rotate(-32)" d="M0 0 Q5.4 -7.9 14.1 0 Q5.4 7.9 0 0Z" fill="#6d7f45"/>
<path transform="translate(1076.0,821.0) rotate(-83)" d="M0 0 Q4.8 -7.0 12.5 0 Q4.8 7.0 0 0Z" fill="#5f7040"/>
<path d="M1038.9 945.0 Q1045.5 892.5 1062.0 840.0" fill="none" stroke="#4a4350" stroke-width="0.6"/>
<path transform="translate(1044.6,908.9) rotate(-132)" d="M0 0 Q4.4 -6.5 11.6 0 Q4.4 6.5 0 0Z" fill="#a5b46b"/>
<path transform="translate(1046.5,899.1) rotate(-17)" d="M0 0 Q4.6 -6.8 12.2 0 Q4.6 6.8 0 0Z" fill="#6d7f45"/>
<path transform="translate(1048.7,889.2) rotate(-126)" d="M0 0 Q4.9 -7.2 12.8 0 Q4.9 7.2 0 0Z" fill="#6d7f45"/>
<path transform="translate(1051.0,879.4) rotate(-19)" d="M0 0 Q5.4 -7.9 14.1 0 Q5.4 7.9 0 0Z" fill="#5f7040"/>
<path transform="translate(1053.5,869.5) rotate(-132)" d="M0 0 Q4.3 -6.3 11.2 0 Q4.3 6.3 0 0Z" fill="#6d7f45"/>
<path transform="translate(1056.1,859.7) rotate(-12)" d="M0 0 Q4.8 -7.2 12.8 0 Q4.8 7.2 0 0Z" fill="#6d7f45"/>
<path transform="translate(1059.0,849.8) rotate(-129)" d="M0 0 Q5.4 -8.0 14.3 0 Q5.4 8.0 0 0Z" fill="#66783f"/>
<path transform="translate(1062.0,840.0) rotate(-31)" d="M0 0 Q5.3 -7.8 13.8 0 Q5.3 7.8 0 0Z" fill="#a5b46b"/>
<path transform="translate(1062.0,840.0) rotate(-73)" d="M0 0 Q4.8 -7.0 12.5 0 Q4.8 7.0 0 0Z" fill="#5f7040"/>
<path d="M1007.3 945.0 Q993.6 892.0 991.8 839.0" fill="none" stroke="#4a4350" stroke-width="0.6"/>
<path transform="translate(999.5,909.7) rotate(-151)" d="M0 0 Q4.3 -6.3 11.2 0 Q4.3 6.3 0 0Z" fill="#a5b46b"/>
<path transform="translate(997.9,900.8) rotate(-38)" d="M0 0 Q4.1 -6.1 10.8 0 Q4.1 6.1 0 0Z" fill="#9aab62"/>
<path transform="translate(996.6,892.0) rotate(-148)" d="M0 0 Q4.9 -7.2 12.8 0 Q4.9 7.2 0 0Z" fill="#66783f"/>
<path transform="translate(995.3,883.2) rotate(-45)" d="M0 0 Q5.5 -8.1 14.4 0 Q5.5 8.1 0 0Z" fill="#5f7040"/>
<path transform="translate(994.3,874.3) rotate(-139)" d="M0 0 Q4.8 -7.1 12.6 0 Q4.8 7.1 0 0Z" fill="#a5b46b"/>
<path transform="translate(993.4,865.5) rotate(-48)" d="M0 0 Q4.4 -6.5 11.6 0 Q4.4 6.5 0 0Z" fill="#5f7040"/>
<path transform="translate(992.7,856.7) rotate(-142)" d="M0 0 Q5.4 -8.0 14.2 0 Q5.4 8.0 0 0Z" fill="#5f7040"/>
<path transform="translate(992.2,847.8) rotate(-44)" d="M0 0 Q5.3 -7.8 13.9 0 Q5.3 7.8 0 0Z" fill="#5f7040"/>
<path transform="translate(991.8,839.0) rotate(-149)" d="M0 0 Q4.2 -6.2 11.0 0 Q4.2 6.2 0 0Z" fill="#6d7f45"/>
<path transform="translate(991.8,839.0) rotate(-92)" d="M0 0 Q4.8 -7.0 12.5 0 Q4.8 7.0 0 0Z" fill="#6d7f45"/>
<path d="M1024.5 945.0 Q1032.2 897.5 1030.0 850.0" fill="none" stroke="#4a4350" stroke-width="0.6"/>
<path transform="translate(1028.8,911.1) rotate(-143)" d="M0 0 Q4.4 -6.5 11.5 0 Q4.4 6.5 0 0Z" fill="#b0bd78"/>
<path transform="translate(1029.5,900.9) rotate(-33)" d="M0 0 Q4.8 -7.1 12.7 0 Q4.8 7.1 0 0Z" fill="#9aab62"/>
<path transform="translate(1030.1,890.7) rotate(-152)" d="M0 0 Q4.5 -6.6 11.8 0 Q4.5 6.6 0 0Z" fill="#9aab62"/>
<path transform="translate(1030.4,880.5) rotate(-33)" d="M0 0 Q4.1 -6.1 10.9 0 Q4.1 6.1 0 0Z" fill="#b0bd78"/>
<path transform="translate(1030.5,870.4) rotate(-139)" d="M0 0 Q5.3 -7.9 14.1 0 Q5.3 7.9 0 0Z" fill="#5f7040"/>
<path transform="translate(1030.4,860.2) rotate(-33)" d="M0 0 Q4.1 -6.0 10.7 0 Q4.1 6.0 0 0Z" fill="#5f7040"/>
<path transform="translate(1030.0,850.0) rotate(-133)" d="M0 0 Q4.6 -6.7 12.0 0 Q4.6 6.7 0 0Z" fill="#b0bd78"/>
<path transform="translate(1030.0,850.0) rotate(-93)" d="M0 0 Q4.8 -7.0 12.5 0 Q4.8 7.0 0 0Z" fill="#6d7f45"/>
<path d="M989.7 945.0 Q963.2 906.4 952.7 867.7" fill="none" stroke="#4a4350" stroke-width="0.6"/>
<path transform="translate(972.8,917.4) rotate(-173)" d="M0 0 Q4.3 -6.3 11.3 0 Q4.3 6.3 0 0Z" fill="#6d7f45"/>
<path transform="translate(968.5,909.1) rotate(-55)" d="M0 0 Q4.4 -6.5 11.6 0 Q4.4 6.5 0 0Z" fill="#9aab62"/>
<path transform="translate(964.6,900.8) rotate(-174)" d="M0 0 Q4.1 -6.0 10.7 0 Q4.1 6.0 0 0Z" fill="#66783f"/>
<path transform="translate(961.1,892.5) rotate(-69)" d="M0 0 Q4.8 -7.0 12.5 0 Q4.8 7.0 0 0Z" fill="#6d7f45"/>
<path transform="translate(957.9,884.3) rotate(-156)" d="M0 0 Q4.3 -6.4 11.3 0 Q4.3 6.4 0 0Z" fill="#5f7040"/>
<path transform="translate(955.1,876.0) rotate(-65)" d="M0 0 Q4.9 -7.2 12.9 0 Q4.9 7.2 0 0Z" fill="#6d7f45"/>
<path transform="translate(952.7,867.7) rotate(-166)" d="M0 0 Q4.7 -6.9 12.3 0 Q4.7 6.9 0 0Z" fill="#6d7f45"/>
<path transform="translate(952.7,867.7) rotate(-105)" d="M0 0 Q4.8 -7.0 12.5 0 Q4.8 7.0 0 0Z" fill="#66783f"/>
<path d="M999.8 945.0 Q991.4 912.5 975.0 880.0" fill="none" stroke="#4a4350" stroke-width="0.6"/>
<path transform="translate(992.3,920.6) rotate(-166)" d="M0 0 Q5.3 -7.8 13.9 0 Q5.3 7.8 0 0Z" fill="#b0bd78"/>
<path transform="translate(989.4,912.5) rotate(-51)" d="M0 0 Q4.1 -6.0 10.8 0 Q4.1 6.0 0 0Z" fill="#a5b46b"/>
<path transform="translate(986.2,904.4) rotate(-173)" d="M0 0 Q5.2 -7.7 13.8 0 Q5.2 7.7 0 0Z" fill="#5f7040"/>
<path transform="translate(982.7,896.2) rotate(-65)" d="M0 0 Q5.2 -7.7 13.7 0 Q5.2 7.7 0 0Z" fill="#9aab62"/>
<path transform="translate(979.0,888.1) rotate(-164)" d="M0 0 Q4.2 -6.2 11.1 0 Q4.2 6.2 0 0Z" fill="#b0bd78"/>
<path transform="translate(975.0,880.0) rotate(-65)" d="M0 0 Q4.9 -7.3 13.0 0 Q4.9 7.3 0 0Z" fill="#9aab62"/>
<path transform="translate(975.0,880.0) rotate(-117)" d="M0 0 Q4.8 -7.0 12.5 0 Q4.8 7.0 0 0Z" fill="#5f7040"/>
<path d="M1011.0 945.0 Q1002.5 917.5 1000.0 890.0" fill="none" stroke="#4a4350" stroke-width="0.6"/>
<path transform="translate(1005.2,923.0) rotate(-143)" d="M0 0 Q4.6 -6.8 12.2 0 Q4.6 6.8 0 0Z" fill="#9aab62"/>
<path transform="translate(1003.5,914.8) rotate(-37)" d="M0 0 Q5.3 -7.8 13.9 0 Q5.3 7.8 0 0Z" fill="#9aab62"/>
<path transform="translate(1002.0,906.5) rotate(-153)" d="M0 0 Q5.4 -8.0 14.3 0 Q5.4 8.0 0 0Z" fill="#5f7040"/>
<path transform="translate(1000.9,898.2) rotate(-38)" d="M0 0 Q5.2 -7.7 13.8 0 Q5.2 7.7 0 0Z" fill="#66783f"/>
<path transform="translate(1000.0,890.0) rotate(-159)" d="M0 0 Q4.8 -7.1 12.7 0 Q4.8 7.1 0 0Z" fill="#b0bd78"/>
<path transform="translate(1000.0,890.0) rotate(-95)" d="M0 0 Q4.8 -7.0 12.5 0 Q4.8 7.0 0 0Z" fill="#66783f"/>
<path d="M1061.8 945.0 Q1095.3 916.8 1112.8 888.5" fill="none" stroke="#4a4350" stroke-width="0.6"/>
<path transform="translate(1084.7,923.8) rotate(-110)" d="M0 0 Q4.2 -6.2 11.1 0 Q4.2 6.2 0 0Z" fill="#6d7f45"/>
<path transform="translate(1091.3,916.8) rotate(15)" d="M0 0 Q5.0 -7.4 13.2 0 Q5.0 7.4 0 0Z" fill="#a5b46b"/>
<path transform="translate(1097.4,909.7) rotate(-105)" d="M0 0 Q4.1 -6.0 10.7 0 Q4.1 6.0 0 0Z" fill="#5f7040"/>
<path transform="translate(1103.0,902.6) rotate(-0)" d="M0 0 Q4.4 -6.5 11.5 0 Q4.4 6.5 0 0Z" fill="#66783f"/>
<path transform="translate(1108.2,895.6) rotate(-106)" d="M0 0 Q5.4 -7.9 14.1 0 Q5.4 7.9 0 0Z" fill="#b0bd78"/>
<path transform="translate(1112.8,888.5) rotate(-15)" d="M0 0 Q5.4 -8.0 14.3 0 Q5.4 8.0 0 0Z" fill="#5f7040"/>
<path transform="translate(1112.8,888.5) rotate(-58)" d="M0 0 Q4.8 -7.0 12.5 0 Q4.8 7.0 0 0Z" fill="#6d7f45"/>
<path d="M1051.5 945.0 Q1066.8 912.5 1090.0 880.0" fill="none" stroke="#4a4350" stroke-width="0.6"/>
<path transform="translate(1064.1,920.6) rotate(-109)" d="M0 0 Q4.3 -6.4 11.4 0 Q4.3 6.4 0 0Z" fill="#a5b46b"/>
<path transform="translate(1068.8,912.5) rotate(-15)" d="M0 0 Q5.2 -7.6 13.6 0 Q5.2 7.6 0 0Z" fill="#a5b46b"/>
<path transform="translate(1073.7,904.4) rotate(-119)" d="M0 0 Q4.0 -6.0 10.7 0 Q4.0 6.0 0 0Z" fill="#66783f"/>
<path transform="translate(1078.9,896.2) rotate(-16)" d="M0 0 Q4.4 -6.5 11.6 0 Q4.4 6.5 0 0Z" fill="#5f7040"/>
<path transform="translate(1084.3,888.1) rotate(-109)" d="M0 0 Q4.1 -6.1 10.8 0 Q4.1 6.1 0 0Z" fill="#b0bd78"/>
<path transform="translate(1090.0,880.0) rotate(7)" d="M0 0 Q5.1 -7.6 13.5 0 Q5.1 7.6 0 0Z" fill="#a5b46b"/>
<path transform="translate(1090.0,880.0) rotate(-54)" d="M0 0 Q4.8 -7.0 12.5 0 Q4.8 7.0 0 0Z" fill="#66783f"/>
<path d="M1069.5 945.0 Q1104.8 922.5 1130.0 900.0" fill="none" stroke="#4a4350" stroke-width="0.6"/>
<path transform="translate(1096.1,927.0) rotate(-88)" d="M0 0 Q4.1 -6.0 10.7 0 Q4.1 6.0 0 0Z" fill="#a5b46b"/>
<path transform="translate(1105.2,920.2) rotate(15)" d="M0 0 Q4.5 -6.6 11.8 0 Q4.5 6.6 0 0Z" fill="#6d7f45"/>
<path transform="translate(1114.0,913.5) rotate(-88)" d="M0 0 Q4.6 -6.8 12.1 0 Q4.6 6.8 0 0Z" fill="#9aab62"/>
<path transform="translate(1122.2,906.7) rotate(5)" d="M0 0 Q4.5 -6.7 11.9 0 Q4.5 6.7 0 0Z" fill="#9aab62"/>
<path transform="translate(1130.0,900.0) rotate(-82)" d="M0 0 Q5.1 -7.5 13.3 0 Q5.1 7.5 0 0Z" fill="#b0bd78"/>
<path transform="translate(1130.0,900.0) rotate(-42)" d="M0 0 Q4.8 -7.0 12.5 0 Q4.8 7.0 0 0Z" fill="#66783f"/>
<path d="M1076.2 945.0 Q1113.6 916.5 1145.0 888.0" fill="none" stroke="#4a4350" stroke-width="0.6"/>
<path transform="translate(1105.2,922.2) rotate(-89)" d="M0 0 Q4.9 -7.2 12.9 0 Q4.9 7.2 0 0Z" fill="#66783f"/>
<path transform="translate(1115.5,913.7) rotate(16)" d="M0 0 Q4.1 -6.1 10.8 0 Q4.1 6.1 0 0Z" fill="#5f7040"/>
<path transform="translate(1125.6,905.1) rotate(-90)" d="M0 0 Q4.7 -7.0 12.5 0 Q4.7 7.0 0 0Z" fill="#66783f"/>
<path transform="translate(1135.5,896.5) rotate(22)" d="M0 0 Q4.6 -6.8 12.2 0 Q4.6 6.8 0 0Z" fill="#5f7040"/>
<path transform="translate(1145.0,888.0) rotate(-96)" d="M0 0 Q5.0 -7.4 13.2 0 Q5.0 7.4 0 0Z" fill="#a5b46b"/>
<path transform="translate(1145.0,888.0) rotate(-42)" d="M0 0 Q4.8 -7.0 12.5 0 Q4.8 7.0 0 0Z" fill="#66783f"/>
<path d="M1106.3 945.0 Q1169.1 910.2 1211.8 875.5" fill="none" stroke="#4a4350" stroke-width="0.6"/>
<path transform="translate(1148.6,920.2) rotate(-83)" d="M0 0 Q5.3 -7.8 13.9 0 Q5.3 7.8 0 0Z" fill="#66783f"/>
<path transform="translate(1160.3,912.7) rotate(31)" d="M0 0 Q4.8 -7.1 12.7 0 Q4.8 7.1 0 0Z" fill="#5f7040"/>
<path transform="translate(1171.5,905.3) rotate(-86)" d="M0 0 Q4.2 -6.2 11.1 0 Q4.2 6.2 0 0Z" fill="#66783f"/>
<path transform="translate(1182.3,897.8) rotate(26)" d="M0 0 Q4.8 -7.1 12.6 0 Q4.8 7.1 0 0Z" fill="#6d7f45"/>
<path transform="translate(1192.6,890.4) rotate(-95)" d="M0 0 Q4.8 -7.1 12.7 0 Q4.8 7.1 0 0Z" fill="#66783f"/>
<path transform="translate(1202.4,882.9) rotate(20)" d="M0 0 Q4.7 -7.0 12.4 0 Q4.7 7.0 0 0Z" fill="#b0bd78"/>
<path transform="translate(1211.8,875.5) rotate(-80)" d="M0 0 Q4.2 -6.2 11.0 0 Q4.2 6.2 0 0Z" fill="#5f7040"/>
<path transform="translate(1211.8,875.5) rotate(-39)" d="M0 0 Q4.8 -7.0 12.5 0 Q4.8 7.0 0 0Z" fill="#66783f"/>
<path d="M1094.2 945.0 Q1145.6 925.0 1185.0 905.0" fill="none" stroke="#4a4350" stroke-width="0.6"/>
<path transform="translate(1133.4,929.0) rotate(-68)" d="M0 0 Q4.1 -6.0 10.7 0 Q4.1 6.0 0 0Z" fill="#5f7040"/>
<path transform="translate(1147.1,923.0) rotate(17)" d="M0 0 Q4.2 -6.2 11.1 0 Q4.2 6.2 0 0Z" fill="#66783f"/>
<path transform="translate(1160.3,917.0) rotate(-89)" d="M0 0 Q4.9 -7.2 12.8 0 Q4.9 7.2 0 0Z" fill="#6d7f45"/>
<path transform="translate(1172.9,911.0) rotate(39)" d="M0 0 Q4.8 -7.1 12.7 0 Q4.8 7.1 0 0Z" fill="#66783f"/>
<path transform="translate(1185.0,905.0) rotate(-70)" d="M0 0 Q5.1 -7.5 13.4 0 Q5.1 7.5 0 0Z" fill="#66783f"/>
<path transform="translate(1185.0,905.0) rotate(-27)" d="M0 0 Q4.8 -7.0 12.5 0 Q4.8 7.0 0 0Z" fill="#6d7f45"/>
<path d="M1114.5 945.0 Q1176.2 927.5 1230.0 910.0" fill="none" stroke="#4a4350" stroke-width="0.6"/>
<path transform="translate(1174.2,927.5) rotate(-79)" d="M0 0 Q4.3 -6.3 11.3 0 Q4.3 6.3 0 0Z" fill="#9aab62"/>
<path transform="translate(1202.6,918.8) rotate(39)" d="M0 0 Q4.7 -6.9 12.3 0 Q4.7 6.9 0 0Z" fill="#a5b46b"/>
<path transform="translate(1230.0,910.0) rotate(-64)" d="M0 0 Q4.9 -7.2 12.9 0 Q4.9 7.2 0 0Z" fill="#5f7040"/>
<path transform="translate(1230.0,910.0) rotate(-18)" d="M0 0 Q4.8 -7.0 12.5 0 Q4.8 7.0 0 0Z" fill="#5f7040"/>
<path d="M929.4 945.0 Q862.0 920.5 818.6 896.0" fill="none" stroke="#4a4350" stroke-width="0.6"/>
<path transform="translate(879.3,925.4) rotate(-206)" d="M0 0 Q4.4 -6.5 11.5 0 Q4.4 6.5 0 0Z" fill="#66783f"/>
<path transform="translate(862.5,918.0) rotate(-91)" d="M0 0 Q4.6 -6.8 12.2 0 Q4.6 6.8 0 0Z" fill="#6d7f45"/>
<path transform="translate(846.8,910.7) rotate(-211)" d="M0 0 Q4.8 -7.0 12.6 0 Q4.8 7.0 0 0Z" fill="#6d7f45"/>
<path transform="translate(832.2,903.3) rotate(-102)" d="M0 0 Q5.3 -7.8 14.0 0 Q5.3 7.8 0 0Z" fill="#6d7f45"/>
<path transform="translate(818.6,896.0) rotate(-209)" d="M0 0 Q5.3 -7.9 14.1 0 Q5.3 7.9 0 0Z" fill="#5f7040"/>
<path transform="translate(818.6,896.0) rotate(-151)" d="M0 0 Q4.8 -7.0 12.5 0 Q4.8 7.0 0 0Z" fill="#6d7f45"/>
<path d="M952.5 945.0 Q905.2 930.0 870.0 915.0" fill="none" stroke="#4a4350" stroke-width="0.6"/>
<path transform="translate(916.6,933.0) rotate(-219)" d="M0 0 Q4.3 -6.4 11.3 0 Q4.3 6.4 0 0Z" fill="#6d7f45"/>
<path transform="translate(904.2,928.5) rotate(-116)" d="M0 0 Q4.8 -7.0 12.6 0 Q4.8 7.0 0 0Z" fill="#66783f"/>
<path transform="translate(892.2,924.0) rotate(-212)" d="M0 0 Q5.1 -7.6 13.5 0 Q5.1 7.6 0 0Z" fill="#6d7f45"/>
<path transform="translate(880.8,919.5) rotate(-103)" d="M0 0 Q4.9 -7.2 12.8 0 Q4.9 7.2 0 0Z" fill="#5f7040"/>
<path transform="translate(870.0,915.0) rotate(-205)" d="M0 0 Q4.4 -6.5 11.6 0 Q4.4 6.5 0 0Z" fill="#66783f"/>
<path transform="translate(870.0,915.0) rotate(-157)" d="M0 0 Q4.8 -7.0 12.5 0 Q4.8 7.0 0 0Z" fill="#5f7040"/>
<path d="M943.5 945.0 Q892.8 932.5 850.0 920.0" fill="none" stroke="#4a4350" stroke-width="0.6"/>
<path transform="translate(894.8,932.5) rotate(-214)" d="M0 0 Q4.5 -6.6 11.8 0 Q4.5 6.6 0 0Z" fill="#6d7f45"/>
<path transform="translate(871.9,926.2) rotate(-114)" d="M0 0 Q5.0 -7.4 13.2 0 Q5.0 7.4 0 0Z" fill="#66783f"/>
<path transform="translate(850.0,920.0) rotate(-215)" d="M0 0 Q5.2 -7.7 13.8 0 Q5.2 7.7 0 0Z" fill="#66783f"/>
<path transform="translate(850.0,920.0) rotate(-164)" d="M0 0 Q4.8 -7.0 12.5 0 Q4.8 7.0 0 0Z" fill="#6d7f45"/>
<path d="M977.2 945.0 Q946.1 925.0 925.0 905.0" fill="none" stroke="#4a4350" stroke-width="0.6"/>
<path transform="translate(954.0,929.0) rotate(-208)" d="M0 0 Q4.1 -6.1 10.9 0 Q4.1 6.1 0 0Z" fill="#5f7040"/>
<path transform="translate(946.0,923.0) rotate(-80)" d="M0 0 Q4.1 -6.1 10.8 0 Q4.1 6.1 0 0Z" fill="#6d7f45"/>
<path transform="translate(938.6,917.0) rotate(-197)" d="M0 0 Q5.1 -7.6 13.5 0 Q5.1 7.6 0 0Z" fill="#66783f"/>
<path transform="translate(931.6,911.0) rotate(-77)" d="M0 0 Q4.4 -6.5 11.5 0 Q4.4 6.5 0 0Z" fill="#a5b46b"/>
<path transform="translate(925.0,905.0) rotate(-180)" d="M0 0 Q4.9 -7.3 13.0 0 Q4.9 7.3 0 0Z" fill="#9aab62"/>
<path transform="translate(925.0,905.0) rotate(-137)" d="M0 0 Q4.8 -7.0 12.5 0 Q4.8 7.0 0 0Z" fill="#6d7f45"/>
<path d="M988.5 945.0 Q972.2 930.0 950.0 915.0" fill="none" stroke="#4a4350" stroke-width="0.6"/>
<path transform="translate(974.5,933.0) rotate(-185)" d="M0 0 Q4.1 -6.1 10.8 0 Q4.1 6.1 0 0Z" fill="#5f7040"/>
<path transform="translate(968.8,928.5) rotate(-84)" d="M0 0 Q4.2 -6.1 10.9 0 Q4.2 6.1 0 0Z" fill="#a5b46b"/>
<path transform="translate(962.8,924.0) rotate(-185)" d="M0 0 Q4.7 -6.9 12.3 0 Q4.7 6.9 0 0Z" fill="#9aab62"/>
<path transform="translate(956.5,919.5) rotate(-105)" d="M0 0 Q4.5 -6.7 11.9 0 Q4.5 6.7 0 0Z" fill="#5f7040"/>
<path transform="translate(950.0,915.0) rotate(-188)" d="M0 0 Q5.0 -7.3 13.0 0 Q5.0 7.3 0 0Z" fill="#9aab62"/>
<path transform="translate(950.0,915.0) rotate(-146)" d="M0 0 Q4.8 -7.0 12.5 0 Q4.8 7.0 0 0Z" fill="#6d7f45"/>
<path d="M1038.0 945.0 Q1052.0 925.0 1060.0 905.0" fill="none" stroke="#4a4350" stroke-width="0.6"/>
<path transform="translate(1048.2,929.0) rotate(-103)" d="M0 0 Q4.5 -6.6 11.8 0 Q4.5 6.6 0 0Z" fill="#5f7040"/>
<path transform="translate(1051.6,923.0) rotate(-5)" d="M0 0 Q4.2 -6.2 11.0 0 Q4.2 6.2 0 0Z" fill="#66783f"/>
<path transform="translate(1054.7,917.0) rotate(-106)" d="M0 0 Q5.4 -7.9 14.2 0 Q5.4 7.9 0 0Z" fill="#5f7040"/>
<path transform="translate(1057.5,911.0) rotate(-7)" d="M0 0 Q4.5 -6.6 11.7 0 Q4.5 6.6 0 0Z" fill="#9aab62"/>
<path transform="translate(1060.0,905.0) rotate(-132)" d="M0 0 Q5.2 -7.7 13.7 0 Q5.2 7.7 0 0Z" fill="#b0bd78"/>
<path transform="translate(1060.0,905.0) rotate(-68)" d="M0 0 Q4.8 -7.0 12.5 0 Q4.8 7.0 0 0Z" fill="#66783f"/>
<path d="M1029.0 945.0 Q1031.5 922.5 1040.0 900.0" fill="none" stroke="#4a4350" stroke-width="0.6"/>
<path transform="translate(1032.0,927.0) rotate(-135)" d="M0 0 Q4.8 -7.1 12.6 0 Q4.8 7.1 0 0Z" fill="#9aab62"/>
<path transform="translate(1033.6,920.2) rotate(-23)" d="M0 0 Q4.1 -6.1 10.8 0 Q4.1 6.1 0 0Z" fill="#9aab62"/>
<path transform="translate(1035.4,913.5) rotate(-128)" d="M0 0 Q4.3 -6.3 11.3 0 Q4.3 6.3 0 0Z" fill="#b0bd78"/>
<path transform="translate(1037.6,906.7) rotate(-28)" d="M0 0 Q4.6 -6.7 12.0 0 Q4.6 6.7 0 0Z" fill="#b0bd78"/>
<path transform="translate(1040.0,900.0) rotate(-112)" d="M0 0 Q5.4 -7.9 14.1 0 Q5.4 7.9 0 0Z" fill="#5f7040"/>
<path transform="translate(1040.0,900.0) rotate(-69)" d="M0 0 Q4.8 -7.0 12.5 0 Q4.8 7.0 0 0Z" fill="#66783f"/>
<path d="M1056.0 945.0 Q1082.0 930.0 1100.0 915.0" fill="none" stroke="#4a4350" stroke-width="0.6"/>
<path transform="translate(1077.2,931.9) rotate(-92)" d="M0 0 Q4.9 -7.2 12.9 0 Q4.9 7.2 0 0Z" fill="#6d7f45"/>
<path transform="translate(1085.4,926.2) rotate(9)" d="M0 0 Q4.7 -7.0 12.4 0 Q4.7 7.0 0 0Z" fill="#b0bd78"/>
<path transform="translate(1093.0,920.6) rotate(-79)" d="M0 0 Q5.1 -7.5 13.3 0 Q5.1 7.5 0 0Z" fill="#6d7f45"/>
<path transform="translate(1100.0,915.0) rotate(15)" d="M0 0 Q4.6 -6.8 12.1 0 Q4.6 6.8 0 0Z" fill="#6d7f45"/>
<path transform="translate(1100.0,915.0) rotate(-40)" d="M0 0 Q4.8 -7.0 12.5 0 Q4.8 7.0 0 0Z" fill="#66783f"/>
<path d="M961.5 945.0 Q921.8 937.5 890.0 930.0" fill="none" stroke="#4a4350" stroke-width="0.6"/>
<path transform="translate(923.8,937.5) rotate(-209)" d="M0 0 Q4.2 -6.2 11.1 0 Q4.2 6.2 0 0Z" fill="#5f7040"/>
<path transform="translate(906.4,933.8) rotate(-121)" d="M0 0 Q5.1 -7.6 13.5 0 Q5.1 7.6 0 0Z" fill="#5f7040"/>
<path transform="translate(890.0,930.0) rotate(-230)" d="M0 0 Q4.7 -6.9 12.3 0 Q4.7 6.9 0 0Z" fill="#5f7040"/>
<path transform="translate(890.0,930.0) rotate(-167)" d="M0 0 Q4.8 -7.0 12.5 0 Q4.8 7.0 0 0Z" fill="#66783f"/>
<path d="M1015.5 945.0 Q1012.8 930.0 1010.0 915.0" fill="none" stroke="#4a4350" stroke-width="0.6"/>
<path transform="translate(1012.8,930.0) rotate(-144)" d="M0 0 Q4.9 -7.2 12.8 0 Q4.9 7.2 0 0Z" fill="#a5b46b"/>
<path transform="translate(1011.4,922.5) rotate(-41)" d="M0 0 Q5.1 -7.5 13.4 0 Q5.1 7.5 0 0Z" fill="#b0bd78"/>
<path transform="translate(1010.0,915.0) rotate(-155)" d="M0 0 Q5.0 -7.4 13.1 0 Q5.0 7.4 0 0Z" fill="#a5b46b"/>
<path transform="translate(1010.0,915.0) rotate(-100)" d="M0 0 Q4.8 -7.0 12.5 0 Q4.8 7.0 0 0Z" fill="#5f7040"/>
<path d="M1087.5 945.0 Q1131.8 935.0 1170.0 925.0" fill="none" stroke="#4a4350" stroke-width="0.6"/>
<path transform="translate(1130.2,935.0) rotate(-57)" d="M0 0 Q4.9 -7.2 12.9 0 Q4.9 7.2 0 0Z" fill="#6d7f45"/>
<path transform="translate(1150.5,930.0) rotate(39)" d="M0 0 Q4.3 -6.3 11.3 0 Q4.3 6.3 0 0Z" fill="#66783f"/>
<path transform="translate(1170.0,925.0) rotate(-64)" d="M0 0 Q4.5 -6.6 11.7 0 Q4.5 6.6 0 0Z" fill="#9aab62"/>
<path transform="translate(1170.0,925.0) rotate(-15)" d="M0 0 Q4.8 -7.0 12.5 0 Q4.8 7.0 0 0Z" fill="#5f7040"/></g>
<rect x="1462.3" y="762.5" width="219.2" height="147.5" fill="#fbfbfb"/>
<clipPath id="phc"><rect x="1466.3" y="765.6" width="212" height="141.3"/></clipPath>
<g clip-path="url(#phc)">
<rect x="1466.2" y="765.7" width="212.4" height="141" fill="#d6dae1"/>
<ellipse cx="1515.2" cy="773.9" rx="56.8" ry="12.0" fill="#b4bac6" filter="url(#b4)"/>
<ellipse cx="1601.2" cy="780.8" rx="29.2" ry="12.9" fill="#b9d1ee" filter="url(#b4)"/>
<ellipse cx="1652.8" cy="777.4" rx="27.5" ry="15.5" fill="#f0f2f5" filter="url(#b4)"/>
<ellipse cx="1558.2" cy="806.6" rx="51.6" ry="10.3" fill="#eef0f3" filter="url(#b4)"/>
<ellipse cx="1498.0" cy="803.2" rx="34.4" ry="8.6" fill="#e6e9ee" filter="url(#b4)"/>
<ellipse cx="1627.0" cy="811.8" rx="44.7" ry="8.6" fill="#e9ecf0" filter="url(#b4)"/>
<ellipse cx="1575.4" cy="823.8" rx="103.2" ry="5.2" fill="#cfd4dc" filter="url(#b4)"/>
<polygon points="1466.2,829.0 1541.0,827.3 1575.4,828.1 1575.4,841.0 1466.2,841.0" fill="#5d7668"/>
<polygon points="1466.2,835.9 1482.5,839.3 1506.6,835.9 1537.6,829.8 1558.2,830.7 1572.0,825.9 1592.6,828.1 1616.7,826.4 1627.0,823.0 1640.8,820.4 1661.4,819.0 1676.9,820.4 1678.6,823.8 1678.6,880.6 1466.2,872.0" fill="#3f6229"/>
<polygon points="1646.0,833.3 1678.6,829.8 1678.6,839.3 1654.6,841.0" fill="#6fae40"/>
<ellipse cx="1473.9" cy="844.5" rx="10.3" ry="9.5" fill="#5c8a3a"/>
<ellipse cx="1527.3" cy="846.2" rx="12.0" ry="12.0" fill="#568536"/>
<ellipse cx="1494.6" cy="856.5" rx="18.9" ry="10.3" fill="#587c3e"/>
<ellipse cx="1541.0" cy="858.2" rx="15.5" ry="9.5" fill="#6a8a52"/>
<ellipse cx="1565.1" cy="847.9" rx="12.0" ry="8.6" fill="#5f7a3a"/>
<ellipse cx="1566.8" cy="863.4" rx="10.3" ry="6.0" fill="#6d8c50"/>
<ellipse cx="1587.5" cy="859.9" rx="13.8" ry="11.2" fill="#4d7038"/>
<ellipse cx="1609.8" cy="853.1" rx="12.0" ry="6.9" fill="#7a7a50"/>
<ellipse cx="1618.4" cy="856.5" rx="6.9" ry="4.3" fill="#8a5a40"/>
<ellipse cx="1640.8" cy="859.9" rx="18.9" ry="18.1" fill="#66804a"/>
<ellipse cx="1667.5" cy="863.4" rx="12.9" ry="15.5" fill="#5a4a30"/>
<ellipse cx="1666.6" cy="858.2" rx="10.3" ry="10.3" fill="#6a6a3a"/>
<ellipse cx="1652.8" cy="825.5" rx="24.1" ry="6.0" fill="#35582a"/>
<polygon points="1466.2,869.4 1523.8,867.7 1575.4,869.9 1601.2,861.7 1621.9,862.5 1623.6,875.4 1678.6,879.7 1678.6,906.7 1466.2,906.7" fill="#6cab42"/>
<polygon points="1466.2,872.8 1541.0,872.0 1609.8,875.4 1609.8,882.3 1523.8,883.2 1466.2,881.4" fill="#8fae5c" opacity="0.8"/>
<polygon points="1466.2,894.7 1558.2,895.7 1678.6,894.7 1678.6,906.7 1466.2,906.7" fill="#2f5a24"/>
<ellipse cx="1468.8" cy="889.2" rx="2.4" ry="1.8" fill="#ece4d4"/>
<ellipse cx="1480.8" cy="891.8" rx="2.8" ry="2.1" fill="#ece4d4"/>
<ellipse cx="1500.2" cy="891.4" rx="2.4" ry="1.8" fill="#ece4d4"/>
<ellipse cx="1487.7" cy="884.0" rx="1.5" ry="1.2" fill="#ece4d4"/>
<ellipse cx="1555.6" cy="890.6" rx="2.6" ry="1.9" fill="#ece4d4"/>
<ellipse cx="1625.3" cy="892.1" rx="3.1" ry="2.3" fill="#ece4d4"/>
<ellipse cx="1637.9" cy="885.7" rx="2.6" ry="1.9" fill="#ece4d4"/>
<ellipse cx="1646.8" cy="882.0" rx="1.5" ry="1.2" fill="#ece4d4"/>
<ellipse cx="1657.6" cy="887.5" rx="3.4" ry="2.6" fill="#ece4d4"/>
<ellipse cx="1666.3" cy="891.4" rx="4.1" ry="3.1" fill="#ece4d4"/>
<ellipse cx="1625.0" cy="898.6" rx="5.2" ry="3.9" fill="#ece4d4"/>
<ellipse cx="1652.8" cy="898.1" rx="6.5" ry="4.9" fill="#ece4d4"/>
</g>
<circle cx="1815" cy="793" r="134.6" fill="none" stroke="#b3f1ff" stroke-width="11"/>
<text x="1742" y="723" font-size="17" style="font-family:'Liberation Serif',serif;font-weight:bold">Pond</text>
<circle cx="1707.5" cy="742.7" r="1.5" fill="#fdfbdc"/>
<text x="1713.5" y="747.0" font-size="12.3" style="font-weight:normal;letter-spacing:0.4px">Designed to</text>
<text x="1713.5" y="763.0" font-size="12.3" style="font-weight:normal;letter-spacing:0.4px">in mid-Wales</text>
<circle cx="1707.5" cy="776.5" r="1.5" fill="#fdfbdc"/>
<text x="1713.5" y="780.8" font-size="12.3" style="font-weight:normal;letter-spacing:0.4px">Multiple lines</text>
<text x="1713.5" y="797.5" font-size="12.3" style="font-weight:normal;letter-spacing:0.4px">together with</text>
<text x="1713.5" y="814.6" font-size="12.3" style="font-weight:normal;letter-spacing:0.4px">woodland</text>
<circle cx="1707.5" cy="827.0" r="1.5" fill="#fdfbdc"/>
<text x="1713.5" y="831.3" font-size="12.3" style="font-weight:normal;letter-spacing:0.4px">Infiltration</text>
<text x="1713.5" y="848.4" font-size="12.3" style="font-weight:normal;letter-spacing:0.4px">were 60 times</text>
<text x="1713.5" y="864.3" font-size="12.3" style="font-weight:normal;letter-spacing:0.4px">pasture</text>
<g><rect x="1676.3" y="780" width="1.6" height="13" fill="#a9a39a"/><path d="M1659.5 741 C1666 738.5 1678 738.5 1685 741 C1686 744 1685 746 1683 747 C1682 754 1685 762 1691 770 C1692.5 775 1690 778 1686 779 C1678 781.5 1668 781.5 1661 779 C1657.5 777.5 1657.5 773 1660 769 C1665 761 1666 754 1664 747 C1660 746 1658.5 744 1659.5 741Z" fill="#5db78a"/><ellipse cx="1672.3" cy="741.3" rx="12.8" ry="2.6" fill="#3f9f73"/><path d="M1660 769 C1668 772 1682 772 1691 770 C1692.5 775 1690 778 1686 779 C1678 781.5 1668 781.5 1661 779 C1657.5 777.5 1657.5 773 1660 769Z" fill="#6cc497"/></g>
</svg>
</body></html>
